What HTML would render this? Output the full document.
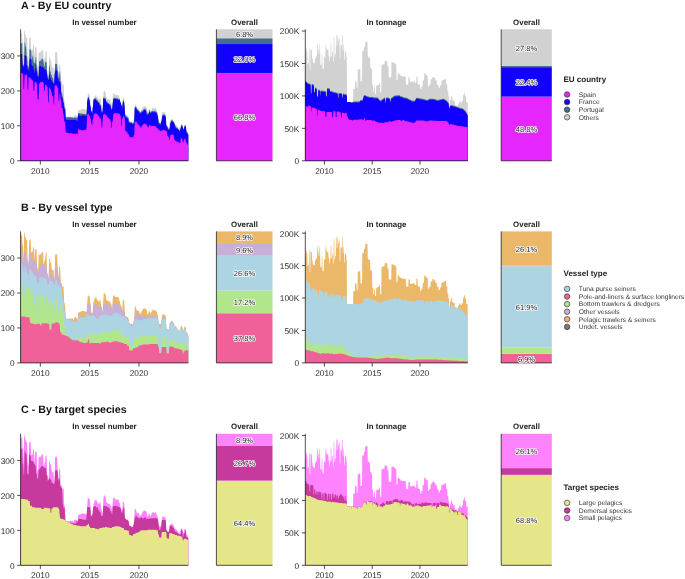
<!DOCTYPE html>
<html><head><meta charset="utf-8"><style>
html,body{margin:0;padding:0;background:#fff;}
body{width:685px;height:579px;overflow:hidden;}
svg{display:block;will-change:transform;text-rendering:geometricPrecision;font-family:"Liberation Sans", sans-serif;}
</style></head><body>
<svg width="685" height="579" viewBox="0 0 685 579">
<rect width="685" height="579" fill="#fff"/>
<path d="M20.60,160.80L20.60,33.12L21.10,33.12L21.60,33.12L22.10,33.64L22.60,43.48L23.10,43.48L23.60,60.06L24.10,31.56L24.60,30.01L25.11,34.67L25.61,34.67L26.11,37.78L26.61,37.26L27.11,38.30L27.61,56.95L28.11,60.06L28.61,62.13L29.11,38.82L29.61,37.78L30.11,37.26L30.61,37.26L31.11,49.70L31.61,50.73L32.11,50.22L32.61,49.70L33.11,45.03L33.62,44.52L34.12,47.63L34.62,59.02L35.12,47.63L35.62,47.11L36.12,46.59L36.62,47.63L37.12,66.28L37.62,65.24L38.12,70.42L38.62,52.81L39.12,52.29L39.62,52.29L40.12,52.81L40.62,51.77L41.12,52.29L41.63,50.22L42.13,49.70L42.63,49.70L43.13,50.73L43.63,62.13L44.13,61.10L44.63,57.99L45.13,57.99L45.63,51.25L46.13,50.73L46.63,51.77L47.13,70.42L47.63,71.46L48.13,75.60L48.63,75.60L49.13,56.95L49.63,56.43L50.14,59.54L50.64,60.06L51.14,61.10L51.64,66.28L52.14,68.35L52.64,67.83L53.14,67.31L53.64,68.35L54.14,79.75L54.64,74.57L55.14,52.81L55.64,52.29L56.14,51.77L56.64,52.29L57.14,52.81L57.64,63.17L58.14,71.46L58.65,76.64L59.15,63.17L59.65,65.24L60.15,65.24L60.65,80.27L61.15,81.82L61.65,80.27L62.15,84.12L62.65,85.15L63.15,83.60L63.65,84.64L64.15,100.70L64.65,100.70L65.15,104.84L65.65,116.24L66.15,116.76L66.65,116.76L67.16,116.76L67.66,116.76L68.16,116.76L68.66,116.76L69.16,116.76L69.66,116.76L70.16,116.24L70.66,116.24L71.16,116.76L71.66,116.76L72.16,116.24L72.66,116.24L73.16,117.80L73.66,117.80L74.16,115.72L74.66,115.72L75.17,114.69L75.67,114.69L76.17,115.72L76.67,115.72L77.17,117.28L77.67,117.28L78.17,110.54L78.67,110.54L79.17,110.02L79.67,110.02L80.17,110.02L80.67,109.51L81.17,109.51L81.67,108.99L82.17,108.99L82.67,108.99L83.17,108.99L83.68,108.99L84.18,108.99L84.68,109.51L85.18,109.51L85.68,109.51L86.18,110.02L86.68,110.02L87.18,101.73L87.68,94.48L88.18,93.44L88.68,93.44L89.18,94.48L89.68,94.48L90.18,100.70L90.68,102.77L91.18,111.06L91.68,111.06L92.19,111.06L92.69,108.99L93.19,102.77L93.69,98.63L94.19,98.63L94.69,96.03L95.19,96.03L95.69,95.00L96.19,95.00L96.69,97.07L97.19,97.07L97.69,98.63L98.19,98.63L98.69,99.66L99.19,99.66L99.69,97.59L100.19,97.59L100.70,99.66L101.20,104.84L101.70,104.84L102.20,107.95L102.70,111.06L103.20,98.63L103.70,91.37L104.20,90.85L104.70,90.85L105.20,92.41L105.70,92.41L106.20,97.59L106.70,97.59L107.20,98.63L107.70,98.63L108.20,99.14L108.71,99.14L109.21,99.14L109.71,99.66L110.21,99.66L110.71,101.73L111.21,101.73L111.71,104.84L112.21,108.99L112.71,97.59L113.21,93.44L113.71,93.44L114.21,93.44L114.71,93.44L115.21,95.00L115.71,95.00L116.21,95.00L116.71,95.00L117.22,95.00L117.72,95.26L118.22,95.26L118.72,95.26L119.22,98.41L119.72,98.41L120.22,101.56L120.72,102.62L121.22,104.72L121.72,104.72L122.22,108.92L122.72,98.41L123.22,96.83L123.72,97.89L124.22,99.46L124.72,108.92L125.22,114.18L125.73,114.18L126.23,114.70L126.73,114.70L127.23,115.23L127.73,115.23L128.23,116.28L128.73,116.28L129.23,120.48L129.73,121.01L130.23,121.53L130.73,121.53L131.23,121.53L131.73,121.53L132.23,122.59L132.73,122.59L133.23,121.01L133.73,118.38L134.24,116.28L134.74,104.72L135.24,104.72L135.74,104.19L136.24,106.29L136.74,108.40L137.24,108.40L137.74,108.92L138.24,108.40L138.74,108.40L139.24,109.45L139.74,111.55L140.24,112.60L140.74,110.50L141.24,110.50L141.74,108.92L142.25,108.92L142.75,106.82L143.25,106.82L143.75,106.82L144.25,106.29L144.75,106.29L145.25,106.29L145.75,106.29L146.25,107.35L146.75,107.35L147.25,112.07L147.75,112.07L148.25,111.55L148.75,108.92L149.25,108.92L149.75,109.45L150.25,112.60L150.76,110.50L151.26,110.50L151.76,108.40L152.26,108.40L152.76,107.35L153.26,107.35L153.76,108.40L154.26,108.40L154.76,108.40L155.26,107.87L155.76,107.87L156.26,109.45L156.76,109.45L157.26,112.07L157.76,112.60L158.26,116.28L158.76,121.53L159.27,121.53L159.77,122.06L160.27,122.06L160.77,121.53L161.27,121.53L161.77,116.28L162.27,112.07L162.77,112.07L163.27,112.07L163.77,112.60L164.27,112.60L164.77,112.60L165.27,113.13L165.77,114.18L166.27,125.74L166.77,125.74L167.27,126.79L167.78,126.79L168.28,127.32L168.78,127.32L169.28,125.74L169.78,121.01L170.28,121.01L170.78,119.43L171.28,118.91L171.78,118.91L172.28,119.43L172.78,119.43L173.28,121.01L173.78,121.01L174.28,122.59L174.78,124.16L175.28,124.16L175.79,124.16L176.29,125.21L176.79,125.21L177.29,126.79L177.79,126.79L178.29,127.84L178.79,129.42L179.29,129.94L179.79,126.79L180.29,126.79L180.79,124.16L181.29,124.16L181.79,123.64L182.29,124.69L182.79,127.84L183.29,128.89L183.79,127.32L184.30,125.21L184.80,124.16L185.30,124.16L185.80,125.74L186.30,129.94L186.80,130.99L187.30,130.99L187.80,132.05L188.30,134.15L188.30,160.80Z" fill="#D1D1D1"/>
<path d="M20.60,160.80L20.60,43.10L21.10,43.10L21.60,43.62L22.10,43.62L22.60,64.34L23.10,64.34L23.60,65.38L24.10,65.38L24.60,42.58L25.11,42.58L25.61,46.73L26.11,46.73L26.61,56.05L27.11,56.05L27.61,65.38L28.11,65.38L28.61,67.45L29.11,67.45L29.61,49.32L30.11,49.32L30.61,49.83L31.11,49.83L31.61,59.16L32.11,59.16L32.61,55.53L33.11,55.53L33.62,62.27L34.12,62.27L34.62,63.31L35.12,63.31L35.62,57.09L36.12,57.09L36.62,68.49L37.12,68.49L37.62,75.74L38.12,75.74L38.62,75.74L39.12,61.23L39.62,61.23L40.12,60.72L40.62,60.72L41.12,60.72L41.63,58.64L42.13,58.64L42.63,58.64L43.13,59.16L43.63,62.13L44.13,66.41L44.63,66.41L45.13,61.75L45.63,61.75L46.13,62.27L46.63,62.27L47.13,74.70L47.63,74.70L48.13,78.85L48.63,78.85L49.13,65.38L49.63,65.38L50.14,71.60L50.64,71.60L51.14,74.70L51.64,74.70L52.14,77.81L52.64,77.81L53.14,77.81L53.64,82.99L54.14,82.99L54.64,74.57L55.14,64.34L55.64,63.82L56.14,63.82L56.64,64.34L57.14,64.34L57.64,71.60L58.14,71.60L58.65,77.81L59.15,77.81L59.65,71.60L60.15,71.60L60.65,80.27L61.15,91.62L61.65,92.62L62.15,93.87L62.65,96.40L63.15,99.08L63.65,101.58L64.15,104.28L64.65,106.89L65.15,107.79L65.65,116.37L66.15,117.22L66.65,117.29L67.16,117.30L67.66,117.30L68.16,117.31L68.66,117.32L69.16,117.33L69.66,117.34L70.16,117.35L70.66,117.36L71.16,117.37L71.66,117.38L72.16,117.39L72.66,117.40L73.16,117.80L73.66,117.80L74.16,117.42L74.66,117.43L75.17,117.44L75.67,117.45L76.17,117.46L76.67,117.47L77.17,117.48L77.67,117.28L78.17,112.97L78.67,112.97L79.17,112.97L79.67,113.31L80.17,113.38L80.67,113.45L81.17,113.52L81.67,113.59L82.17,113.66L82.67,113.73L83.17,113.80L83.68,113.86L84.18,113.93L84.68,114.00L85.18,114.07L85.68,114.14L86.18,113.81L86.68,113.18L87.18,101.73L87.68,98.18L88.18,96.69L88.68,96.69L89.18,99.27L89.68,99.27L90.18,105.49L90.68,105.49L91.18,111.06L91.68,111.06L92.19,113.77L92.69,108.99L93.19,102.77L93.69,98.63L94.19,98.63L94.69,98.24L95.19,98.24L95.69,98.24L96.19,98.24L96.69,100.31L97.19,100.31L97.69,100.31L98.19,101.86L98.69,101.86L99.19,101.86L99.69,104.45L100.19,104.45L100.70,104.45L101.20,108.59L101.70,111.70L102.20,111.70L102.70,111.06L103.20,98.63L103.70,97.20L104.20,97.20L104.70,98.24L105.20,98.24L105.70,98.24L106.20,101.35L106.70,101.35L107.20,101.35L107.70,102.90L108.20,102.90L108.71,102.90L109.21,103.93L109.71,103.93L110.21,103.93L110.71,105.49L111.21,108.59L111.71,108.59L112.21,108.99L112.71,103.42L113.21,98.24L113.71,98.24L114.21,97.72L114.71,97.72L115.21,97.72L115.71,97.72L116.21,98.24L116.71,98.24L117.22,98.24L117.72,98.24L118.22,98.76L118.72,98.76L119.22,98.76L119.72,98.76L120.22,101.56L120.72,102.62L121.22,104.72L121.72,104.72L122.22,108.92L122.72,101.86L123.22,100.31L123.72,100.31L124.22,102.38L124.72,108.92L125.22,115.84L125.73,115.84L126.23,116.36L126.73,116.36L127.23,117.41L127.73,117.41L128.23,117.41L128.73,121.22L129.23,121.22L129.73,122.17L130.23,122.17L130.73,122.17L131.23,122.17L131.73,122.17L132.23,123.12L132.73,123.12L133.23,123.12L133.73,122.17L134.24,122.17L134.74,106.96L135.24,106.96L135.74,106.48L136.24,106.48L136.74,108.86L137.24,108.86L137.74,109.81L138.24,109.81L138.74,110.76L139.24,110.76L139.74,112.19L140.24,112.60L140.74,112.19L141.24,111.23L141.74,111.23L142.25,111.23L142.75,110.28L143.25,110.28L143.75,108.86L144.25,108.86L144.75,108.86L145.25,108.86L145.75,109.81L146.25,109.81L146.75,113.61L147.25,113.61L147.75,113.61L148.25,113.61L148.75,112.66L149.25,110.28L149.75,110.28L150.25,112.60L150.76,112.19L151.26,111.23L151.76,111.23L152.26,110.76L152.76,110.76L153.26,111.23L153.76,111.23L154.26,110.76L154.76,110.76L155.26,110.76L155.76,111.71L156.26,111.71L156.76,111.71L157.26,114.56L157.76,114.56L158.26,119.31L158.76,123.12L159.27,123.12L159.77,123.12L160.27,123.59L160.77,123.59L161.27,121.53L161.77,119.31L162.27,115.04L162.77,114.56L163.27,114.56L163.77,114.56L164.27,114.56L164.77,114.56L165.27,115.51L165.77,115.51L166.27,125.74L166.77,125.74L167.27,126.79L167.78,127.87L168.28,128.82L168.78,128.82L169.28,128.35L169.78,128.35L170.28,122.17L170.78,122.17L171.28,120.27L171.78,120.27L172.28,120.27L172.78,120.74L173.28,121.01L173.78,122.17L174.28,122.59L174.78,125.02L175.28,125.02L175.79,127.39L176.29,127.39L176.79,127.39L177.29,127.87L177.79,127.87L178.29,128.82L178.79,129.42L179.29,130.25L179.79,130.25L180.29,127.87L180.79,127.87L181.29,125.02L181.79,125.02L182.29,124.69L182.79,127.84L183.29,128.89L183.79,128.82L184.30,125.97L184.80,125.97L185.30,125.02L185.80,125.74L186.30,130.25L186.80,132.15L187.30,132.15L187.80,133.57L188.30,134.15L188.30,160.80Z" fill="#436E92"/>
<path d="M20.60,160.80L20.60,53.98L21.10,53.98L21.60,53.98L22.10,53.98L22.60,65.38L23.10,65.38L23.60,67.45L24.10,67.45L24.60,55.02L25.11,55.02L25.61,56.05L26.11,56.05L26.61,65.38L27.11,65.38L27.61,69.52L28.11,69.52L28.61,70.56L29.11,70.56L29.61,58.64L30.11,58.64L30.61,59.16L31.11,59.16L31.61,65.38L32.11,65.38L32.61,65.90L33.11,65.90L33.62,69.52L34.12,69.52L34.62,72.63L35.12,72.63L35.62,64.34L36.12,64.34L36.62,71.60L37.12,71.60L37.62,76.78L38.12,76.78L38.62,76.78L39.12,66.41L39.62,66.41L40.12,65.90L40.62,65.90L41.12,65.90L41.63,66.93L42.13,66.93L42.63,66.93L43.13,67.45L43.63,67.45L44.13,69.52L44.63,69.52L45.13,69.52L45.63,69.52L46.13,70.56L46.63,70.56L47.13,77.81L47.63,77.81L48.13,79.89L48.63,79.89L49.13,73.67L49.63,73.67L50.14,77.81L50.64,77.81L51.14,79.89L51.64,79.89L52.14,81.96L52.64,81.96L53.14,81.96L53.64,84.03L54.14,84.03L54.64,74.57L55.14,71.60L55.64,70.04L56.14,70.04L56.64,70.56L57.14,70.56L57.64,77.81L58.14,77.81L58.65,80.92L59.15,80.92L59.65,81.96L60.15,81.96L60.65,84.03L61.15,93.46L61.65,97.60L62.15,97.60L62.65,97.60L63.15,102.78L63.65,102.78L64.15,108.99L64.65,108.99L65.15,108.99L65.65,119.35L66.15,119.87L66.65,119.87L67.16,119.87L67.66,119.87L68.16,119.87L68.66,119.87L69.16,119.87L69.66,119.87L70.16,119.87L70.66,119.87L71.16,119.87L71.66,119.87L72.16,119.87L72.66,119.87L73.16,119.87L73.66,119.87L74.16,119.87L74.66,119.87L75.17,119.87L75.67,119.87L76.17,120.39L76.67,120.39L77.17,120.39L77.67,120.39L78.17,114.17L78.67,114.17L79.17,114.17L79.67,115.73L80.17,115.73L80.67,115.73L81.17,115.73L81.67,115.73L82.17,115.73L82.67,115.21L83.17,115.21L83.68,115.21L84.18,115.24L84.68,115.34L85.18,115.96L85.68,116.06L86.18,116.16L86.68,114.71L87.18,101.73L87.68,99.38L88.18,97.89L88.68,97.89L89.18,100.47L89.68,100.47L90.18,106.69L90.68,106.69L91.18,111.87L91.68,111.87L92.19,114.97L92.69,108.99L93.19,103.58L93.69,99.44L94.19,99.44L94.69,99.44L95.19,99.44L95.69,99.44L96.19,99.44L96.69,101.51L97.19,101.51L97.69,101.51L98.19,103.06L98.69,103.06L99.19,103.06L99.69,105.65L100.19,105.65L100.70,105.65L101.20,109.79L101.70,112.90L102.20,112.90L102.70,111.06L103.20,98.63L103.70,98.40L104.20,98.40L104.70,99.44L105.20,99.44L105.70,99.44L106.20,102.55L106.70,102.55L107.20,102.55L107.70,104.10L108.20,104.10L108.71,104.10L109.21,105.13L109.71,105.13L110.21,105.13L110.71,106.69L111.21,109.79L111.71,109.79L112.21,108.99L112.71,104.62L113.21,99.44L113.71,99.44L114.21,98.92L114.71,98.92L115.21,98.92L115.71,98.92L116.21,99.44L116.71,99.44L117.22,99.44L117.72,99.44L118.22,99.96L118.72,99.96L119.22,99.96L119.72,99.96L120.22,102.55L120.72,102.62L121.22,105.65L121.72,105.65L122.22,108.92L122.72,103.06L123.22,101.51L123.72,101.51L124.22,103.58L124.72,108.92L125.22,117.04L125.73,117.04L126.23,117.56L126.73,117.56L127.23,118.61L127.73,118.61L128.23,118.61L128.73,122.42L129.23,122.42L129.73,123.37L130.23,123.37L130.73,123.37L131.23,123.37L131.73,123.37L132.23,124.32L132.73,124.32L133.23,124.32L133.73,123.37L134.24,123.37L134.74,108.16L135.24,108.16L135.74,107.68L136.24,107.68L136.74,110.06L137.24,110.06L137.74,111.01L138.24,111.01L138.74,111.96L139.24,111.96L139.74,113.39L140.24,113.39L140.74,113.39L141.24,112.43L141.74,112.43L142.25,112.43L142.75,111.48L143.25,111.48L143.75,110.06L144.25,110.06L144.75,110.06L145.25,110.06L145.75,111.01L146.25,111.01L146.75,114.81L147.25,114.81L147.75,114.81L148.25,114.81L148.75,113.86L149.25,111.48L149.75,111.48L150.25,113.39L150.76,113.39L151.26,112.43L151.76,112.43L152.26,111.96L152.76,111.96L153.26,112.43L153.76,112.43L154.26,111.96L154.76,111.96L155.26,111.96L155.76,112.91L156.26,112.91L156.76,112.91L157.26,115.76L157.76,115.76L158.26,120.51L158.76,124.32L159.27,124.32L159.77,124.32L160.27,124.79L160.77,124.79L161.27,121.53L161.77,120.51L162.27,116.24L162.77,115.76L163.27,115.76L163.77,115.76L164.27,115.76L164.77,115.76L165.27,116.71L165.77,116.71L166.27,125.74L166.77,125.74L167.27,126.79L167.78,129.07L168.28,130.02L168.78,130.02L169.28,129.55L169.78,129.55L170.28,123.37L170.78,123.37L171.28,121.47L171.78,121.47L172.28,121.47L172.78,121.94L173.28,121.94L173.78,123.37L174.28,123.37L174.78,126.22L175.28,126.22L175.79,128.59L176.29,128.59L176.79,128.59L177.29,129.07L177.79,129.07L178.29,130.02L178.79,130.02L179.29,131.45L179.79,131.45L180.29,129.07L180.79,129.07L181.29,126.22L181.79,126.22L182.29,125.74L182.79,127.84L183.29,130.02L183.79,130.02L184.30,127.17L184.80,127.17L185.30,126.22L185.80,126.22L186.30,131.45L186.80,133.35L187.30,133.35L187.80,134.77L188.30,134.77L188.30,160.80Z" fill="#1200FF"/>
<path d="M20.60,160.80L20.60,72.95L21.10,72.95L21.60,72.95L22.10,73.47L22.60,73.47L23.10,73.47L23.60,89.02L24.10,89.02L24.60,74.51L25.11,74.51L25.61,75.54L26.11,75.54L26.61,74.51L27.11,74.51L27.61,90.05L28.11,90.05L28.61,77.10L29.11,77.10L29.61,77.62L30.11,77.62L30.61,78.65L31.11,78.65L31.61,79.69L32.11,79.69L32.61,80.73L33.11,80.73L33.62,91.09L34.12,91.09L34.62,82.28L35.12,82.28L35.62,81.76L36.12,81.76L36.62,83.83L37.12,83.83L37.62,99.38L38.12,99.38L38.62,99.38L39.12,83.32L39.62,83.32L40.12,82.28L40.62,82.28L41.12,82.28L41.63,81.76L42.13,81.76L42.63,81.76L43.13,82.80L43.63,82.80L44.13,91.09L44.63,91.09L45.13,84.87L45.63,84.87L46.13,85.39L46.63,85.39L47.13,86.94L47.63,86.94L48.13,102.49L48.63,102.49L49.13,87.46L49.63,87.46L50.14,89.02L50.64,89.02L51.14,92.12L51.64,92.12L52.14,96.27L52.64,96.27L53.14,96.27L53.64,104.56L54.14,104.56L54.64,85.91L55.14,85.91L55.64,84.87L56.14,84.87L56.64,85.91L57.14,85.91L57.64,87.98L58.14,87.98L58.65,101.45L59.15,101.45L59.65,93.16L60.15,93.16L60.65,99.38L61.15,99.38L61.65,107.96L62.15,107.96L62.65,107.96L63.15,114.17L63.65,114.17L64.15,121.42L64.65,121.42L65.15,121.42L65.65,131.78L66.15,132.81L66.65,132.81L67.16,132.81L67.66,132.81L68.16,132.81L68.66,133.33L69.16,133.33L69.66,133.33L70.16,133.33L70.66,133.33L71.16,133.33L71.66,133.33L72.16,133.33L72.66,133.85L73.16,133.85L73.66,133.85L74.16,133.85L74.66,133.85L75.17,133.85L75.67,133.85L76.17,133.85L76.67,133.85L77.17,133.85L77.67,133.85L78.17,128.67L78.67,128.67L79.17,129.70L79.67,129.70L80.17,129.70L80.67,129.70L81.17,129.70L81.67,130.22L82.17,130.22L82.67,130.22L83.17,130.22L83.68,130.22L84.18,130.22L84.68,129.70L85.18,129.70L85.68,129.70L86.18,129.70L86.68,126.60L87.18,114.17L87.68,114.17L88.18,113.65L88.68,113.65L89.18,115.73L89.68,115.73L90.18,118.31L90.68,118.31L91.18,123.49L91.68,123.49L92.19,126.60L92.69,119.35L93.19,119.35L93.69,114.17L94.19,114.17L94.69,114.17L95.19,113.14L95.69,113.14L96.19,113.14L96.69,114.17L97.19,114.17L97.69,114.17L98.19,115.73L98.69,115.73L99.19,115.73L99.69,118.31L100.19,118.31L100.70,118.31L101.20,121.42L101.70,127.63L102.20,127.63L102.70,119.35L103.20,114.17L103.70,114.17L104.20,114.17L104.70,114.17L105.20,114.17L105.70,114.17L106.20,115.73L106.70,115.73L107.20,115.73L107.70,117.80L108.20,117.80L108.71,117.80L109.21,119.35L109.71,119.35L110.21,119.35L110.71,120.90L111.21,127.63L111.71,127.63L112.21,121.42L112.71,121.42L113.21,114.17L113.71,114.17L114.21,113.14L114.71,113.14L115.21,113.14L115.71,113.14L116.21,113.14L116.71,113.14L117.22,113.14L117.72,113.14L118.22,113.65L118.72,113.65L119.22,113.65L119.72,113.65L120.22,115.21L120.72,115.21L121.22,125.56L121.72,125.56L122.22,118.31L122.72,118.31L123.22,115.73L123.72,115.73L124.22,117.28L124.72,117.28L125.22,130.74L125.73,130.74L126.23,131.78L126.73,131.78L127.23,131.78L127.73,133.97L128.23,133.97L128.73,133.97L129.23,136.83L129.73,136.83L130.23,136.83L130.73,137.30L131.23,137.30L131.73,137.30L132.23,137.30L132.73,137.30L133.23,137.30L133.73,134.92L134.24,134.92L134.74,122.57L135.24,122.57L135.74,121.14L136.24,121.14L136.74,122.57L137.24,122.57L137.74,124.47L138.24,124.47L138.74,124.47L139.24,125.42L139.74,126.37L140.24,126.37L140.74,127.79L141.24,127.79L141.74,125.42L142.25,125.42L142.75,125.42L143.25,123.99L143.75,123.99L144.25,123.99L144.75,123.52L145.25,123.52L145.75,124.47L146.25,124.47L146.75,124.47L147.25,126.37L147.75,126.37L148.25,127.32L148.75,127.32L149.25,124.47L149.75,125.42L150.25,125.42L150.76,125.42L151.26,125.89L151.76,125.89L152.26,125.89L152.76,125.89L153.26,125.89L153.76,125.89L154.26,125.89L154.76,126.37L155.26,126.37L155.76,126.37L156.26,127.79L156.76,127.79L157.26,127.79L157.76,128.75L158.26,128.75L158.76,130.17L159.27,130.17L159.77,130.17L160.27,131.12L160.77,131.12L161.27,131.12L161.77,130.17L162.27,130.17L162.77,130.17L163.27,129.70L163.77,129.70L164.27,130.17L164.77,130.17L165.27,130.17L165.77,131.12L166.27,131.12L166.77,131.12L167.27,135.87L167.78,135.87L168.28,136.83L168.78,136.83L169.28,139.68L169.78,139.68L170.28,134.92L170.78,134.92L171.28,134.92L171.78,133.97L172.28,133.97L172.78,134.92L173.28,134.92L173.78,134.92L174.28,139.68L174.78,139.68L175.28,140.63L175.79,140.63L176.29,141.58L176.79,141.58L177.29,141.58L177.79,142.05L178.29,142.05L178.79,142.05L179.29,143.00L179.79,143.00L180.29,143.00L180.79,137.78L181.29,137.78L181.79,138.73L182.29,138.73L182.79,142.53L183.29,142.53L183.79,139.68L184.30,139.68L184.80,138.25L185.30,138.25L185.80,141.58L186.30,141.58L186.80,143.48L187.30,144.43L187.80,144.43L188.30,146.33L188.30,160.80Z" fill="#E526FF"/>
<path d="M305.30,160.80L305.30,55.00L305.55,54.97L305.80,54.94L306.05,48.34L306.30,48.30L306.55,48.26L306.80,51.17L307.05,51.13L307.30,51.09L307.55,64.50L307.80,64.49L308.05,64.48L308.30,62.63L308.55,62.61L308.80,62.60L309.05,48.42L309.30,48.38L309.55,48.34L309.80,69.87L310.05,69.87L310.30,69.87L310.55,49.49L310.80,49.45L311.05,49.41L311.30,49.98L311.55,49.94L311.80,49.90L312.05,58.18L312.30,58.16L312.55,58.14L312.80,62.30L313.05,62.29L313.30,62.27L313.54,62.89L313.79,62.88L314.04,62.86L314.29,63.45L314.54,63.44L314.79,63.43L315.04,58.51L315.29,58.49L315.54,58.47L315.79,56.90L316.04,56.88L316.29,56.88L316.54,55.61L316.79,55.61L317.04,55.61L317.29,44.12L317.54,44.12L317.79,44.12L318.04,49.39L318.29,49.39L318.54,49.39L318.79,53.82L319.04,53.82L319.29,53.82L319.54,44.29L319.79,44.29L320.04,44.29L320.29,64.40L320.54,64.40L320.79,64.40L321.04,65.83L321.29,65.83L321.54,65.83L321.79,54.07L322.04,54.07L322.29,54.07L322.54,68.86L322.79,68.86L323.04,68.86L323.29,69.07L323.54,69.07L323.79,69.07L324.04,56.61L324.29,56.61L324.54,56.61L324.79,57.88L325.04,57.84L325.29,57.57L325.54,45.00L325.79,44.33L326.04,43.61L326.29,49.49L326.54,48.42L326.79,48.05L327.04,50.30L327.29,50.00L327.54,49.70L327.79,49.83L328.04,49.56L328.29,49.46L328.54,55.70L328.79,55.65L329.04,55.60L329.29,61.69L329.54,61.69L329.78,61.69L330.03,56.86L330.28,56.82L330.53,56.78L330.78,43.09L331.03,42.95L331.28,42.81L331.53,56.39L331.78,56.35L332.03,56.31L332.28,51.44L332.53,51.37L332.78,51.29L333.03,61.89L333.28,61.89L333.53,61.89L333.78,37.25L334.03,37.09L334.28,37.00L334.53,57.33L334.78,57.32L335.03,57.30L335.28,53.83L335.53,53.80L335.78,53.77L336.03,34.85L336.28,34.75L336.53,34.66L336.78,46.12L337.03,46.06L337.28,46.01L337.53,35.34L337.78,35.25L338.03,35.16L338.28,41.67L338.53,41.60L338.78,41.53L339.03,38.19L339.28,38.12L339.53,38.04L339.78,59.03L340.03,59.03L340.28,59.05L340.53,44.64L340.78,44.75L341.03,44.86L341.28,46.01L341.53,46.12L341.78,46.22L342.03,35.09L342.28,35.26L342.53,35.44L342.78,51.06L343.03,51.13L343.28,51.20L343.53,44.24L343.78,44.36L344.03,44.48L344.28,60.28L344.53,60.29L344.78,60.30L345.03,50.95L345.28,51.03L345.53,51.11L345.78,52.99L346.02,53.05L346.27,53.12L346.52,57.90L346.77,57.93L347.02,101.90L347.27,101.90L347.52,101.90L347.77,101.90L348.02,101.90L348.27,101.90L348.52,101.90L348.77,101.90L349.02,101.90L349.27,101.90L349.52,101.90L349.77,101.90L350.02,102.15L350.27,102.15L350.52,102.15L350.77,102.15L351.02,102.15L351.27,102.15L351.52,102.15L351.77,102.15L352.02,102.15L352.27,102.15L352.52,102.15L352.77,102.15L353.02,102.15L353.27,89.03L353.52,89.03L353.77,89.03L354.02,89.03L354.27,89.03L354.52,89.03L354.77,89.03L355.02,81.44L355.27,81.44L355.52,81.44L355.77,81.44L356.02,81.44L356.27,81.44L356.52,81.44L356.77,88.34L357.02,88.34L357.27,88.34L357.52,88.34L357.77,69.70L358.02,69.70L358.27,69.70L358.52,69.70L358.77,69.70L359.02,69.70L359.27,69.01L359.52,69.01L359.77,69.01L360.02,69.01L360.27,69.01L360.52,81.44L360.77,81.44L361.02,81.44L361.27,81.44L361.52,81.44L361.77,81.44L362.02,81.44L362.26,51.05L362.51,51.05L362.76,51.05L363.01,51.05L363.26,51.05L363.51,51.05L363.76,51.05L364.01,46.91L364.26,46.91L364.51,46.91L364.76,46.91L365.01,46.91L365.26,41.38L365.51,41.38L365.76,41.38L366.01,41.38L366.26,41.38L366.51,41.38L366.76,42.07L367.01,42.07L367.26,42.07L367.51,42.07L367.76,56.57L368.01,56.57L368.26,56.57L368.51,56.57L368.76,57.96L369.01,57.96L369.26,57.96L369.51,57.96L369.76,57.96L370.01,57.96L370.26,67.62L370.51,67.62L370.76,67.62L371.01,67.62L371.26,69.01L371.51,69.01L371.76,69.01L372.01,69.01L372.26,85.58L372.51,85.58L372.76,85.58L373.01,85.58L373.26,92.49L373.51,92.49L373.76,92.49L374.01,86.96L374.26,86.96L374.51,86.96L374.76,86.96L375.01,93.87L375.26,93.87L375.51,93.87L375.76,93.87L376.01,93.87L376.26,85.58L376.51,85.58L376.76,85.58L377.01,85.58L377.26,85.58L377.51,85.58L377.76,84.89L378.01,84.89L378.26,84.89L378.50,84.89L378.75,84.89L379.00,84.89L379.25,82.82L379.50,82.82L379.75,82.82L380.00,82.82L380.25,92.49L380.50,92.49L380.75,92.49L381.00,92.49L381.25,92.49L381.50,64.86L381.75,64.86L382.00,64.86L382.25,64.86L382.50,64.86L382.75,64.86L383.00,64.17L383.25,64.17L383.50,64.17L383.75,64.17L384.00,64.17L384.25,64.17L384.50,64.17L384.75,60.72L385.00,60.72L385.25,60.72L385.50,60.72L385.75,60.72L386.00,60.72L386.25,61.41L386.50,61.41L386.75,61.41L387.00,61.41L387.25,61.41L387.50,66.24L387.75,66.24L388.00,66.24L388.25,66.24L388.50,66.24L388.75,77.29L389.00,77.29L389.25,77.29L389.50,77.29L389.75,77.29L390.00,77.29L390.25,77.29L390.50,77.29L390.75,77.29L391.00,77.29L391.25,77.29L391.50,62.10L391.75,62.10L392.00,62.10L392.25,62.10L392.50,62.10L392.75,62.10L393.00,62.10L393.25,62.79L393.50,62.79L393.75,62.79L394.00,62.79L394.25,62.79L394.50,62.79L394.74,62.79L394.99,64.17L395.24,64.17L395.49,64.17L395.74,64.17L395.99,64.17L396.24,64.17L396.49,80.06L396.74,80.06L396.99,80.06L397.24,80.06L397.49,80.06L397.74,73.15L397.99,73.15L398.24,73.15L398.49,73.15L398.74,73.15L398.99,73.15L399.24,74.53L399.49,74.53L399.74,74.53L399.99,74.53L400.24,74.53L400.49,75.91L400.74,75.91L400.99,75.91L401.24,75.91L401.49,75.91L401.74,75.91L401.99,75.91L402.24,76.60L402.49,76.60L402.74,76.60L402.99,76.60L403.24,76.60L403.49,76.60L403.74,76.60L403.99,76.60L404.24,76.60L404.49,76.60L404.74,76.60L404.99,76.60L405.24,76.60L405.49,76.60L405.74,76.60L405.99,84.20L406.24,84.20L406.49,84.20L406.74,84.20L406.99,84.20L407.24,84.77L407.49,84.77L407.74,84.77L407.99,84.77L408.24,84.77L408.49,77.52L408.74,77.52L408.99,77.52L409.24,77.52L409.49,77.52L409.74,77.52L409.99,81.75L410.24,81.75L410.49,81.75L410.74,81.75L410.98,81.75L411.23,81.75L411.48,81.75L411.73,81.75L411.98,81.75L412.23,81.75L412.48,81.75L412.73,81.75L412.98,81.75L413.23,81.14L413.48,81.14L413.73,81.14L413.98,81.14L414.23,81.14L414.48,81.14L414.73,81.14L414.98,82.96L415.23,82.96L415.48,82.96L415.73,82.96L415.98,82.96L416.23,82.96L416.48,76.31L416.73,76.31L416.98,76.31L417.23,76.31L417.48,76.31L417.73,84.16L417.98,84.16L418.23,84.16L418.48,84.16L418.73,84.16L418.98,84.77L419.23,84.77L419.48,84.77L419.73,84.77L419.98,84.77L420.23,89.00L420.48,89.00L420.73,89.00L420.98,89.00L421.23,89.00L421.48,86.58L421.73,86.58L421.98,86.58L422.23,86.58L422.48,86.58L422.73,80.54L422.98,80.54L423.23,80.54L423.48,80.54L423.73,80.54L423.98,80.54L424.23,73.29L424.48,73.29L424.73,73.29L424.98,73.29L425.23,73.29L425.48,73.29L425.73,75.10L425.98,75.10L426.23,75.10L426.48,75.10L426.73,75.10L426.98,75.71L427.22,75.71L427.47,75.71L427.72,75.71L427.97,86.58L428.22,86.58L428.47,86.58L428.72,86.58L428.97,86.58L429.22,84.77L429.47,84.77L429.72,84.77L429.97,84.77L430.22,84.77L430.47,84.77L430.72,79.33L430.97,79.33L431.22,79.33L431.47,79.33L431.72,79.33L431.97,79.33L432.22,79.33L432.47,76.91L432.72,76.91L432.97,76.91L433.22,76.91L433.47,76.91L433.72,76.91L433.97,78.12L434.22,78.12L434.47,78.12L434.72,78.12L434.97,78.12L435.22,78.12L435.47,80.54L435.72,80.54L435.97,80.54L436.22,80.54L436.47,80.54L436.72,80.54L436.97,84.77L437.22,84.77L437.47,84.77L437.72,84.77L437.97,84.77L438.22,84.77L438.47,84.77L438.72,87.79L438.97,87.79L439.22,87.79L439.47,87.79L439.72,87.79L439.97,87.79L440.22,85.37L440.47,85.37L440.72,85.37L440.97,85.37L441.22,85.37L441.47,80.54L441.72,80.54L441.97,80.54L442.22,80.54L442.47,80.54L442.72,80.54L442.97,79.93L443.22,79.93L443.46,79.93L443.71,79.93L443.96,79.93L444.21,79.93L444.46,79.93L444.71,78.73L444.96,78.73L445.21,78.73L445.46,78.73L445.71,78.73L445.96,78.73L446.21,84.16L446.46,84.16L446.71,84.16L446.96,84.16L447.21,84.16L447.46,91.41L447.71,91.41L447.96,91.41L448.21,91.41L448.46,96.25L448.71,96.25L448.96,96.25L449.21,105.91L449.46,105.91L449.71,105.91L449.96,99.87L450.21,99.87L450.46,99.87L450.71,99.87L450.96,96.25L451.21,96.25L451.46,96.25L451.71,96.25L451.96,96.25L452.21,99.87L452.46,99.87L452.71,99.87L452.96,99.87L453.21,99.87L453.46,101.08L453.71,101.08L453.96,101.08L454.21,101.08L454.46,101.08L454.71,101.08L454.96,105.31L455.21,105.31L455.46,105.31L455.71,105.31L455.96,105.31L456.21,105.31L456.46,105.31L456.71,105.91L456.96,105.91L457.21,105.91L457.46,105.91L457.71,105.91L457.96,105.91L458.21,103.49L458.46,103.49L458.71,103.49L458.96,103.49L459.21,103.49L459.46,101.08L459.70,101.08L459.95,101.08L460.20,101.08L460.45,101.08L460.70,102.89L460.95,102.89L461.20,102.89L461.45,102.89L461.70,102.89L461.95,101.08L462.20,101.08L462.45,101.08L462.70,101.08L462.95,101.08L463.20,95.04L463.45,95.04L463.70,95.04L463.95,95.04L464.20,92.62L464.45,92.62L464.70,92.62L464.95,96.25L465.20,96.25L465.45,96.25L465.70,96.25L465.95,96.25L466.20,101.68L466.45,101.68L466.70,101.68L466.95,101.68L467.20,102.29L467.45,102.29L467.70,102.29L467.70,160.80Z" fill="#D1D1D1"/>
<path d="M305.30,160.80L305.30,80.72L305.55,80.79L305.80,81.04L306.05,81.30L306.30,81.55L306.55,81.80L306.80,82.06L307.05,82.31L307.30,82.57L307.55,82.84L307.80,83.09L308.05,83.28L308.30,83.35L308.55,83.41L308.80,83.47L309.05,83.54L309.30,83.60L309.55,83.66L309.80,83.73L310.05,83.79L310.30,83.85L310.55,83.92L310.80,92.71L311.05,92.76L311.30,92.82L311.55,92.88L311.80,83.89L312.05,83.95L312.30,84.02L312.55,84.08L312.80,84.14L313.05,84.27L313.30,84.46L313.54,84.65L313.79,84.84L314.04,91.58L314.29,91.75L314.54,91.92L314.79,92.10L315.04,87.22L315.29,87.40L315.54,87.59L315.79,87.78L316.04,87.97L316.29,88.15L316.54,88.34L316.79,88.53L317.04,95.69L317.29,95.86L317.54,96.03L317.79,96.20L318.04,96.28L318.29,89.57L318.54,89.60L318.79,89.62L319.04,89.65L319.29,89.67L319.54,89.70L319.79,89.72L320.04,94.95L320.29,94.98L320.54,90.47L320.79,90.49L321.04,90.52L321.29,90.54L321.54,90.57L321.79,90.59L322.04,90.62L322.29,90.64L322.54,90.67L322.79,90.73L323.04,90.77L323.29,90.80L323.54,90.84L323.79,90.88L324.04,90.92L324.29,90.95L324.54,90.99L324.79,91.03L325.04,91.06L325.29,91.10L325.54,91.14L325.79,91.18L326.04,95.84L326.29,95.88L326.54,95.91L326.79,95.95L327.04,88.05L327.29,88.09L327.54,88.13L327.79,88.17L328.04,88.21L328.29,88.25L328.54,88.29L328.79,88.33L329.04,88.36L329.29,88.40L329.54,88.44L329.78,88.48L330.03,90.88L330.28,90.92L330.53,90.95L330.78,90.99L331.03,91.03L331.28,91.07L331.53,91.10L331.78,91.14L332.03,91.18L332.28,91.22L332.53,91.25L332.78,91.74L333.03,91.79L333.28,91.83L333.53,91.88L333.78,91.93L334.03,91.98L334.28,92.03L334.53,92.08L334.78,92.13L335.03,92.18L335.28,92.23L335.53,92.28L335.78,92.33L336.03,92.57L336.28,92.62L336.53,92.67L336.78,92.72L337.03,92.77L337.28,92.82L337.53,92.87L337.78,92.92L338.03,97.17L338.28,97.20L338.53,97.24L338.78,92.85L339.03,92.88L339.28,92.92L339.53,92.96L339.78,93.00L340.03,93.03L340.28,93.07L340.53,93.11L340.78,93.15L341.03,93.18L341.28,93.22L341.53,93.26L341.78,93.30L342.03,93.33L342.28,97.13L342.53,97.16L342.78,97.22L343.03,93.34L343.28,93.46L343.53,93.58L343.78,93.69L344.03,93.81L344.28,93.93L344.53,94.04L344.78,94.16L345.03,94.28L345.28,94.39L345.53,93.83L345.78,93.94L346.02,94.06L346.27,94.18L346.52,94.42L346.77,94.87L347.02,101.90L347.27,101.90L347.52,101.90L347.77,101.90L348.02,101.90L348.27,101.90L348.52,101.90L348.77,101.90L349.02,101.90L349.27,101.90L349.52,101.90L349.77,101.90L350.02,102.15L350.27,102.15L350.52,102.15L350.77,102.15L351.02,102.15L351.27,102.15L351.52,102.15L351.77,102.15L352.02,102.15L352.27,102.15L352.52,102.15L352.77,102.15L353.02,102.15L353.27,101.38L353.52,101.38L353.77,101.38L354.02,101.38L354.27,101.38L354.52,101.38L354.77,101.38L355.02,101.38L355.27,101.46L355.52,101.46L355.77,101.46L356.02,101.46L356.27,101.59L356.52,101.59L356.77,101.59L357.02,101.59L357.27,101.59L357.52,101.59L357.77,101.59L358.02,101.59L358.27,101.59L358.52,101.59L358.77,101.59L359.02,101.34L359.27,101.34L359.52,101.34L359.77,101.34L360.02,101.34L360.27,100.10L360.52,100.10L360.77,100.10L361.02,100.10L361.27,100.10L361.52,100.10L361.77,100.10L362.02,100.10L362.26,100.10L362.51,100.10L362.76,99.17L363.01,98.00L363.26,97.79L363.51,96.63L363.76,95.47L364.01,95.29L364.26,95.32L364.51,95.35L364.76,95.38L365.01,94.89L365.26,94.92L365.51,94.95L365.76,94.98L366.01,96.03L366.26,96.06L366.51,96.09L366.76,96.12L367.01,96.15L367.26,96.18L367.51,96.21L367.76,96.24L368.01,96.27L368.26,96.30L368.51,96.73L368.76,96.76L369.01,96.79L369.26,96.82L369.51,96.85L369.76,96.88L370.01,96.91L370.26,96.96L370.51,97.02L370.76,97.08L371.01,97.14L371.26,96.75L371.51,96.81L371.76,96.87L372.01,96.92L372.26,96.98L372.51,97.04L372.76,97.10L373.01,97.16L373.26,97.22L373.51,97.27L373.76,97.33L374.01,97.39L374.26,98.75L374.51,97.09L374.76,97.15L375.01,97.21L375.26,97.27L375.51,97.33L375.76,97.39L376.01,97.45L376.26,97.51L376.51,97.56L376.76,97.41L377.01,97.47L377.26,97.53L377.51,97.61L377.76,97.78L378.01,97.95L378.26,98.12L378.50,98.28L378.75,99.20L379.00,99.36L379.25,99.53L379.50,99.70L379.75,99.86L380.00,100.03L380.25,100.19L380.50,100.36L380.75,100.53L381.00,100.69L381.25,100.77L381.50,99.78L381.75,99.61L382.00,99.44L382.25,99.28L382.50,99.11L382.75,98.94L383.00,98.77L383.25,98.60L383.50,98.43L383.75,98.22L384.00,98.05L384.25,97.89L384.50,97.72L384.75,97.55L385.00,97.44L385.25,101.93L385.50,101.93L385.75,101.93L386.00,97.49L386.25,97.49L386.50,97.49L386.75,97.49L387.00,97.49L387.25,97.49L387.50,97.49L387.75,97.49L388.00,97.78L388.25,97.78L388.50,97.78L388.75,97.78L389.00,98.24L389.25,98.24L389.50,98.24L389.75,98.24L390.00,98.17L390.25,101.18L390.50,101.06L390.75,100.94L391.00,98.01L391.25,97.88L391.50,97.76L391.75,97.63L392.00,97.51L392.25,97.39L392.50,97.26L392.75,97.14L393.00,96.52L393.25,96.40L393.50,96.27L393.75,96.15L394.00,96.02L394.25,95.66L394.50,95.53L394.74,95.40L394.99,95.38L395.24,95.42L395.49,95.46L395.74,95.50L395.99,95.53L396.24,95.43L396.49,95.47L396.74,95.51L396.99,95.55L397.24,95.58L397.49,95.62L397.74,95.09L397.99,95.13L398.24,95.17L398.49,95.21L398.74,95.24L398.99,95.28L399.24,95.32L399.49,95.36L399.74,95.40L399.99,95.44L400.24,96.15L400.49,96.20L400.74,96.25L400.99,96.30L401.24,96.35L401.49,96.40L401.74,96.45L401.99,96.50L402.24,96.55L402.49,96.60L402.74,96.65L402.99,97.16L403.24,97.21L403.49,97.26L403.74,97.31L403.99,97.36L404.24,97.41L404.49,97.46L404.74,97.51L404.99,97.59L405.24,97.61L405.49,97.63L405.74,97.67L405.99,97.72L406.24,97.62L406.49,97.75L406.74,97.89L406.99,98.05L407.24,98.18L407.49,98.30L407.74,98.43L407.99,98.55L408.24,98.68L408.49,98.80L408.74,98.93L408.99,99.05L409.24,99.18L409.49,99.30L409.74,99.43L409.99,99.55L410.24,99.67L410.49,99.80L410.74,99.92L410.98,100.05L411.23,100.17L411.48,100.30L411.73,100.42L411.98,100.55L412.23,100.67L412.48,100.68L412.73,100.68L412.98,100.68L413.23,100.68L413.48,100.68L413.73,100.68L413.98,100.68L414.23,100.68L414.48,100.68L414.73,100.57L414.98,100.15L415.23,99.74L415.48,99.32L415.73,98.90L415.98,98.49L416.23,98.07L416.48,97.66L416.73,97.71L416.98,97.76L417.23,97.81L417.48,97.86L417.73,97.91L417.98,97.96L418.23,98.01L418.48,98.06L418.73,98.11L418.98,98.16L419.23,98.21L419.48,98.26L419.73,98.30L419.98,98.35L420.23,98.39L420.48,98.43L420.73,98.47L420.98,98.51L421.23,98.55L421.48,98.60L421.73,98.64L421.98,98.68L422.23,98.72L422.48,98.76L422.73,98.80L422.98,98.85L423.23,98.90L423.48,98.97L423.73,99.04L423.98,99.11L424.23,99.19L424.48,99.26L424.73,99.33L424.98,99.40L425.23,99.47L425.48,99.54L425.73,99.61L425.98,99.68L426.23,99.76L426.48,99.83L426.73,99.90L426.98,99.97L427.22,100.04L427.47,100.00L427.72,99.83L427.97,99.66L428.22,99.50L428.47,99.33L428.72,99.16L428.97,99.00L429.22,98.87L429.47,98.87L429.72,98.87L429.97,98.87L430.22,98.87L430.47,98.87L430.72,98.87L430.97,98.87L431.22,98.87L431.47,98.87L431.72,98.87L431.97,98.87L432.22,98.87L432.47,98.87L432.72,98.87L432.97,98.87L433.22,98.87L433.47,98.87L433.72,98.87L433.97,98.87L434.22,98.94L434.47,99.03L434.72,99.11L434.97,99.19L435.22,99.28L435.47,99.36L435.72,99.44L435.97,99.53L436.22,99.61L436.47,99.69L436.72,99.78L436.97,99.86L437.22,99.94L437.47,100.03L437.72,100.05L437.97,99.99L438.22,99.93L438.47,99.87L438.72,99.80L438.97,99.74L439.22,99.68L439.47,99.62L439.72,99.55L439.97,99.49L440.22,99.43L440.47,99.37L440.72,99.31L440.97,99.26L441.22,99.20L441.47,99.14L441.72,99.08L441.97,99.02L442.22,98.97L442.47,98.91L442.72,98.85L442.97,98.79L443.22,98.73L443.46,98.67L443.71,98.66L443.96,98.83L444.21,99.00L444.46,99.17L444.71,99.34L444.96,99.51L445.21,99.68L445.46,99.85L445.71,100.02L445.96,100.19L446.21,100.36L446.46,100.53L446.71,100.71L446.96,100.96L447.21,101.21L447.46,101.46L447.71,101.71L447.96,101.96L448.21,102.21L448.46,102.46L448.71,103.85L448.96,105.42L449.21,106.98L449.46,108.53L449.71,107.46L449.96,106.39L450.21,105.32L450.46,104.94L450.71,104.99L450.96,105.04L451.21,105.09L451.46,105.14L451.71,105.19L451.96,105.24L452.21,105.29L452.46,105.34L452.71,105.39L452.96,105.44L453.21,105.49L453.46,105.56L453.71,105.64L453.96,105.73L454.21,105.81L454.46,105.89L454.71,105.97L454.96,106.06L455.21,106.14L455.46,106.22L455.71,106.31L455.96,106.39L456.21,106.47L456.46,106.56L456.71,106.64L456.96,106.72L457.21,106.81L457.46,106.89L457.71,106.97L457.96,107.06L458.21,107.14L458.46,107.22L458.71,107.31L458.96,107.39L459.21,107.47L459.46,107.56L459.70,107.64L459.95,107.72L460.20,107.81L460.45,107.89L460.70,107.96L460.95,108.03L461.20,108.09L461.45,108.15L461.70,108.21L461.95,108.28L462.20,108.34L462.45,108.40L462.70,108.46L462.95,108.53L463.20,108.75L463.45,109.00L463.70,109.25L463.95,109.50L464.20,109.74L464.45,109.99L464.70,110.24L464.95,110.49L465.20,110.74L465.45,111.02L465.70,111.44L465.95,111.86L466.20,112.27L466.45,112.69L466.70,113.10L466.95,113.52L467.20,113.94L467.45,114.14L467.70,114.31L467.70,160.80Z" fill="#436E92"/>
<path d="M305.30,160.80L305.30,81.72L305.55,81.79L305.80,82.04L306.05,82.30L306.30,82.55L306.55,82.80L306.80,83.06L307.05,83.31L307.30,83.57L307.55,83.84L307.80,84.09L308.05,84.28L308.30,84.35L308.55,84.41L308.80,84.47L309.05,84.54L309.30,84.60L309.55,84.66L309.80,84.73L310.05,84.79L310.30,84.85L310.55,84.92L310.80,93.71L311.05,93.76L311.30,93.82L311.55,93.88L311.80,84.89L312.05,84.95L312.30,85.02L312.55,85.08L312.80,85.14L313.05,85.27L313.30,85.46L313.54,85.65L313.79,85.84L314.04,92.58L314.29,92.75L314.54,92.92L314.79,93.10L315.04,88.22L315.29,88.40L315.54,88.59L315.79,88.78L316.04,88.97L316.29,89.15L316.54,89.34L316.79,89.53L317.04,96.69L317.29,96.86L317.54,97.03L317.79,97.20L318.04,97.28L318.29,90.57L318.54,90.60L318.79,90.62L319.04,90.65L319.29,90.67L319.54,90.70L319.79,90.72L320.04,95.95L320.29,95.98L320.54,91.47L320.79,91.49L321.04,91.52L321.29,91.54L321.54,91.57L321.79,91.59L322.04,91.62L322.29,91.64L322.54,91.67L322.79,91.73L323.04,91.77L323.29,91.80L323.54,91.84L323.79,91.88L324.04,91.92L324.29,91.95L324.54,91.99L324.79,92.03L325.04,92.06L325.29,92.10L325.54,92.14L325.79,92.18L326.04,96.84L326.29,96.88L326.54,96.91L326.79,96.95L327.04,89.05L327.29,89.09L327.54,89.13L327.79,89.17L328.04,89.21L328.29,89.25L328.54,89.29L328.79,89.33L329.04,89.36L329.29,89.40L329.54,89.44L329.78,89.48L330.03,91.88L330.28,91.92L330.53,91.95L330.78,91.99L331.03,92.03L331.28,92.07L331.53,92.10L331.78,92.14L332.03,92.18L332.28,92.22L332.53,92.25L332.78,92.74L333.03,92.79L333.28,92.83L333.53,92.88L333.78,92.93L334.03,92.98L334.28,93.03L334.53,93.08L334.78,93.13L335.03,93.18L335.28,93.23L335.53,93.28L335.78,93.33L336.03,93.57L336.28,93.62L336.53,93.67L336.78,93.72L337.03,93.77L337.28,93.82L337.53,93.87L337.78,93.92L338.03,98.17L338.28,98.20L338.53,98.24L338.78,93.85L339.03,93.88L339.28,93.92L339.53,93.96L339.78,94.00L340.03,94.03L340.28,94.07L340.53,94.11L340.78,94.15L341.03,94.18L341.28,94.22L341.53,94.26L341.78,94.30L342.03,94.33L342.28,98.13L342.53,98.16L342.78,98.22L343.03,94.34L343.28,94.46L343.53,94.58L343.78,94.69L344.03,94.81L344.28,94.93L344.53,95.04L344.78,95.16L345.03,95.28L345.28,95.39L345.53,94.83L345.78,94.94L346.02,95.06L346.27,95.18L346.52,95.42L346.77,95.87L347.02,101.90L347.27,101.90L347.52,101.90L347.77,101.90L348.02,101.90L348.27,101.90L348.52,101.90L348.77,101.90L349.02,101.90L349.27,101.90L349.52,101.90L349.77,101.90L350.02,102.29L350.27,102.70L350.52,102.70L350.77,102.70L351.02,102.70L351.27,102.70L351.52,102.70L351.77,102.70L352.02,102.70L352.27,102.70L352.52,102.70L352.77,102.70L353.02,102.38L353.27,102.38L353.52,102.38L353.77,102.38L354.02,102.38L354.27,102.38L354.52,102.38L354.77,102.38L355.02,102.38L355.27,102.46L355.52,102.46L355.77,102.46L356.02,102.46L356.27,102.59L356.52,102.59L356.77,102.59L357.02,102.59L357.27,102.59L357.52,102.59L357.77,102.59L358.02,102.59L358.27,102.59L358.52,102.59L358.77,102.59L359.02,102.34L359.27,102.34L359.52,102.34L359.77,102.34L360.02,102.34L360.27,101.10L360.52,101.10L360.77,101.10L361.02,101.10L361.27,101.10L361.52,101.10L361.77,101.10L362.02,101.10L362.26,101.10L362.51,101.10L362.76,100.17L363.01,99.00L363.26,98.79L363.51,97.63L363.76,96.47L364.01,96.29L364.26,96.32L364.51,96.35L364.76,96.38L365.01,95.89L365.26,95.92L365.51,95.95L365.76,95.98L366.01,97.03L366.26,97.06L366.51,97.09L366.76,97.12L367.01,97.15L367.26,97.18L367.51,97.21L367.76,97.24L368.01,97.27L368.26,97.30L368.51,97.73L368.76,97.76L369.01,97.79L369.26,97.82L369.51,97.85L369.76,97.88L370.01,97.91L370.26,97.96L370.51,98.02L370.76,98.08L371.01,98.14L371.26,97.75L371.51,97.81L371.76,97.87L372.01,97.92L372.26,97.98L372.51,98.04L372.76,98.10L373.01,98.16L373.26,98.22L373.51,98.27L373.76,98.33L374.01,98.39L374.26,99.75L374.51,98.09L374.76,98.15L375.01,98.21L375.26,98.27L375.51,98.33L375.76,98.39L376.01,98.45L376.26,98.51L376.51,98.56L376.76,98.41L377.01,98.47L377.26,98.53L377.51,98.61L377.76,98.78L378.01,98.95L378.26,99.12L378.50,99.28L378.75,100.20L379.00,100.36L379.25,100.53L379.50,100.70L379.75,100.86L380.00,101.03L380.25,101.19L380.50,101.36L380.75,101.53L381.00,101.69L381.25,101.77L381.50,100.78L381.75,100.61L382.00,100.44L382.25,100.28L382.50,100.11L382.75,99.94L383.00,99.77L383.25,99.60L383.50,99.43L383.75,99.22L384.00,99.05L384.25,98.89L384.50,98.72L384.75,98.55L385.00,98.44L385.25,102.93L385.50,102.93L385.75,102.93L386.00,98.49L386.25,98.49L386.50,98.49L386.75,98.49L387.00,98.49L387.25,98.49L387.50,98.49L387.75,98.49L388.00,98.78L388.25,98.78L388.50,98.78L388.75,98.78L389.00,99.24L389.25,99.24L389.50,99.24L389.75,99.24L390.00,99.17L390.25,102.18L390.50,102.06L390.75,101.94L391.00,99.01L391.25,98.88L391.50,98.76L391.75,98.63L392.00,98.51L392.25,98.39L392.50,98.26L392.75,98.14L393.00,97.52L393.25,97.40L393.50,97.27L393.75,97.15L394.00,97.02L394.25,96.66L394.50,96.53L394.74,96.40L394.99,96.38L395.24,96.42L395.49,96.46L395.74,96.50L395.99,96.53L396.24,96.43L396.49,96.47L396.74,96.51L396.99,96.55L397.24,96.58L397.49,96.62L397.74,96.09L397.99,96.13L398.24,96.17L398.49,96.21L398.74,96.24L398.99,96.28L399.24,96.32L399.49,96.36L399.74,96.40L399.99,96.44L400.24,97.15L400.49,97.20L400.74,97.25L400.99,97.30L401.24,97.35L401.49,97.40L401.74,97.45L401.99,97.50L402.24,97.55L402.49,97.60L402.74,97.65L402.99,98.16L403.24,98.21L403.49,98.26L403.74,98.31L403.99,98.36L404.24,98.41L404.49,98.46L404.74,98.51L404.99,98.59L405.24,98.61L405.49,98.63L405.74,98.67L405.99,98.72L406.24,98.62L406.49,98.75L406.74,98.89L406.99,99.05L407.24,99.18L407.49,99.30L407.74,99.43L407.99,99.55L408.24,99.68L408.49,99.80L408.74,99.93L408.99,100.05L409.24,100.18L409.49,100.30L409.74,100.43L409.99,100.55L410.24,100.67L410.49,100.80L410.74,100.92L410.98,101.05L411.23,101.17L411.48,101.30L411.73,101.42L411.98,101.55L412.23,101.67L412.48,101.68L412.73,101.68L412.98,101.68L413.23,101.68L413.48,101.68L413.73,101.68L413.98,101.68L414.23,101.68L414.48,101.68L414.73,101.57L414.98,101.15L415.23,100.74L415.48,100.32L415.73,99.90L415.98,99.49L416.23,99.07L416.48,98.66L416.73,98.71L416.98,98.76L417.23,98.81L417.48,98.86L417.73,98.91L417.98,98.96L418.23,99.01L418.48,99.06L418.73,99.11L418.98,99.16L419.23,99.21L419.48,99.26L419.73,99.30L419.98,99.35L420.23,99.39L420.48,99.43L420.73,99.47L420.98,99.51L421.23,99.55L421.48,99.60L421.73,99.64L421.98,99.68L422.23,99.72L422.48,99.76L422.73,99.80L422.98,99.85L423.23,99.90L423.48,99.97L423.73,100.04L423.98,100.11L424.23,100.19L424.48,100.26L424.73,100.33L424.98,100.40L425.23,100.47L425.48,100.54L425.73,100.61L425.98,100.68L426.23,100.76L426.48,100.83L426.73,100.90L426.98,100.97L427.22,101.04L427.47,101.00L427.72,100.83L427.97,100.66L428.22,100.50L428.47,100.33L428.72,100.16L428.97,100.00L429.22,99.87L429.47,99.87L429.72,99.87L429.97,99.87L430.22,99.87L430.47,99.87L430.72,99.87L430.97,99.87L431.22,99.87L431.47,99.87L431.72,99.87L431.97,99.87L432.22,99.87L432.47,99.87L432.72,99.87L432.97,99.87L433.22,99.87L433.47,99.87L433.72,99.87L433.97,99.87L434.22,99.94L434.47,100.03L434.72,100.11L434.97,100.19L435.22,100.28L435.47,100.36L435.72,100.44L435.97,100.53L436.22,100.61L436.47,100.69L436.72,100.78L436.97,100.86L437.22,100.94L437.47,101.03L437.72,101.05L437.97,100.99L438.22,100.93L438.47,100.87L438.72,100.80L438.97,100.74L439.22,100.68L439.47,100.62L439.72,100.55L439.97,100.49L440.22,100.43L440.47,100.37L440.72,100.31L440.97,100.26L441.22,100.20L441.47,100.14L441.72,100.08L441.97,100.02L442.22,99.97L442.47,99.91L442.72,99.85L442.97,99.79L443.22,99.73L443.46,99.67L443.71,99.66L443.96,99.83L444.21,100.00L444.46,100.17L444.71,100.34L444.96,100.51L445.21,100.68L445.46,100.85L445.71,101.02L445.96,101.19L446.21,101.36L446.46,101.53L446.71,101.71L446.96,101.96L447.21,102.21L447.46,102.46L447.71,102.71L447.96,102.96L448.21,103.21L448.46,103.46L448.71,104.85L448.96,106.42L449.21,107.98L449.46,109.53L449.71,108.46L449.96,107.39L450.21,106.32L450.46,105.94L450.71,105.99L450.96,106.04L451.21,106.09L451.46,106.14L451.71,106.19L451.96,106.24L452.21,106.29L452.46,106.34L452.71,106.39L452.96,106.44L453.21,106.49L453.46,106.56L453.71,106.64L453.96,106.73L454.21,106.81L454.46,106.89L454.71,106.97L454.96,107.06L455.21,107.14L455.46,107.22L455.71,107.31L455.96,107.39L456.21,107.47L456.46,107.56L456.71,107.64L456.96,107.72L457.21,107.81L457.46,107.89L457.71,107.97L457.96,108.06L458.21,108.14L458.46,108.22L458.71,108.31L458.96,108.39L459.21,108.47L459.46,108.56L459.70,108.64L459.95,108.72L460.20,108.81L460.45,108.89L460.70,108.96L460.95,109.03L461.20,109.09L461.45,109.15L461.70,109.21L461.95,109.28L462.20,109.34L462.45,109.40L462.70,109.46L462.95,109.53L463.20,109.75L463.45,110.00L463.70,110.25L463.95,110.50L464.20,110.74L464.45,110.99L464.70,111.24L464.95,111.49L465.20,111.74L465.45,112.02L465.70,112.44L465.95,112.86L466.20,113.27L466.45,113.69L466.70,114.10L466.95,114.52L467.20,114.94L467.45,115.14L467.70,115.31L467.70,160.80Z" fill="#1200FF"/>
<path d="M305.30,160.80L305.30,105.73L305.55,105.77L305.80,105.89L306.05,106.01L306.30,106.14L306.55,106.26L306.80,106.39L307.05,106.51L307.30,106.64L307.55,106.76L307.80,106.88L308.05,106.99L308.30,105.46L308.55,105.52L308.80,105.58L309.05,105.65L309.30,105.71L309.55,105.78L309.80,105.84L310.05,105.90L310.30,105.97L310.55,106.03L310.80,106.10L311.05,111.52L311.30,111.58L311.55,107.22L311.80,107.28L312.05,107.35L312.30,107.41L312.55,107.47L312.80,107.54L313.05,107.63L313.30,107.75L313.54,107.88L313.79,108.00L314.04,108.13L314.29,107.81L314.54,107.94L314.79,108.06L315.04,108.19L315.29,108.32L315.54,108.44L315.79,108.57L316.04,108.70L316.29,108.82L316.54,108.95L316.79,109.08L317.04,109.20L317.29,115.61L317.54,115.72L317.79,115.84L318.04,109.62L318.29,109.68L318.54,109.74L318.79,109.81L319.04,109.87L319.29,109.93L319.54,110.00L319.79,110.06L320.04,110.65L320.29,110.72L320.54,110.78L320.79,110.84L321.04,110.91L321.29,110.97L321.54,111.03L321.79,111.09L322.04,111.16L322.29,111.06L322.54,111.12L322.79,111.18L323.04,111.20L323.29,111.20L323.54,111.20L323.79,111.20L324.04,111.20L324.29,111.20L324.54,111.20L324.79,111.20L325.04,111.20L325.29,116.81L325.54,116.81L325.79,116.81L326.04,116.81L326.29,116.81L326.54,112.07L326.79,112.07L327.04,112.07L327.29,112.07L327.54,112.07L327.79,112.07L328.04,112.07L328.29,111.88L328.54,111.88L328.79,111.88L329.04,111.88L329.29,111.88L329.54,111.88L329.78,111.88L330.03,112.07L330.28,112.07L330.53,112.07L330.78,112.07L331.03,112.07L331.28,112.07L331.53,112.07L331.78,112.07L332.03,112.07L332.28,117.18L332.53,117.18L332.78,117.18L333.03,117.18L333.28,111.23L333.53,111.23L333.78,111.23L334.03,111.23L334.28,111.23L334.53,111.23L334.78,111.23L335.03,111.23L335.28,111.23L335.53,111.23L335.78,117.28L336.03,117.28L336.28,117.28L336.53,117.28L336.78,111.41L337.03,111.41L337.28,111.41L337.53,111.41L337.78,111.41L338.03,111.48L338.28,111.54L338.53,111.60L338.78,111.67L339.03,111.98L339.28,112.04L339.53,112.10L339.78,112.17L340.03,112.23L340.28,112.29L340.53,112.35L340.78,112.42L341.03,117.40L341.28,117.46L341.53,117.51L341.78,117.57L342.03,112.56L342.28,112.62L342.53,112.68L342.78,112.75L343.03,112.83L343.28,112.92L343.53,113.00L343.78,113.08L344.03,113.17L344.28,113.25L344.53,113.33L344.78,113.42L345.03,113.50L345.28,112.69L345.53,112.77L345.78,112.86L346.02,112.94L346.27,113.03L346.52,113.27L346.77,113.78L347.02,115.88L347.27,116.37L347.52,116.87L347.77,117.36L348.02,117.85L348.27,118.35L348.52,118.84L348.77,119.33L349.02,119.22L349.27,119.37L349.52,119.52L349.77,119.67L350.02,119.82L350.27,119.90L350.52,119.90L350.77,119.90L351.02,119.90L351.27,119.90L351.52,119.90L351.77,119.90L352.02,120.53L352.27,120.53L352.52,120.53L352.77,120.53L353.02,119.66L353.27,119.66L353.52,119.66L353.77,119.66L354.02,119.66L354.27,119.66L354.52,119.66L354.77,119.66L355.02,119.66L355.27,119.66L355.52,119.66L355.77,119.73L356.02,119.73L356.27,119.73L356.52,119.73L356.77,119.73L357.02,119.73L357.27,119.73L357.52,119.73L357.77,119.73L358.02,119.49L358.27,119.49L358.52,119.49L358.77,119.49L359.02,119.49L359.27,119.49L359.52,119.49L359.77,119.49L360.02,119.27L360.27,119.27L360.52,119.27L360.77,119.27L361.02,119.27L361.27,119.27L361.52,119.27L361.77,119.27L362.02,119.27L362.26,119.27L362.51,119.98L362.76,119.92L363.01,119.84L363.26,119.77L363.51,119.69L363.76,119.62L364.01,118.34L364.26,118.26L364.51,118.18L364.76,118.10L365.01,118.03L365.26,121.04L365.51,121.06L365.76,121.09L366.01,119.87L366.26,119.89L366.51,119.92L366.76,119.94L367.01,119.97L367.26,119.99L367.51,120.01L367.76,119.87L368.01,119.89L368.26,119.91L368.51,119.94L368.76,119.96L369.01,119.99L369.26,120.01L369.51,120.04L369.76,120.06L370.01,120.09L370.26,120.03L370.51,120.05L370.76,120.08L371.01,120.10L371.26,120.13L371.51,120.15L371.76,120.17L372.01,120.20L372.26,120.22L372.51,121.40L372.76,121.48L373.01,120.34L373.26,120.42L373.51,120.51L373.76,120.60L374.01,120.68L374.26,120.77L374.51,120.86L374.76,120.94L375.01,121.03L375.26,121.30L375.51,121.39L375.76,121.47L376.01,121.56L376.26,121.65L376.51,121.83L376.76,121.91L377.01,122.00L377.26,122.09L377.51,122.18L377.76,122.29L378.01,122.19L378.26,122.31L378.50,122.42L378.75,122.54L379.00,122.65L379.25,122.77L379.50,122.89L379.75,123.00L380.00,123.12L380.25,123.23L380.50,122.41L380.75,122.53L381.00,122.65L381.25,122.71L381.50,122.65L381.75,122.58L382.00,122.51L382.25,123.10L382.50,123.03L382.75,122.96L383.00,122.90L383.25,122.83L383.50,122.76L383.75,122.70L384.00,122.63L384.25,122.56L384.50,122.50L384.75,122.40L385.00,122.35L385.25,122.31L385.50,122.27L385.75,122.24L386.00,122.20L386.25,122.16L386.50,122.12L386.75,122.45L387.00,122.41L387.25,122.37L387.50,122.34L387.75,122.30L388.00,122.26L388.25,122.22L388.50,121.39L388.75,121.35L389.00,121.31L389.25,121.28L389.50,121.24L389.75,121.20L390.00,121.14L390.25,121.05L390.50,122.02L390.75,121.93L391.00,121.85L391.25,121.76L391.50,121.67L391.75,121.59L392.00,121.50L392.25,121.42L392.50,121.36L392.75,121.28L393.00,121.19L393.25,121.11L393.50,121.02L393.75,120.93L394.00,120.85L394.25,121.13L394.50,121.04L394.74,120.30L394.99,120.28L395.24,120.31L395.49,120.33L395.74,120.36L395.99,120.38L396.24,120.41L396.49,120.43L396.74,120.45L396.99,119.88L397.24,119.91L397.49,119.93L397.74,119.96L397.99,119.98L398.24,120.01L398.49,120.03L398.74,120.06L398.99,120.08L399.24,120.11L399.49,120.05L399.74,120.07L399.99,120.10L400.24,120.12L400.49,120.15L400.74,120.80L400.99,120.83L401.24,120.85L401.49,120.88L401.74,120.90L401.99,120.93L402.24,120.95L402.49,119.84L402.74,119.86L402.99,119.89L403.24,119.91L403.49,119.94L403.74,119.96L403.99,119.99L404.24,120.77L404.49,120.80L404.74,120.82L404.99,120.89L405.24,120.98L405.49,121.06L405.74,121.12L405.99,121.18L406.24,121.24L406.49,121.28L406.74,121.32L406.99,121.34L407.24,121.39L407.49,121.43L407.74,121.47L407.99,121.51L408.24,121.55L408.49,121.59L408.74,121.65L408.99,121.74L409.24,121.82L409.49,121.90L409.74,121.99L409.99,122.07L410.24,122.15L410.49,122.24L410.74,122.32L410.98,122.40L411.23,122.49L411.48,122.57L411.73,122.65L411.98,122.74L412.23,122.82L412.48,122.82L412.73,122.82L412.98,122.82L413.23,122.82L413.48,122.82L413.73,122.82L413.98,122.82L414.23,122.82L414.48,122.82L414.73,122.73L414.98,122.40L415.23,122.07L415.48,121.74L415.73,121.40L415.98,121.07L416.23,120.74L416.48,120.41L416.73,120.41L416.98,120.41L417.23,120.41L417.48,120.41L417.73,120.41L417.98,120.41L418.23,120.41L418.48,120.41L418.73,120.41L418.98,120.41L419.23,120.41L419.48,120.41L419.73,120.41L419.98,120.41L420.23,120.41L420.48,120.41L420.73,120.41L420.98,120.41L421.23,120.41L421.48,120.41L421.73,120.41L421.98,120.41L422.23,120.41L422.48,120.41L422.73,120.41L422.98,120.41L423.23,120.44L423.48,120.51L423.73,120.58L423.98,120.65L424.23,120.72L424.48,120.80L424.73,120.87L424.98,120.94L425.23,121.01L425.48,121.08L425.73,121.15L425.98,121.22L426.23,121.29L426.48,121.37L426.73,121.44L426.98,121.51L427.22,121.58L427.47,121.53L427.72,121.37L427.97,121.20L428.22,121.03L428.47,120.87L428.72,120.70L428.97,120.53L429.22,120.41L429.47,120.43L429.72,120.44L429.97,120.46L430.22,120.47L430.47,120.49L430.72,120.51L430.97,120.52L431.22,120.54L431.47,120.55L431.72,120.57L431.97,120.58L432.22,120.60L432.47,120.62L432.72,120.63L432.97,120.65L433.22,120.66L433.47,120.68L433.72,120.69L433.97,120.71L434.22,120.72L434.47,120.74L434.72,120.76L434.97,120.77L435.22,120.79L435.47,120.80L435.72,120.82L435.97,120.83L436.22,120.85L436.47,120.86L436.72,120.88L436.97,120.90L437.22,120.91L437.47,120.93L437.72,120.94L437.97,120.96L438.22,120.97L438.47,120.99L438.72,121.01L438.97,121.01L439.22,121.01L439.47,121.01L439.72,121.01L439.97,121.01L440.22,121.01L440.47,121.01L440.72,121.01L440.97,121.01L441.22,121.01L441.47,121.01L441.72,121.01L441.97,121.01L442.22,121.01L442.47,121.01L442.72,121.01L442.97,121.01L443.22,121.01L443.46,121.01L443.71,121.01L443.96,121.01L444.21,121.01L444.46,121.01L444.71,121.01L444.96,121.01L445.21,121.01L445.46,121.01L445.71,121.01L445.96,121.01L446.21,121.01L446.46,121.01L446.71,121.04L446.96,121.29L447.21,121.54L447.46,121.79L447.71,122.04L447.96,122.29L448.21,122.54L448.46,122.79L448.71,123.37L448.96,123.99L449.21,124.62L449.46,125.24L449.71,124.88L449.96,124.53L450.21,124.17L450.46,124.06L450.71,124.11L450.96,124.16L451.21,124.21L451.46,124.26L451.71,124.31L451.96,124.36L452.21,124.41L452.46,124.46L452.71,124.51L452.96,124.56L453.21,124.61L453.46,124.67L453.71,124.73L453.96,124.79L454.21,124.86L454.46,124.92L454.71,124.98L454.96,125.04L455.21,125.11L455.46,125.17L455.71,125.23L455.96,125.29L456.21,125.36L456.46,125.42L456.71,125.48L456.96,125.54L457.21,125.61L457.46,125.67L457.71,125.73L457.96,125.79L458.21,125.85L458.46,125.88L458.71,125.91L458.96,125.94L459.21,125.98L459.46,126.01L459.70,126.04L459.95,126.07L460.20,126.10L460.45,126.13L460.70,126.16L460.95,126.19L461.20,126.23L461.45,126.26L461.70,126.29L461.95,126.32L462.20,126.35L462.45,126.38L462.70,126.41L462.95,126.44L463.20,126.48L463.45,126.53L463.70,126.57L463.95,126.61L464.20,126.65L464.45,126.69L464.70,126.73L464.95,126.78L465.20,126.82L465.45,126.86L465.70,126.90L465.95,126.94L466.20,126.98L466.45,127.03L466.70,127.09L466.95,127.19L467.20,127.30L467.45,127.40L467.70,127.50L467.70,160.80Z" fill="#E526FF"/>
<path d="M20.60,362.90L20.60,235.22L21.10,235.22L21.60,235.22L22.10,235.74L22.60,245.58L23.10,245.58L23.60,262.16L24.10,233.66L24.60,232.11L25.11,236.77L25.61,236.77L26.11,239.88L26.61,239.36L27.11,240.40L27.61,259.05L28.11,262.16L28.61,264.23L29.11,240.92L29.61,239.88L30.11,239.36L30.61,239.36L31.11,251.80L31.61,252.83L32.11,252.32L32.61,251.80L33.11,247.13L33.62,246.62L34.12,249.73L34.62,261.12L35.12,249.73L35.62,249.21L36.12,248.69L36.62,249.73L37.12,268.38L37.62,267.34L38.12,272.52L38.62,254.91L39.12,254.39L39.62,254.39L40.12,254.91L40.62,253.87L41.12,254.39L41.63,252.32L42.13,251.80L42.63,251.80L43.13,252.83L43.63,264.23L44.13,263.20L44.63,260.09L45.13,260.09L45.63,253.35L46.13,252.83L46.63,253.87L47.13,272.52L47.63,273.56L48.13,277.70L48.63,277.70L49.13,259.05L49.63,258.53L50.14,261.64L50.64,262.16L51.14,263.20L51.64,268.38L52.14,270.45L52.64,269.93L53.14,269.41L53.64,270.45L54.14,281.85L54.64,276.67L55.14,254.91L55.64,254.39L56.14,253.87L56.64,254.39L57.14,254.91L57.64,265.27L58.14,273.56L58.65,278.74L59.15,265.27L59.65,267.34L60.15,267.34L60.65,282.37L61.15,283.92L61.65,282.37L62.15,286.22L62.65,287.25L63.15,285.70L63.65,286.74L64.15,302.80L64.65,302.80L65.15,306.94L65.65,318.34L66.15,318.86L66.65,318.86L67.16,318.86L67.66,318.86L68.16,318.86L68.66,318.86L69.16,318.86L69.66,318.86L70.16,318.34L70.66,318.34L71.16,318.86L71.66,318.86L72.16,318.34L72.66,318.34L73.16,319.90L73.66,319.90L74.16,317.82L74.66,317.82L75.17,316.79L75.67,316.79L76.17,317.82L76.67,317.82L77.17,319.38L77.67,319.38L78.17,312.64L78.67,312.64L79.17,312.12L79.67,312.12L80.17,312.12L80.67,311.61L81.17,311.61L81.67,311.09L82.17,311.09L82.67,311.09L83.17,311.09L83.68,311.09L84.18,311.09L84.68,311.61L85.18,311.61L85.68,311.61L86.18,312.12L86.68,312.12L87.18,303.83L87.68,296.58L88.18,295.54L88.68,295.54L89.18,296.58L89.68,296.58L90.18,302.80L90.68,304.87L91.18,313.16L91.68,313.16L92.19,313.16L92.69,311.09L93.19,304.87L93.69,300.73L94.19,300.73L94.69,298.13L95.19,298.13L95.69,297.10L96.19,297.10L96.69,299.17L97.19,299.17L97.69,300.73L98.19,300.73L98.69,301.76L99.19,301.76L99.69,299.69L100.19,299.69L100.70,301.76L101.20,306.94L101.70,306.94L102.20,310.05L102.70,313.16L103.20,300.73L103.70,293.47L104.20,292.95L104.70,292.95L105.20,294.51L105.70,294.51L106.20,299.69L106.70,299.69L107.20,300.73L107.70,300.73L108.20,301.24L108.71,301.24L109.21,301.24L109.71,301.76L110.21,301.76L110.71,303.83L111.21,303.83L111.71,306.94L112.21,311.09L112.71,299.69L113.21,295.54L113.71,295.54L114.21,295.54L114.71,295.54L115.21,297.10L115.71,297.10L116.21,297.10L116.71,297.10L117.22,297.10L117.72,297.36L118.22,297.36L118.72,297.36L119.22,300.51L119.72,300.51L120.22,303.66L120.72,304.72L121.22,306.82L121.72,306.82L122.22,311.02L122.72,300.51L123.22,298.93L123.72,299.99L124.22,301.56L124.72,311.02L125.22,316.28L125.73,316.28L126.23,316.80L126.73,316.80L127.23,317.33L127.73,317.33L128.23,318.38L128.73,318.38L129.23,322.58L129.73,323.11L130.23,323.63L130.73,323.63L131.23,323.63L131.73,323.63L132.23,324.69L132.73,324.69L133.23,323.11L133.73,320.48L134.24,318.38L134.74,306.82L135.24,306.82L135.74,306.29L136.24,308.39L136.74,310.50L137.24,310.50L137.74,311.02L138.24,310.50L138.74,310.50L139.24,311.55L139.74,313.65L140.24,314.70L140.74,312.60L141.24,312.60L141.74,311.02L142.25,311.02L142.75,308.92L143.25,308.92L143.75,308.92L144.25,308.39L144.75,308.39L145.25,308.39L145.75,308.39L146.25,309.45L146.75,309.45L147.25,314.17L147.75,314.17L148.25,313.65L148.75,311.02L149.25,311.02L149.75,311.55L150.25,314.70L150.76,312.60L151.26,312.60L151.76,310.50L152.26,310.50L152.76,309.45L153.26,309.45L153.76,310.50L154.26,310.50L154.76,310.50L155.26,309.97L155.76,309.97L156.26,311.55L156.76,311.55L157.26,314.17L157.76,314.70L158.26,318.38L158.76,323.63L159.27,323.63L159.77,324.16L160.27,324.16L160.77,323.63L161.27,323.63L161.77,318.38L162.27,314.17L162.77,314.17L163.27,314.17L163.77,314.70L164.27,314.70L164.77,314.70L165.27,315.23L165.77,316.28L166.27,327.84L166.77,327.84L167.27,328.89L167.78,328.89L168.28,329.42L168.78,329.42L169.28,327.84L169.78,323.11L170.28,323.11L170.78,321.53L171.28,321.01L171.78,321.01L172.28,321.53L172.78,321.53L173.28,323.11L173.78,323.11L174.28,324.69L174.78,326.26L175.28,326.26L175.79,326.26L176.29,327.31L176.79,327.31L177.29,328.89L177.79,328.89L178.29,329.94L178.79,331.52L179.29,332.04L179.79,328.89L180.29,328.89L180.79,326.26L181.29,326.26L181.79,325.74L182.29,326.79L182.79,329.94L183.29,330.99L183.79,329.42L184.30,327.31L184.80,326.26L185.30,326.26L185.80,327.84L186.30,332.04L186.80,333.09L187.30,333.09L187.80,334.15L188.30,336.25L188.30,362.90Z" fill="#EBB86A"/>
<path d="M20.60,362.90L20.60,246.62L21.10,246.62L21.60,246.62L22.10,246.62L22.60,262.16L23.10,262.16L23.60,263.20L24.10,251.80L24.60,251.80L25.11,250.76L25.61,254.91L26.11,254.91L26.61,259.05L27.11,260.09L27.61,260.09L28.11,262.16L28.61,264.23L29.11,252.83L29.61,252.83L30.11,253.35L30.61,253.35L31.11,258.02L31.61,258.02L32.11,259.05L32.61,259.05L33.11,260.09L33.62,260.09L34.12,262.16L34.62,262.16L35.12,261.12L35.62,261.12L36.12,262.16L36.62,262.16L37.12,270.45L37.62,272.52L38.12,272.52L38.62,272.52L39.12,266.82L39.62,266.82L40.12,265.79L40.62,265.79L41.12,265.79L41.63,263.72L42.13,263.72L42.63,263.72L43.13,264.23L43.63,264.23L44.13,266.31L44.63,266.31L45.13,265.79L45.63,265.79L46.13,265.27L46.63,265.27L47.13,274.60L47.63,274.60L48.13,277.70L48.63,277.70L49.13,266.31L49.63,266.31L50.14,273.56L50.64,273.56L51.14,275.63L51.64,275.63L52.14,275.63L52.64,275.63L53.14,275.63L53.64,278.74L54.14,281.85L54.64,276.67L55.14,268.38L55.64,268.38L56.14,267.86L56.64,267.86L57.14,267.86L57.64,272.52L58.14,273.56L58.65,281.85L59.15,281.85L59.65,274.60L60.15,274.60L60.65,283.92L61.15,283.92L61.65,283.92L62.15,296.93L62.65,296.93L63.15,296.93L63.65,296.93L64.15,310.83L64.65,310.83L65.15,310.83L65.65,318.45L66.15,318.86L66.65,318.94L67.16,318.94L67.66,318.94L68.16,318.94L68.66,319.66L69.16,319.66L69.66,319.66L70.16,319.66L70.66,319.66L71.16,320.63L71.66,320.63L72.16,320.63L72.66,320.63L73.16,320.63L73.66,321.11L74.16,321.11L74.66,321.11L75.17,321.11L75.67,321.11L76.17,321.11L76.67,321.11L77.17,321.11L77.67,319.38L78.17,316.28L78.67,316.28L79.17,316.28L79.67,316.28L80.17,316.28L80.67,316.28L81.17,316.28L81.67,316.28L82.17,316.28L82.67,316.28L83.17,316.28L83.68,316.28L84.18,316.28L84.68,316.28L85.18,316.28L85.68,316.28L86.18,316.28L86.68,312.12L87.18,304.18L87.68,303.58L88.18,303.58L88.68,303.58L89.18,304.18L89.68,304.18L90.18,304.18L90.68,305.39L91.18,313.86L91.68,313.86L92.19,313.86L92.69,313.86L93.19,313.86L93.69,304.18L94.19,304.18L94.69,303.58L95.19,303.58L95.69,304.79L96.19,304.79L96.69,304.79L97.19,306.60L97.69,306.60L98.19,306.60L98.69,306.60L99.19,312.65L99.69,312.65L100.19,306.00L100.70,306.00L101.20,306.94L101.70,306.94L102.20,310.05L102.70,313.16L103.20,304.18L103.70,303.58L104.20,303.58L104.70,303.58L105.20,303.58L105.70,303.58L106.20,303.58L106.70,303.58L107.20,304.18L107.70,304.18L108.20,304.18L108.71,305.39L109.21,305.39L109.71,305.39L110.21,306.60L110.71,306.60L111.21,306.60L111.71,309.02L112.21,311.09L112.71,303.58L113.21,303.58L113.71,303.58L114.21,303.58L114.71,303.58L115.21,303.58L115.71,303.58L116.21,303.58L116.71,303.58L117.22,304.18L117.72,304.18L118.22,304.18L118.72,304.18L119.22,305.39L119.72,305.39L120.22,305.39L120.72,307.21L121.22,307.21L121.72,311.44L122.22,311.44L122.72,311.44L123.22,307.81L123.72,307.81L124.22,312.65L124.72,312.65L125.22,316.28L125.73,316.28L126.23,316.80L126.73,316.80L127.23,317.33L127.73,320.39L128.23,320.39L128.73,320.39L129.23,324.02L129.73,324.02L130.23,324.02L130.73,324.02L131.23,325.83L131.73,325.83L132.23,325.83L132.73,325.83L133.23,324.02L133.73,324.02L134.24,318.38L134.74,316.16L135.24,316.16L135.74,311.93L136.24,311.93L136.74,313.14L137.24,313.14L137.74,313.14L138.24,314.35L138.74,314.35L139.24,314.35L139.74,314.35L140.24,315.56L140.74,315.56L141.24,315.56L141.74,315.56L142.25,316.77L142.75,316.77L143.25,316.77L143.75,316.77L144.25,315.56L144.75,315.56L145.25,315.56L145.75,315.56L146.25,316.77L146.75,316.77L147.25,316.77L147.75,316.77L148.25,316.16L148.75,316.16L149.25,316.16L149.75,316.16L150.25,316.16L150.76,316.16L151.26,316.16L151.76,316.16L152.26,316.16L152.76,316.16L153.26,315.56L153.76,315.56L154.26,315.56L154.76,315.56L155.26,316.16L155.76,316.16L156.26,316.16L156.76,316.16L157.26,316.77L157.76,316.77L158.26,320.39L158.76,323.63L159.27,328.25L159.77,328.25L160.27,328.25L160.77,325.23L161.27,325.23L161.77,318.38L162.27,317.97L162.77,317.97L163.27,317.97L163.77,317.97L164.27,317.97L164.77,317.97L165.27,317.97L165.77,317.97L166.27,327.84L166.77,328.25L167.27,328.89L167.78,330.07L168.28,330.07L168.78,330.07L169.28,327.84L169.78,323.11L170.28,323.11L170.78,322.21L171.28,321.60L171.78,321.60L172.28,321.60L172.78,323.42L173.28,323.42L173.78,323.42L174.28,326.20L174.78,326.26L175.28,327.41L175.79,327.41L176.29,327.41L176.79,328.62L177.29,328.89L177.79,329.82L178.29,329.94L178.79,331.52L179.29,332.04L179.79,331.03L180.29,328.89L180.79,328.62L181.29,327.41L181.79,327.41L182.29,327.41L182.79,332.24L183.29,332.24L183.79,329.82L184.30,329.82L184.80,329.82L185.30,328.01L185.80,328.01L186.30,333.45L186.80,333.45L187.30,334.66L187.80,334.66L188.30,336.25L188.30,362.90Z" fill="#C7AFD8"/>
<path d="M20.60,362.90L20.60,262.16L21.10,262.16L21.60,262.68L22.10,262.68L22.60,266.31L23.10,266.31L23.60,272.52L24.10,272.52L24.60,266.31L25.11,266.31L25.61,267.34L26.11,267.34L26.61,272.52L27.11,272.52L27.61,274.60L28.11,274.60L28.61,275.63L29.11,275.63L29.61,268.38L30.11,268.38L30.61,269.41L31.11,269.41L31.61,271.49L32.11,271.49L32.61,273.56L33.11,273.56L33.62,274.60L34.12,274.60L34.62,276.67L35.12,276.67L35.62,275.63L36.12,275.63L36.62,280.81L37.12,280.81L37.62,282.89L38.12,282.89L38.62,282.89L39.12,277.70L39.62,277.70L40.12,277.70L40.62,277.70L41.12,277.70L41.63,276.67L42.13,276.67L42.63,276.67L43.13,277.70L43.63,277.70L44.13,277.70L44.63,278.74L45.13,278.74L45.63,278.74L46.13,278.74L46.63,278.74L47.13,283.92L47.63,283.92L48.13,283.92L48.63,283.92L49.13,283.92L49.63,277.70L50.14,277.70L50.64,280.81L51.14,280.81L51.64,280.81L52.14,281.85L52.64,281.85L53.14,281.85L53.64,284.96L54.14,284.96L54.64,284.96L55.14,280.81L55.64,280.81L56.14,280.81L56.64,280.81L57.14,280.81L57.64,284.96L58.14,284.96L58.65,284.96L59.15,285.99L59.65,285.99L60.15,285.99L60.65,285.99L61.15,288.07L61.65,288.07L62.15,296.93L62.65,298.14L63.15,298.14L63.65,302.97L64.15,310.83L64.65,310.83L65.15,311.44L65.65,318.69L66.15,318.86L66.65,319.30L67.16,319.30L67.66,319.30L68.16,319.30L68.66,319.90L69.16,319.90L69.66,319.90L70.16,319.90L70.66,319.90L71.16,321.11L71.66,321.11L72.16,321.11L72.66,321.11L73.16,321.11L73.66,321.72L74.16,321.72L74.66,321.72L75.17,321.72L75.67,321.72L76.17,321.72L76.67,321.72L77.17,321.72L77.67,319.38L78.17,317.48L78.67,317.48L79.17,317.48L79.67,317.48L80.17,317.48L80.67,317.48L81.17,317.48L81.67,317.48L82.17,317.48L82.67,316.88L83.17,316.88L83.68,316.88L84.18,316.88L84.68,316.88L85.18,316.88L85.68,316.88L86.18,316.88L86.68,313.86L87.18,313.86L87.68,315.07L88.18,315.07L88.68,315.07L89.18,316.28L89.68,316.28L90.18,316.28L90.68,316.28L91.18,316.28L91.68,316.28L92.19,315.07L92.69,315.07L93.19,315.07L93.69,316.28L94.19,316.28L94.69,316.28L95.19,316.28L95.69,317.48L96.19,317.48L96.69,317.48L97.19,318.69L97.69,318.69L98.19,318.69L98.69,318.69L99.19,316.28L99.69,316.28L100.19,316.28L100.70,316.28L101.20,315.07L101.70,315.07L102.20,315.07L102.70,314.46L103.20,314.46L103.70,314.46L104.20,314.46L104.70,314.46L105.20,314.46L105.70,314.46L106.20,314.46L106.70,315.07L107.20,315.07L107.70,315.07L108.20,315.67L108.71,315.67L109.21,315.67L109.71,315.67L110.21,316.28L110.71,316.28L111.21,316.28L111.71,314.46L112.21,314.46L112.71,314.46L113.21,314.46L113.71,312.65L114.21,312.65L114.71,312.65L115.21,312.65L115.71,312.65L116.21,312.65L116.71,312.65L117.22,313.25L117.72,313.25L118.22,313.25L118.72,313.25L119.22,314.46L119.72,314.46L120.22,314.46L120.72,314.46L121.22,315.67L121.72,315.67L122.22,315.67L122.72,316.28L123.22,316.28L123.72,316.28L124.22,316.28L124.72,318.09L125.22,318.09L125.73,318.09L126.23,318.09L126.73,319.18L127.23,319.18L127.73,320.39L128.23,321.00L128.73,321.00L129.23,324.63L129.73,324.63L130.23,324.63L130.73,324.63L131.23,326.44L131.73,326.44L132.23,326.44L132.73,326.44L133.23,324.63L133.73,324.63L134.24,320.39L134.74,320.39L135.24,320.39L135.74,319.18L136.24,319.18L136.74,319.18L137.24,319.79L137.74,319.79L138.24,319.79L138.74,319.79L139.24,319.79L139.74,319.79L140.24,319.79L140.74,320.39L141.24,320.39L141.74,320.39L142.25,320.39L142.75,320.39L143.25,318.58L143.75,318.58L144.25,318.58L144.75,318.58L145.25,318.58L145.75,318.58L146.25,318.58L146.75,318.58L147.25,317.97L147.75,317.97L148.25,317.97L148.75,317.97L149.25,317.97L149.75,317.97L150.25,317.97L150.76,317.97L151.26,317.97L151.76,317.97L152.26,317.97L152.76,317.97L153.26,317.97L153.76,317.97L154.26,317.97L154.76,317.97L155.26,317.97L155.76,317.97L156.26,318.58L156.76,318.58L157.26,318.58L157.76,318.58L158.26,321.60L158.76,323.63L159.27,328.86L159.77,328.86L160.27,328.86L160.77,325.83L161.27,325.83L161.77,319.18L162.27,319.18L162.77,319.18L163.27,319.18L163.77,319.18L164.27,319.18L164.77,319.18L165.27,319.18L165.77,319.18L166.27,327.84L166.77,328.86L167.27,328.89L167.78,330.67L168.28,330.67L168.78,330.67L169.28,327.84L169.78,324.02L170.28,324.02L170.78,324.02L171.28,322.81L171.78,322.81L172.28,322.81L172.78,324.02L173.28,324.02L173.78,324.02L174.28,326.44L174.78,326.44L175.28,327.65L175.79,327.65L176.29,327.65L176.79,328.86L177.29,328.89L177.79,330.07L178.29,330.07L178.79,331.52L179.29,332.04L179.79,331.28L180.29,328.89L180.79,328.86L181.29,327.65L181.79,327.65L182.29,327.65L182.79,332.48L183.29,332.48L183.79,330.07L184.30,330.07L184.80,330.07L185.30,328.25L185.80,328.25L186.30,333.69L186.80,333.69L187.30,334.90L187.80,334.90L188.30,336.25L188.30,362.90Z" fill="#ADD4E3"/>
<path d="M20.60,362.90L20.60,283.29L21.10,283.29L21.60,283.81L22.10,283.81L22.60,293.65L23.10,293.65L23.60,293.65L24.10,297.80L24.60,297.80L25.11,286.40L25.61,286.40L26.11,287.44L26.61,287.44L27.11,307.12L27.61,307.12L28.11,288.47L28.61,288.47L29.11,287.95L29.61,287.95L30.11,290.54L30.61,290.54L31.11,291.06L31.61,291.06L32.11,292.10L32.61,292.10L33.11,293.13L33.62,293.13L34.12,306.09L34.62,306.09L35.12,296.76L35.62,296.76L36.12,295.73L36.62,295.73L37.12,314.38L37.62,314.38L38.12,314.38L38.62,295.73L39.12,295.73L39.62,294.69L40.12,294.69L40.62,294.17L41.12,294.17L41.63,295.21L42.13,295.21L42.63,295.73L43.13,295.73L43.63,296.76L44.13,296.76L44.63,306.09L45.13,306.09L45.63,297.28L46.13,297.28L46.63,297.80L47.13,297.80L47.63,315.41L48.13,315.41L48.63,299.87L49.13,299.87L49.63,300.91L50.14,300.91L50.64,301.94L51.14,301.94L51.64,304.02L52.14,304.02L52.64,304.02L53.14,306.09L53.64,306.09L54.14,313.34L54.64,313.34L55.14,298.83L55.64,298.83L56.14,298.32L56.64,298.32L57.14,299.87L57.64,299.87L58.14,314.38L58.65,314.38L59.15,302.98L59.65,302.98L60.15,304.02L60.65,304.02L61.15,310.23L61.65,310.23L62.15,311.27L62.65,311.27L63.15,312.31L63.65,312.31L64.15,324.74L64.65,324.74L65.15,330.79L65.65,333.81L66.15,333.81L66.65,335.86L67.16,335.86L67.66,335.86L68.16,335.86L68.66,335.86L69.16,335.86L69.66,335.86L70.16,335.86L70.66,335.86L71.16,335.86L71.66,335.86L72.16,340.22L72.66,340.22L73.16,340.22L73.66,340.22L74.16,340.22L74.66,340.22L75.17,340.22L75.67,340.22L76.17,340.22L76.67,340.22L77.17,340.22L77.67,340.22L78.17,334.41L78.67,334.41L79.17,336.83L79.67,336.83L80.17,336.83L80.67,336.83L81.17,338.04L81.67,338.04L82.17,338.04L82.67,338.04L83.17,338.04L83.68,338.04L84.18,338.04L84.68,337.44L85.18,337.44L85.68,337.44L86.18,337.44L86.68,334.41L87.18,334.41L87.68,334.41L88.18,333.81L88.68,333.81L89.18,340.46L89.68,335.02L90.18,335.02L90.68,335.02L91.18,333.81L91.68,333.81L92.19,333.81L92.69,333.81L93.19,333.81L93.69,333.20L94.19,333.20L94.69,333.20L95.19,333.20L95.69,334.41L96.19,334.41L96.69,334.41L97.19,334.41L97.69,335.62L98.19,335.62L98.69,335.62L99.19,335.62L99.69,333.20L100.19,333.20L100.70,333.20L101.20,333.20L101.70,332.00L102.20,332.00L102.70,332.00L103.20,332.00L103.70,331.39L104.20,331.39L104.70,331.39L105.20,331.39L105.70,331.39L106.20,331.39L106.70,331.39L107.20,331.39L107.70,331.39L108.20,333.20L108.71,333.20L109.21,333.20L109.71,333.20L110.21,332.00L110.71,332.00L111.21,332.00L111.71,332.00L112.21,330.18L112.71,330.18L113.21,330.18L113.71,330.18L114.21,330.18L114.71,329.58L115.21,329.58L115.71,329.58L116.21,329.58L116.71,329.58L117.22,330.18L117.72,330.18L118.22,330.18L118.72,330.18L119.22,331.39L119.72,331.39L120.22,331.39L120.72,331.39L121.22,333.20L121.72,333.20L122.22,333.20L122.72,335.62L123.22,335.62L123.72,335.62L124.22,335.62L124.72,336.83L125.22,336.83L125.73,336.83L126.23,336.83L126.73,336.83L127.23,337.32L127.73,337.32L128.23,337.32L128.73,337.32L129.23,345.79L129.73,345.79L130.23,345.79L130.73,345.79L131.23,345.79L131.73,345.79L132.23,345.79L132.73,345.79L133.23,345.79L133.73,338.53L134.24,338.53L134.74,338.53L135.24,338.53L135.74,337.93L136.24,337.93L136.74,337.93L137.24,337.93L137.74,337.93L138.24,337.93L138.74,336.72L139.24,336.72L139.74,336.72L140.24,336.72L140.74,335.51L141.24,335.51L141.74,335.51L142.25,335.51L142.75,335.51L143.25,336.11L143.75,336.11L144.25,336.11L144.75,336.11L145.25,336.11L145.75,336.11L146.25,336.11L146.75,336.11L147.25,336.11L147.75,336.11L148.25,336.11L148.75,336.11L149.25,336.11L149.75,336.11L150.25,336.11L150.76,336.11L151.26,336.11L151.76,335.51L152.26,335.51L152.76,335.51L153.26,335.51L153.76,335.51L154.26,335.51L154.76,335.51L155.26,335.51L155.76,335.51L156.26,336.11L156.76,336.11L157.26,336.11L157.76,336.11L158.26,343.37L158.76,343.37L159.27,351.83L159.77,351.83L160.27,351.83L160.77,352.44L161.27,352.44L161.77,337.93L162.27,337.93L162.77,337.93L163.27,336.72L163.77,336.72L164.27,336.72L164.77,336.72L165.27,337.32L165.77,337.32L166.27,337.32L166.77,350.62L167.27,350.62L167.78,350.62L168.28,350.62L168.78,350.62L169.28,339.74L169.78,339.74L170.28,339.74L170.78,339.74L171.28,340.34L171.78,340.34L172.28,340.34L172.78,340.34L173.28,340.34L173.78,342.16L174.28,342.16L174.78,342.16L175.28,342.16L175.79,342.16L176.29,342.76L176.79,342.76L177.29,342.76L177.79,342.76L178.29,343.37L178.79,343.37L179.29,343.37L179.79,343.37L180.29,343.37L180.79,342.16L181.29,342.16L181.79,342.16L182.29,342.16L182.79,347.00L183.29,347.00L183.79,343.37L184.30,343.37L184.80,343.37L185.30,342.16L185.80,342.16L186.30,345.79L186.80,345.79L187.30,348.20L187.80,348.20L188.30,348.20L188.30,362.90Z" fill="#B2E68C"/>
<path d="M20.60,362.90L20.60,316.45L21.10,316.45L21.60,316.45L22.10,316.45L22.60,316.45L23.10,316.45L23.60,316.45L24.10,316.45L24.60,316.45L25.11,316.97L25.61,316.97L26.11,316.97L26.61,316.97L27.11,316.97L27.61,316.97L28.11,317.49L28.61,317.49L29.11,317.49L29.61,317.49L30.11,322.67L30.61,322.67L31.11,322.67L31.61,323.70L32.11,323.70L32.61,323.70L33.11,323.70L33.62,323.70L34.12,324.22L34.62,324.22L35.12,324.22L35.62,324.22L36.12,324.22L36.62,324.22L37.12,323.70L37.62,323.70L38.12,323.70L38.62,323.70L39.12,323.70L39.62,323.70L40.12,325.26L40.62,325.26L41.12,325.26L41.63,323.19L42.13,323.19L42.63,323.19L43.13,323.19L43.63,323.19L44.13,323.19L44.63,323.19L45.13,323.19L45.63,323.19L46.13,323.19L46.63,323.19L47.13,323.19L47.63,323.70L48.13,323.70L48.63,323.70L49.13,323.70L49.63,329.40L50.14,329.40L50.64,329.92L51.14,329.92L51.64,323.70L52.14,323.70L52.64,323.70L53.14,323.70L53.64,323.19L54.14,323.19L54.64,323.19L55.14,323.19L55.64,322.15L56.14,322.15L56.64,322.15L57.14,322.15L57.64,322.67L58.14,322.67L58.65,322.67L59.15,323.70L59.65,323.70L60.15,331.99L60.65,331.99L61.15,331.99L61.65,334.41L62.15,334.41L62.65,334.41L63.15,334.41L63.65,335.02L64.15,335.02L64.65,335.02L65.15,335.62L65.65,335.62L66.15,335.62L66.65,336.23L67.16,336.23L67.66,336.23L68.16,336.23L68.66,337.44L69.16,337.44L69.66,337.44L70.16,337.44L70.66,339.25L71.16,339.25L71.66,339.25L72.16,340.22L72.66,340.22L73.16,340.22L73.66,340.22L74.16,340.22L74.66,340.22L75.17,340.22L75.67,340.22L76.17,340.22L76.67,340.46L77.17,340.46L77.67,340.46L78.17,340.46L78.67,340.46L79.17,341.67L79.67,341.67L80.17,341.67L80.67,342.27L81.17,342.27L81.67,342.27L82.17,342.27L82.67,342.27L83.17,342.27L83.68,342.88L84.18,342.88L84.68,342.88L85.18,342.88L85.68,342.88L86.18,342.88L86.68,342.27L87.18,342.27L87.68,342.27L88.18,339.25L88.68,339.25L89.18,340.46L89.68,344.69L90.18,342.88L90.68,342.88L91.18,342.88L91.68,342.88L92.19,342.88L92.69,342.88L93.19,342.88L93.69,342.88L94.19,343.12L94.69,343.12L95.19,343.12L95.69,343.12L96.19,343.12L96.69,342.88L97.19,342.88L97.69,342.88L98.19,342.88L98.69,342.88L99.19,343.48L99.69,343.48L100.19,343.48L100.70,343.48L101.20,342.27L101.70,342.27L102.20,342.27L102.70,342.27L103.20,342.27L103.70,342.27L104.20,342.27L104.70,342.27L105.20,342.27L105.70,341.67L106.20,341.67L106.70,341.67L107.20,341.67L107.70,341.67L108.20,341.67L108.71,341.67L109.21,342.88L109.71,342.88L110.21,342.27L110.71,342.27L111.21,342.27L111.71,342.27L112.21,341.67L112.71,341.67L113.21,341.67L113.71,341.67L114.21,341.67L114.71,341.06L115.21,341.06L115.71,341.06L116.21,341.06L116.71,341.06L117.22,341.67L117.72,341.67L118.22,341.67L118.72,341.67L119.22,341.67L119.72,342.27L120.22,342.27L120.72,342.27L121.22,342.27L121.72,342.88L122.22,342.88L122.72,342.88L123.22,342.88L123.72,342.88L124.22,344.09L124.72,344.09L125.22,344.09L125.73,344.09L126.23,344.09L126.73,344.09L127.23,345.79L127.73,345.79L128.23,345.79L128.73,345.79L129.23,350.62L129.73,350.62L130.23,350.62L130.73,350.62L131.23,350.62L131.73,350.62L132.23,350.62L132.73,350.62L133.23,348.20L133.73,348.20L134.24,348.20L134.74,348.20L135.24,348.20L135.74,347.60L136.24,347.60L136.74,347.60L137.24,347.60L137.74,347.60L138.24,345.79L138.74,345.79L139.24,345.79L139.74,345.79L140.24,345.18L140.74,345.18L141.24,345.18L141.74,345.18L142.25,345.18L142.75,344.58L143.25,344.58L143.75,344.58L144.25,344.58L144.75,344.58L145.25,344.58L145.75,344.58L146.25,344.58L146.75,344.58L147.25,344.58L147.75,344.58L148.25,344.58L148.75,344.58L149.25,343.97L149.75,343.97L150.25,343.97L150.76,343.97L151.26,343.97L151.76,343.97L152.26,343.97L152.76,343.97L153.26,343.97L153.76,343.97L154.26,343.97L154.76,343.97L155.26,343.97L155.76,343.97L156.26,343.97L156.76,343.97L157.26,343.97L157.76,343.97L158.26,347.00L158.76,347.00L159.27,353.04L159.77,353.04L160.27,353.04L160.77,353.04L161.27,353.04L161.77,347.00L162.27,347.00L162.77,347.00L163.27,347.00L163.77,347.00L164.27,347.00L164.77,347.00L165.27,347.00L165.77,347.00L166.27,347.00L166.77,353.04L167.27,353.04L167.78,353.65L168.28,353.65L168.78,353.65L169.28,346.39L169.78,346.39L170.28,346.39L170.78,346.39L171.28,346.39L171.78,346.39L172.28,347.00L172.78,347.00L173.28,347.00L173.78,347.00L174.28,348.20L174.78,348.20L175.28,348.20L175.79,348.20L176.29,348.20L176.79,348.81L177.29,348.81L177.79,348.81L178.29,348.81L178.79,348.81L179.29,348.81L179.79,349.41L180.29,349.41L180.79,349.41L181.29,349.41L181.79,350.02L182.29,350.02L182.79,353.65L183.29,353.65L183.79,351.23L184.30,351.23L184.80,351.23L185.30,350.62L185.80,350.62L186.30,350.02L186.80,350.02L187.30,350.62L187.80,350.62L188.30,350.62L188.30,362.90Z" fill="#F0619A"/>
<path d="M305.30,362.90L305.30,257.10L305.55,257.07L305.80,257.04L306.05,250.44L306.30,250.40L306.55,250.36L306.80,253.27L307.05,253.23L307.30,253.19L307.55,266.60L307.80,266.59L308.05,266.58L308.30,264.73L308.55,264.71L308.80,264.70L309.05,250.52L309.30,250.48L309.55,250.44L309.80,271.97L310.05,271.97L310.30,271.97L310.55,251.59L310.80,251.55L311.05,251.51L311.30,252.08L311.55,252.04L311.80,252.00L312.05,260.28L312.30,260.26L312.55,260.24L312.80,264.40L313.05,264.39L313.30,264.37L313.54,264.99L313.79,264.98L314.04,264.96L314.29,265.55L314.54,265.54L314.79,265.53L315.04,260.61L315.29,260.59L315.54,260.57L315.79,259.00L316.04,258.98L316.29,258.98L316.54,257.71L316.79,257.71L317.04,257.71L317.29,246.22L317.54,246.22L317.79,246.22L318.04,251.49L318.29,251.49L318.54,251.49L318.79,255.92L319.04,255.92L319.29,255.92L319.54,246.39L319.79,246.39L320.04,246.39L320.29,266.50L320.54,266.50L320.79,266.50L321.04,267.93L321.29,267.93L321.54,267.93L321.79,256.17L322.04,256.17L322.29,256.17L322.54,270.96L322.79,270.96L323.04,270.96L323.29,271.17L323.54,271.17L323.79,271.17L324.04,258.71L324.29,258.71L324.54,258.71L324.79,259.98L325.04,259.94L325.29,259.67L325.54,247.10L325.79,246.43L326.04,245.71L326.29,251.59L326.54,250.52L326.79,250.15L327.04,252.40L327.29,252.10L327.54,251.80L327.79,251.93L328.04,251.66L328.29,251.56L328.54,257.80L328.79,257.75L329.04,257.70L329.29,263.79L329.54,263.79L329.78,263.79L330.03,258.96L330.28,258.92L330.53,258.88L330.78,245.19L331.03,245.05L331.28,244.91L331.53,258.49L331.78,258.45L332.03,258.41L332.28,253.54L332.53,253.47L332.78,253.39L333.03,263.99L333.28,263.99L333.53,263.99L333.78,239.35L334.03,239.19L334.28,239.10L334.53,259.43L334.78,259.42L335.03,259.40L335.28,255.93L335.53,255.90L335.78,255.87L336.03,236.95L336.28,236.85L336.53,236.76L336.78,248.22L337.03,248.16L337.28,248.11L337.53,237.44L337.78,237.35L338.03,237.26L338.28,243.77L338.53,243.70L338.78,243.63L339.03,240.29L339.28,240.22L339.53,240.14L339.78,261.13L340.03,261.13L340.28,261.15L340.53,246.74L340.78,246.85L341.03,246.96L341.28,248.11L341.53,248.22L341.78,248.32L342.03,237.19L342.28,237.36L342.53,237.54L342.78,253.16L343.03,253.23L343.28,253.30L343.53,246.34L343.78,246.46L344.03,246.58L344.28,262.38L344.53,262.39L344.78,262.40L345.03,253.05L345.28,253.13L345.53,253.21L345.78,255.09L346.02,255.15L346.27,255.22L346.52,260.00L346.77,260.03L347.02,304.00L347.27,304.00L347.52,304.00L347.77,304.00L348.02,304.00L348.27,304.00L348.52,304.00L348.77,304.00L349.02,304.00L349.27,304.00L349.52,304.00L349.77,304.00L350.02,304.25L350.27,304.25L350.52,304.25L350.77,304.25L351.02,304.25L351.27,304.25L351.52,304.25L351.77,304.25L352.02,304.25L352.27,304.25L352.52,304.25L352.77,304.25L353.02,304.25L353.27,291.13L353.52,291.13L353.77,291.13L354.02,291.13L354.27,291.13L354.52,291.13L354.77,291.13L355.02,283.54L355.27,283.54L355.52,283.54L355.77,283.54L356.02,283.54L356.27,283.54L356.52,283.54L356.77,290.44L357.02,290.44L357.27,290.44L357.52,290.44L357.77,271.80L358.02,271.80L358.27,271.80L358.52,271.80L358.77,271.80L359.02,271.80L359.27,271.11L359.52,271.11L359.77,271.11L360.02,271.11L360.27,271.11L360.52,283.54L360.77,283.54L361.02,283.54L361.27,283.54L361.52,283.54L361.77,283.54L362.02,283.54L362.26,253.15L362.51,253.15L362.76,253.15L363.01,253.15L363.26,253.15L363.51,253.15L363.76,253.15L364.01,249.01L364.26,249.01L364.51,249.01L364.76,249.01L365.01,249.01L365.26,243.48L365.51,243.48L365.76,243.48L366.01,243.48L366.26,243.48L366.51,243.48L366.76,244.17L367.01,244.17L367.26,244.17L367.51,244.17L367.76,258.67L368.01,258.67L368.26,258.67L368.51,258.67L368.76,260.06L369.01,260.06L369.26,260.06L369.51,260.06L369.76,260.06L370.01,260.06L370.26,269.72L370.51,269.72L370.76,269.72L371.01,269.72L371.26,271.11L371.51,271.11L371.76,271.11L372.01,271.11L372.26,287.68L372.51,287.68L372.76,287.68L373.01,287.68L373.26,294.59L373.51,294.59L373.76,294.59L374.01,289.06L374.26,289.06L374.51,289.06L374.76,289.06L375.01,295.97L375.26,295.97L375.51,295.97L375.76,295.97L376.01,295.97L376.26,287.68L376.51,287.68L376.76,287.68L377.01,287.68L377.26,287.68L377.51,287.68L377.76,286.99L378.01,286.99L378.26,286.99L378.50,286.99L378.75,286.99L379.00,286.99L379.25,284.92L379.50,284.92L379.75,284.92L380.00,284.92L380.25,294.59L380.50,294.59L380.75,294.59L381.00,294.59L381.25,294.59L381.50,266.96L381.75,266.96L382.00,266.96L382.25,266.96L382.50,266.96L382.75,266.96L383.00,266.27L383.25,266.27L383.50,266.27L383.75,266.27L384.00,266.27L384.25,266.27L384.50,266.27L384.75,262.82L385.00,262.82L385.25,262.82L385.50,262.82L385.75,262.82L386.00,262.82L386.25,263.51L386.50,263.51L386.75,263.51L387.00,263.51L387.25,263.51L387.50,268.34L387.75,268.34L388.00,268.34L388.25,268.34L388.50,268.34L388.75,279.39L389.00,279.39L389.25,279.39L389.50,279.39L389.75,279.39L390.00,279.39L390.25,279.39L390.50,279.39L390.75,279.39L391.00,279.39L391.25,279.39L391.50,264.20L391.75,264.20L392.00,264.20L392.25,264.20L392.50,264.20L392.75,264.20L393.00,264.20L393.25,264.89L393.50,264.89L393.75,264.89L394.00,264.89L394.25,264.89L394.50,264.89L394.74,264.89L394.99,266.27L395.24,266.27L395.49,266.27L395.74,266.27L395.99,266.27L396.24,266.27L396.49,282.16L396.74,282.16L396.99,282.16L397.24,282.16L397.49,282.16L397.74,275.25L397.99,275.25L398.24,275.25L398.49,275.25L398.74,275.25L398.99,275.25L399.24,276.63L399.49,276.63L399.74,276.63L399.99,276.63L400.24,276.63L400.49,278.01L400.74,278.01L400.99,278.01L401.24,278.01L401.49,278.01L401.74,278.01L401.99,278.01L402.24,278.70L402.49,278.70L402.74,278.70L402.99,278.70L403.24,278.70L403.49,278.70L403.74,278.70L403.99,278.70L404.24,278.70L404.49,278.70L404.74,278.70L404.99,278.70L405.24,278.70L405.49,278.70L405.74,278.70L405.99,286.30L406.24,286.30L406.49,286.30L406.74,286.30L406.99,286.30L407.24,286.87L407.49,286.87L407.74,286.87L407.99,286.87L408.24,286.87L408.49,279.62L408.74,279.62L408.99,279.62L409.24,279.62L409.49,279.62L409.74,279.62L409.99,283.85L410.24,283.85L410.49,283.85L410.74,283.85L410.98,283.85L411.23,283.85L411.48,283.85L411.73,283.85L411.98,283.85L412.23,283.85L412.48,283.85L412.73,283.85L412.98,283.85L413.23,283.24L413.48,283.24L413.73,283.24L413.98,283.24L414.23,283.24L414.48,283.24L414.73,283.24L414.98,285.06L415.23,285.06L415.48,285.06L415.73,285.06L415.98,285.06L416.23,285.06L416.48,278.41L416.73,278.41L416.98,278.41L417.23,278.41L417.48,278.41L417.73,286.26L417.98,286.26L418.23,286.26L418.48,286.26L418.73,286.26L418.98,286.87L419.23,286.87L419.48,286.87L419.73,286.87L419.98,286.87L420.23,291.10L420.48,291.10L420.73,291.10L420.98,291.10L421.23,291.10L421.48,288.68L421.73,288.68L421.98,288.68L422.23,288.68L422.48,288.68L422.73,282.64L422.98,282.64L423.23,282.64L423.48,282.64L423.73,282.64L423.98,282.64L424.23,275.39L424.48,275.39L424.73,275.39L424.98,275.39L425.23,275.39L425.48,275.39L425.73,277.20L425.98,277.20L426.23,277.20L426.48,277.20L426.73,277.20L426.98,277.81L427.22,277.81L427.47,277.81L427.72,277.81L427.97,288.68L428.22,288.68L428.47,288.68L428.72,288.68L428.97,288.68L429.22,286.87L429.47,286.87L429.72,286.87L429.97,286.87L430.22,286.87L430.47,286.87L430.72,281.43L430.97,281.43L431.22,281.43L431.47,281.43L431.72,281.43L431.97,281.43L432.22,281.43L432.47,279.01L432.72,279.01L432.97,279.01L433.22,279.01L433.47,279.01L433.72,279.01L433.97,280.22L434.22,280.22L434.47,280.22L434.72,280.22L434.97,280.22L435.22,280.22L435.47,282.64L435.72,282.64L435.97,282.64L436.22,282.64L436.47,282.64L436.72,282.64L436.97,286.87L437.22,286.87L437.47,286.87L437.72,286.87L437.97,286.87L438.22,286.87L438.47,286.87L438.72,289.89L438.97,289.89L439.22,289.89L439.47,289.89L439.72,289.89L439.97,289.89L440.22,287.47L440.47,287.47L440.72,287.47L440.97,287.47L441.22,287.47L441.47,282.64L441.72,282.64L441.97,282.64L442.22,282.64L442.47,282.64L442.72,282.64L442.97,282.03L443.22,282.03L443.46,282.03L443.71,282.03L443.96,282.03L444.21,282.03L444.46,282.03L444.71,280.83L444.96,280.83L445.21,280.83L445.46,280.83L445.71,280.83L445.96,280.83L446.21,286.26L446.46,286.26L446.71,286.26L446.96,286.26L447.21,286.26L447.46,293.51L447.71,293.51L447.96,293.51L448.21,293.51L448.46,298.35L448.71,298.35L448.96,298.35L449.21,308.01L449.46,308.01L449.71,308.01L449.96,301.97L450.21,301.97L450.46,301.97L450.71,301.97L450.96,298.35L451.21,298.35L451.46,298.35L451.71,298.35L451.96,298.35L452.21,301.97L452.46,301.97L452.71,301.97L452.96,301.97L453.21,301.97L453.46,303.18L453.71,303.18L453.96,303.18L454.21,303.18L454.46,303.18L454.71,303.18L454.96,307.41L455.21,307.41L455.46,307.41L455.71,307.41L455.96,307.41L456.21,307.41L456.46,307.41L456.71,308.01L456.96,308.01L457.21,308.01L457.46,308.01L457.71,308.01L457.96,308.01L458.21,305.59L458.46,305.59L458.71,305.59L458.96,305.59L459.21,305.59L459.46,303.18L459.70,303.18L459.95,303.18L460.20,303.18L460.45,303.18L460.70,304.99L460.95,304.99L461.20,304.99L461.45,304.99L461.70,304.99L461.95,303.18L462.20,303.18L462.45,303.18L462.70,303.18L462.95,303.18L463.20,297.14L463.45,297.14L463.70,297.14L463.95,297.14L464.20,294.72L464.45,294.72L464.70,294.72L464.95,298.35L465.20,298.35L465.45,298.35L465.70,298.35L465.95,298.35L466.20,303.78L466.45,303.78L466.70,303.78L466.95,303.78L467.20,304.39L467.45,304.39L467.70,304.39L467.70,362.90Z" fill="#EBB86A"/>
<path d="M305.30,362.90L305.30,279.93L305.55,280.00L305.80,280.25L306.05,280.50L306.30,280.75L306.55,281.00L306.80,281.25L307.05,281.50L307.30,281.75L307.55,282.00L307.80,282.25L308.05,287.37L308.30,287.60L308.55,282.74L308.80,282.99L309.05,283.24L309.30,283.49L309.55,283.74L309.80,283.99L310.05,284.25L310.30,284.50L310.55,290.63L310.80,290.75L311.05,290.87L311.30,290.98L311.55,288.04L311.80,288.16L312.05,288.28L312.30,288.40L312.55,288.53L312.80,288.65L313.05,288.78L313.30,288.94L313.54,289.10L313.79,289.26L314.04,289.41L314.29,289.57L314.54,289.73L314.79,288.86L315.04,289.02L315.29,289.18L315.54,289.34L315.79,289.50L316.04,289.66L316.29,289.82L316.54,289.98L316.79,290.14L317.04,290.30L317.29,290.46L317.54,290.62L317.79,290.78L318.04,296.10L318.29,296.18L318.54,296.26L318.79,296.34L319.04,289.79L319.29,289.88L319.54,289.97L319.79,290.06L320.04,290.14L320.29,290.23L320.54,290.32L320.79,290.41L321.04,290.50L321.29,290.58L321.54,290.67L321.79,291.35L322.04,291.44L322.29,291.52L322.54,291.61L322.79,291.70L323.04,291.75L323.29,291.78L323.54,291.82L323.79,296.36L324.04,296.40L324.29,296.43L324.54,296.47L324.79,291.95L325.04,291.99L325.29,292.03L325.54,292.07L325.79,292.10L326.04,292.14L326.29,292.18L326.54,292.21L326.79,292.25L327.04,292.29L327.29,292.33L327.54,296.37L327.79,296.41L328.04,296.45L328.29,296.50L328.54,296.55L328.79,294.25L329.04,294.30L329.29,294.35L329.54,294.40L329.78,294.45L330.03,294.50L330.28,294.54L330.53,294.59L330.78,294.64L331.03,294.69L331.28,294.74L331.53,294.79L331.78,297.70L332.03,297.75L332.28,293.13L332.53,293.18L332.78,293.23L333.03,293.30L333.28,293.37L333.53,293.45L333.78,293.52L334.03,293.60L334.28,297.22L334.53,297.29L334.78,297.36L335.03,297.43L335.28,294.31L335.53,294.38L335.78,294.46L336.03,294.53L336.28,294.60L336.53,294.68L336.78,294.75L337.03,294.83L337.28,294.90L337.53,294.98L337.78,295.05L338.03,295.10L338.28,295.15L338.53,295.03L338.78,295.08L339.03,295.13L339.28,295.18L339.53,295.23L339.78,295.28L340.03,295.33L340.28,295.38L340.53,295.43L340.78,295.48L341.03,295.53L341.28,295.58L341.53,300.37L341.78,300.42L342.03,300.47L342.28,300.51L342.53,300.56L342.78,296.05L343.03,296.18L343.28,296.31L343.53,296.45L343.78,296.58L344.03,296.71L344.28,296.84L344.53,295.36L344.78,295.49L345.03,295.63L345.28,295.77L345.53,295.90L345.78,296.04L346.02,296.17L346.27,296.31L346.52,296.56L346.77,304.28L347.02,304.00L347.27,304.00L347.52,304.00L347.77,304.00L348.02,304.00L348.27,304.00L348.52,304.00L348.77,304.00L349.02,304.00L349.27,304.00L349.52,304.00L349.77,304.00L350.02,304.25L350.27,304.25L350.52,304.25L350.77,304.25L351.02,304.25L351.27,304.25L351.52,304.25L351.77,304.25L352.02,304.25L352.27,304.25L352.52,304.25L352.77,304.25L353.02,304.25L353.27,303.56L353.52,303.56L353.77,303.56L354.02,303.56L354.27,303.56L354.52,303.56L354.77,303.56L355.02,303.93L355.27,303.93L355.52,303.93L355.77,303.93L356.02,303.93L356.27,303.93L356.52,303.93L356.77,303.93L357.02,303.93L357.27,303.93L357.52,304.94L357.77,304.94L358.02,304.94L358.27,304.25L358.52,304.25L358.77,304.25L359.02,304.25L359.27,304.25L359.52,304.25L359.77,304.25L360.02,304.25L360.27,304.25L360.52,304.25L360.77,303.14L361.02,303.14L361.27,303.14L361.52,303.14L361.77,303.14L362.02,303.14L362.26,303.14L362.51,303.80L362.76,303.02L363.01,302.02L363.26,301.02L363.51,300.02L363.76,298.76L364.01,298.61L364.26,298.64L364.51,298.67L364.76,298.70L365.01,298.73L365.26,298.76L365.51,298.79L365.76,298.82L366.01,298.85L366.26,298.88L366.51,298.00L366.76,298.03L367.01,298.06L367.26,298.09L367.51,298.12L367.76,298.15L368.01,298.19L368.26,298.22L368.51,298.25L368.76,298.28L369.01,298.43L369.26,298.46L369.51,298.49L369.76,298.52L370.01,298.55L370.26,298.61L370.51,298.67L370.76,298.73L371.01,298.79L371.26,298.85L371.51,298.91L371.76,300.14L372.01,300.20L372.26,300.26L372.51,300.31L372.76,300.37L373.01,300.43L373.26,300.49L373.51,300.55L373.76,300.61L374.01,300.66L374.26,300.13L374.51,300.19L374.76,300.25L375.01,300.31L375.26,300.36L375.51,300.42L375.76,300.48L376.01,301.71L376.26,301.77L376.51,301.82L376.76,301.88L377.01,301.94L377.26,302.00L377.51,302.06L377.76,301.50L378.01,301.62L378.26,301.74L378.50,301.85L378.75,301.97L379.00,302.14L379.25,302.26L379.50,302.37L379.75,302.49L380.00,302.60L380.25,302.72L380.50,302.84L380.75,302.95L381.00,303.07L381.25,303.11L381.50,302.05L381.75,301.88L382.00,301.71L382.25,301.54L382.50,301.38L382.75,301.21L383.00,301.04L383.25,300.87L383.50,300.70L383.75,301.61L384.00,301.44L384.25,301.28L384.50,301.11L384.75,300.95L385.00,300.84L385.25,300.68L385.50,300.65L385.75,300.63L386.00,300.60L386.25,300.58L386.50,300.55L386.75,300.53L387.00,300.51L387.25,300.48L387.50,300.46L387.75,300.43L388.00,299.56L388.25,299.53L388.50,299.51L388.75,299.48L389.00,299.46L389.25,299.43L389.50,299.88L389.75,299.86L390.00,299.79L390.25,299.69L390.50,299.59L390.75,299.49L391.00,299.39L391.25,299.29L391.50,299.19L391.75,299.09L392.00,298.99L392.25,299.71L392.50,299.61L392.75,299.51L393.00,299.41L393.25,299.31L393.50,297.49L393.75,297.38L394.00,297.28L394.25,297.18L394.50,297.08L394.74,296.98L394.99,296.97L395.24,298.83L395.49,298.87L395.74,298.91L395.99,298.94L396.24,298.98L396.49,299.02L396.74,299.05L396.99,299.09L397.24,299.13L397.49,298.34L397.74,298.38L397.99,298.41L398.24,298.45L398.49,298.49L398.74,298.53L398.99,298.87L399.24,298.91L399.49,298.94L399.74,298.98L399.99,299.04L400.24,299.04L400.49,299.10L400.74,299.16L400.99,299.22L401.24,299.28L401.49,299.35L401.74,299.41L401.99,301.95L402.24,302.01L402.49,302.07L402.74,299.29L402.99,299.35L403.24,299.41L403.49,299.47L403.74,299.54L403.99,299.60L404.24,299.66L404.49,299.72L404.74,299.40L404.99,299.47L405.24,299.53L405.49,299.59L405.74,299.65L405.99,300.02L406.24,300.08L406.49,300.15L406.74,300.21L406.99,300.27L407.24,300.34L407.49,300.40L407.74,300.46L407.99,300.52L408.24,300.59L408.49,301.23L408.74,301.29L408.99,301.35L409.24,301.41L409.49,301.48L409.74,301.54L409.99,301.57L410.24,301.61L410.49,301.65L410.74,300.92L410.98,300.95L411.23,300.99L411.48,301.03L411.73,301.07L411.98,301.10L412.23,301.86L412.48,301.90L412.73,301.93L412.98,301.97L413.23,302.01L413.48,302.05L413.73,302.08L413.98,302.12L414.23,302.16L414.48,301.95L414.73,301.95L414.98,301.75L415.23,301.55L415.48,301.35L415.73,301.15L415.98,300.95L416.23,300.75L416.48,300.55L416.73,300.35L416.98,300.15L417.23,300.00L417.48,300.30L417.73,300.32L417.98,300.35L418.23,300.37L418.48,300.40L418.73,300.42L418.98,300.45L419.23,299.97L419.48,299.99L419.73,300.02L419.98,300.04L420.23,300.07L420.48,300.09L420.73,300.12L420.98,300.14L421.23,300.17L421.48,300.19L421.73,300.07L421.98,300.09L422.23,300.12L422.48,300.16L422.73,300.20L422.98,300.24L423.23,300.27L423.48,300.31L423.73,300.35L423.98,300.39L424.23,303.65L424.48,303.68L424.73,303.72L424.98,300.69L425.23,300.73L425.48,300.77L425.73,300.80L425.98,300.84L426.23,300.88L426.48,301.05L426.73,301.09L426.98,301.12L427.22,301.14L427.47,301.14L427.72,301.14L427.97,301.14L428.22,301.38L428.47,301.38L428.72,301.38L428.97,301.38L429.22,301.38L429.47,301.38L429.72,301.38L429.97,301.38L430.22,301.38L430.47,301.12L430.72,301.12L430.97,301.12L431.22,301.12L431.47,301.12L431.72,301.12L431.97,301.12L432.22,301.12L432.47,301.12L432.72,302.65L432.97,302.65L433.22,302.65L433.47,302.65L433.72,300.74L433.97,300.74L434.22,300.74L434.47,300.74L434.72,300.74L434.97,300.74L435.22,300.74L435.47,300.74L435.72,300.74L435.97,301.05L436.22,301.05L436.47,301.05L436.72,301.05L436.97,301.05L437.22,301.05L437.47,301.05L437.72,301.05L437.97,301.05L438.22,300.19L438.47,300.19L438.72,300.19L438.97,300.19L439.22,300.19L439.47,300.19L439.72,300.19L439.97,300.19L440.22,301.06L440.47,301.06L440.72,301.06L440.97,301.06L441.22,301.06L441.47,301.06L441.72,301.06L441.97,301.06L442.22,301.10L442.47,301.10L442.72,301.10L442.97,301.10L443.22,301.10L443.46,301.10L443.71,301.63L443.96,301.63L444.21,301.63L444.46,301.63L444.71,301.71L444.96,301.80L445.21,301.88L445.46,301.96L445.71,302.04L445.96,301.71L446.21,301.80L446.46,301.88L446.71,301.96L446.96,302.05L447.21,302.13L447.46,301.69L447.71,301.77L447.96,301.86L448.21,302.00L448.46,303.00L448.71,304.01L448.96,305.02L449.21,308.01L449.46,308.01L449.71,308.01L449.96,306.68L450.21,308.55L450.46,308.43L450.71,308.30L450.96,308.18L451.21,305.95L451.46,305.83L451.71,305.70L451.96,305.61L452.21,305.67L452.46,305.73L452.71,305.79L452.96,305.86L453.21,305.92L453.46,306.04L453.71,306.10L453.96,306.17L454.21,306.23L454.46,306.29L454.71,306.36L454.96,307.41L455.21,307.41L455.46,307.41L455.71,307.41L455.96,307.41L456.21,307.71L456.46,307.78L456.71,308.01L456.96,308.01L457.21,308.01L457.46,308.11L457.71,308.21L457.96,308.31L458.21,308.41L458.46,308.85L458.71,308.95L458.96,309.05L459.21,309.14L459.46,309.24L459.70,309.34L459.95,309.44L460.20,308.79L460.45,308.89L460.70,308.99L460.95,309.09L461.20,309.19L461.45,309.29L461.70,309.39L461.95,311.39L462.20,311.71L462.45,310.21L462.70,310.55L462.95,310.88L463.20,311.22L463.45,311.56L463.70,311.90L463.95,312.23L464.20,312.57L464.45,312.91L464.70,313.25L464.95,313.58L465.20,313.97L465.45,314.30L465.70,314.64L465.95,314.98L466.20,315.31L466.45,315.29L466.70,315.63L466.95,315.78L467.20,315.78L467.45,315.78L467.70,315.78L467.70,362.90Z" fill="#ADD4E3"/>
<path d="M305.30,362.90L305.30,337.97L305.55,338.04L305.80,338.30L306.05,338.55L306.30,338.80L306.55,339.06L306.80,339.31L307.05,339.57L307.30,339.78L307.55,340.03L307.80,340.29L308.05,340.54L308.30,340.80L308.55,341.05L308.80,344.82L309.05,345.03L309.30,341.58L309.55,341.84L309.80,342.10L310.05,342.36L310.30,342.62L310.55,342.80L310.80,342.86L311.05,342.92L311.30,342.99L311.55,343.05L311.80,343.12L312.05,343.18L312.30,346.41L312.55,346.46L312.80,346.52L313.05,346.57L313.30,343.16L313.54,343.23L313.79,343.29L314.04,343.36L314.29,343.42L314.54,343.49L314.79,343.55L315.04,343.62L315.29,343.69L315.54,343.72L315.79,347.13L316.04,347.13L316.29,344.65L316.54,344.65L316.79,344.65L317.04,344.65L317.29,344.65L317.54,344.65L317.79,344.65L318.04,344.65L318.29,344.65L318.54,344.65L318.79,344.65L319.04,344.65L319.29,346.51L319.54,346.51L319.79,346.51L320.04,346.51L320.29,345.28L320.54,345.24L320.79,345.18L321.04,345.12L321.29,345.06L321.54,345.00L321.79,344.94L322.04,344.88L322.29,346.31L322.54,346.26L322.79,346.20L323.04,343.53L323.29,343.47L323.54,343.40L323.79,343.34L324.04,343.27L324.29,343.21L324.54,345.93L324.79,345.88L325.04,345.82L325.29,345.77L325.54,345.80L325.79,343.96L326.04,344.02L326.29,344.09L326.54,344.15L326.79,344.21L327.04,344.27L327.29,344.33L327.54,344.39L327.79,344.45L328.04,345.50L328.29,345.56L328.54,345.62L328.79,344.58L329.04,344.65L329.29,344.71L329.54,344.77L329.78,344.83L330.03,344.89L330.28,344.95L330.53,344.24L330.78,344.31L331.03,344.37L331.28,344.44L331.53,344.50L331.78,344.56L332.03,344.63L332.28,344.69L332.53,344.96L332.78,345.02L333.03,345.08L333.28,345.15L333.53,345.21L333.78,345.27L334.03,345.34L334.28,345.40L334.53,345.46L334.78,345.53L335.03,345.59L335.28,345.64L335.53,348.24L335.78,348.19L336.03,348.14L336.28,348.08L336.53,345.71L336.78,345.65L337.03,345.59L337.28,345.53L337.53,345.46L337.78,345.40L338.03,345.34L338.28,345.28L338.53,345.22L338.78,345.15L339.03,344.68L339.28,344.61L339.53,344.55L339.78,344.49L340.03,344.42L340.28,344.40L340.53,344.57L340.78,344.74L341.03,344.91L341.28,345.08L341.53,345.25L341.78,345.42L342.03,345.85L342.28,346.02L342.53,346.18L342.78,346.35L343.03,346.52L343.28,346.68L343.53,346.85L343.78,347.02L344.03,347.21L344.28,347.46L344.53,347.71L344.78,347.96L345.03,350.02L345.28,350.24L345.53,350.46L345.78,350.68L346.02,349.92L346.27,350.16L346.52,350.44L346.77,350.79L347.02,349.95L347.27,350.34L347.52,350.73L347.77,351.12L348.02,351.51L348.27,351.90L348.52,352.30L348.77,352.98L349.02,353.27L349.27,353.44L349.52,353.61L349.77,353.78L350.02,353.95L350.27,354.12L350.52,354.29L350.77,354.76L351.02,354.92L351.27,355.08L351.52,355.25L351.77,355.34L352.02,355.50L352.27,355.67L352.52,355.83L352.77,355.97L353.02,356.00L353.27,356.02L353.52,356.05L353.77,356.07L354.02,356.02L354.27,356.05L354.52,356.07L354.77,356.10L355.02,356.12L355.27,356.15L355.52,356.17L355.77,356.19L356.02,356.22L356.27,356.24L356.52,356.17L356.77,356.20L357.02,356.22L357.27,356.25L357.52,356.33L357.77,356.36L358.02,356.38L358.27,356.41L358.52,356.43L358.77,356.46L359.02,356.48L359.27,356.51L359.52,356.53L359.77,356.56L360.02,356.58L360.27,356.59L360.52,356.72L360.77,356.72L361.02,356.72L361.27,356.72L361.52,356.72L361.77,356.72L362.02,356.72L362.26,356.72L362.51,356.72L362.76,356.72L363.01,356.72L363.26,356.56L363.51,356.56L363.76,356.56L364.01,356.56L364.26,356.56L364.51,356.56L364.76,356.37L365.01,356.37L365.26,356.37L365.51,356.37L365.76,356.37L366.01,356.37L366.26,356.37L366.51,356.44L366.76,356.44L367.01,356.44L367.26,356.44L367.51,356.44L367.76,356.40L368.01,356.37L368.26,356.46L368.51,356.42L368.76,356.38L369.01,356.34L369.26,356.31L369.51,356.27L369.76,356.23L370.01,356.10L370.26,356.06L370.51,356.02L370.76,355.99L371.01,355.95L371.26,355.91L371.51,355.87L371.76,355.83L372.01,355.80L372.26,355.83L372.51,355.79L372.76,355.79L373.01,355.79L373.26,355.79L373.51,355.79L373.76,355.79L374.01,355.79L374.26,355.79L374.51,355.79L374.76,355.79L375.01,355.90L375.26,355.90L375.51,355.90L375.76,355.90L376.01,355.90L376.26,355.90L376.51,355.90L376.76,355.90L377.01,355.90L377.26,355.90L377.51,356.03L377.76,355.97L378.01,355.91L378.26,355.85L378.50,355.79L378.75,355.73L379.00,355.67L379.25,355.61L379.50,355.33L379.75,355.26L380.00,355.20L380.25,355.14L380.50,355.08L380.75,355.01L381.00,354.95L381.25,354.89L381.50,354.83L381.75,354.76L382.00,354.74L382.25,354.68L382.50,354.63L382.75,354.63L383.00,354.63L383.25,354.64L383.50,354.64L383.75,354.64L384.00,354.64L384.25,354.64L384.50,354.64L384.75,354.64L385.00,354.64L385.25,354.64L385.50,354.64L385.75,354.64L386.00,354.43L386.25,354.43L386.50,354.43L386.75,354.43L387.00,354.43L387.25,354.43L387.50,354.44L387.75,354.51L388.00,354.53L388.25,354.56L388.50,354.58L388.75,354.61L389.00,354.63L389.25,354.66L389.50,354.68L389.75,354.71L390.00,354.74L390.25,354.76L390.50,354.79L390.75,354.82L391.00,354.85L391.25,354.87L391.50,354.90L391.75,354.92L392.00,354.95L392.25,354.97L392.50,354.96L392.75,354.90L393.00,354.85L393.25,354.80L393.50,354.85L393.75,354.80L394.00,354.75L394.25,354.70L394.50,354.65L394.74,354.60L394.99,354.55L395.24,354.50L395.49,354.35L395.74,354.30L395.99,354.25L396.24,354.20L396.49,354.15L396.74,354.10L396.99,354.05L397.24,354.00L397.49,354.52L397.74,354.57L397.99,354.18L398.24,354.23L398.49,354.28L398.74,354.33L398.99,354.38L399.24,354.43L399.49,354.48L399.74,354.53L399.99,354.58L400.24,354.63L400.49,354.68L400.74,354.86L400.99,354.91L401.24,354.95L401.49,355.00L401.74,355.05L401.99,355.10L402.24,355.08L402.49,355.15L402.74,355.23L402.99,355.30L403.24,355.38L403.49,355.45L403.74,355.53L403.99,355.60L404.24,355.68L404.49,355.58L404.74,355.66L404.99,355.74L405.24,355.81L405.49,355.89L405.74,355.96L405.99,356.23L406.24,356.30L406.49,356.38L406.74,356.45L406.99,356.53L407.24,356.60L407.49,356.65L407.74,356.73L407.99,356.78L408.24,356.83L408.49,356.88L408.74,356.93L408.99,356.98L409.24,357.03L409.49,357.08L409.74,357.25L409.99,357.30L410.24,356.94L410.49,356.99L410.74,357.04L410.98,357.09L411.23,357.14L411.48,357.20L411.73,357.47L411.98,357.52L412.23,357.56L412.48,357.51L412.73,357.46L412.98,357.42L413.23,357.37L413.48,357.32L413.73,357.27L413.98,357.22L414.23,356.99L414.48,356.94L414.73,356.89L414.98,356.84L415.23,356.79L415.48,356.74L415.73,356.69L415.98,356.63L416.23,356.58L416.48,356.53L416.73,356.48L416.98,356.43L417.23,356.68L417.48,356.68L417.73,356.68L417.98,356.68L418.23,356.68L418.48,356.68L418.73,356.68L418.98,356.34L419.23,356.34L419.48,356.34L419.73,356.34L419.98,356.34L420.23,356.34L420.48,356.34L420.73,356.34L420.98,356.45L421.23,356.45L421.48,356.45L421.73,356.45L421.98,356.45L422.23,356.45L422.48,356.45L422.73,356.61L422.98,356.61L423.23,356.61L423.48,356.61L423.73,356.61L423.98,356.61L424.23,356.61L424.48,356.61L424.73,356.61L424.98,356.58L425.23,356.58L425.48,356.58L425.73,356.58L425.98,356.58L426.23,356.58L426.48,356.58L426.73,356.58L426.98,356.58L427.22,356.58L427.47,356.58L427.72,356.62L427.97,356.62L428.22,356.62L428.47,356.62L428.72,356.62L428.97,356.62L429.22,356.62L429.47,356.62L429.72,356.38L429.97,356.38L430.22,356.38L430.47,356.38L430.72,356.38L430.97,356.38L431.22,356.38L431.47,356.38L431.72,356.62L431.97,356.62L432.22,356.62L432.47,356.62L432.72,356.62L432.97,356.62L433.22,356.62L433.47,356.62L433.72,356.59L433.97,356.59L434.22,356.59L434.47,356.59L434.72,356.59L434.97,356.59L435.22,356.59L435.47,356.59L435.72,356.59L435.97,356.59L436.22,356.59L436.47,356.56L436.72,356.56L436.97,356.56L437.22,356.59L437.47,356.64L437.72,356.74L437.97,356.79L438.22,356.84L438.47,356.89L438.72,356.87L438.97,356.92L439.22,356.97L439.47,357.02L439.72,357.07L439.97,357.12L440.22,357.17L440.47,357.22L440.72,357.27L440.97,357.32L441.22,357.27L441.47,357.32L441.72,357.37L441.97,357.43L442.22,357.41L442.47,357.38L442.72,357.80L442.97,357.78L443.22,357.52L443.46,357.49L443.71,357.47L443.96,357.45L444.21,357.42L444.46,357.40L444.71,357.37L444.96,357.35L445.21,357.29L445.46,357.27L445.71,357.25L445.96,357.22L446.21,357.20L446.46,357.17L446.71,357.15L446.96,357.12L447.21,357.23L447.46,357.24L447.71,357.25L447.96,357.26L448.21,357.27L448.46,357.29L448.71,357.30L448.96,357.31L449.21,357.32L449.46,357.37L449.71,357.38L449.96,357.14L450.21,357.16L450.46,357.17L450.71,357.18L450.96,357.19L451.21,357.21L451.46,357.22L451.71,357.23L451.96,357.24L452.21,357.61L452.46,357.62L452.71,357.63L452.96,357.65L453.21,357.18L453.46,357.20L453.71,357.21L453.96,357.22L454.21,357.24L454.46,357.25L454.71,357.26L454.96,357.27L455.21,357.29L455.46,357.30L455.71,357.31L455.96,357.51L456.21,357.53L456.46,357.54L456.71,357.55L456.96,357.57L457.21,357.61L457.46,357.65L457.71,357.68L457.96,357.72L458.21,357.76L458.46,357.80L458.71,357.65L458.96,357.69L459.21,357.73L459.46,357.77L459.70,357.80L459.95,358.03L460.20,358.07L460.45,358.10L460.70,358.14L460.95,358.16L461.20,358.19L461.45,358.23L461.70,358.27L461.95,358.31L462.20,358.34L462.45,358.38L462.70,358.52L462.95,358.46L463.20,358.50L463.45,358.54L463.70,358.57L463.95,358.61L464.20,358.65L464.45,358.69L464.70,358.76L464.95,358.80L465.20,358.84L465.45,358.88L465.70,358.91L465.95,358.99L466.20,359.03L466.45,359.07L466.70,359.10L466.95,359.12L467.20,359.09L467.45,359.09L467.70,359.09L467.70,362.90Z" fill="#B2E68C"/>
<path d="M305.30,362.90L305.30,349.63L305.55,349.65L305.80,349.71L306.05,349.78L306.30,349.84L306.55,349.90L306.80,349.96L307.05,350.02L307.30,350.09L307.55,350.15L307.80,350.18L308.05,350.24L308.30,350.30L308.55,350.36L308.80,350.43L309.05,350.49L309.30,350.55L309.55,350.61L309.80,350.68L310.05,350.81L310.30,350.87L310.55,350.94L310.80,351.00L311.05,351.06L311.30,351.12L311.55,351.18L311.80,351.01L312.05,351.07L312.30,351.14L312.55,351.20L312.80,351.26L313.05,351.33L313.30,351.39L313.54,351.45L313.79,351.52L314.04,351.58L314.29,351.96L314.54,352.03L314.79,352.09L315.04,352.15L315.29,352.21L315.54,352.27L315.79,352.33L316.04,352.40L316.29,352.46L316.54,352.52L316.79,352.58L317.04,352.64L317.29,352.70L317.54,352.91L317.79,352.97L318.04,353.03L318.29,353.09L318.54,353.15L318.79,353.21L319.04,353.27L319.29,353.33L319.54,353.39L319.79,354.03L320.04,354.09L320.29,354.15L320.54,354.17L320.79,353.45L321.04,353.45L321.29,353.45L321.54,353.45L321.79,353.45L322.04,353.45L322.29,353.45L322.54,353.33L322.79,353.33L323.04,353.33L323.29,353.33L323.54,353.33L323.79,353.33L324.04,353.33L324.29,353.33L324.54,353.33L324.79,353.33L325.04,353.33L325.29,353.89L325.54,353.89L325.79,353.89L326.04,353.89L326.29,353.89L326.54,353.22L326.79,353.22L327.04,353.22L327.29,353.22L327.54,353.22L327.79,353.22L328.04,353.22L328.29,353.22L328.54,353.22L328.79,353.22L329.04,353.22L329.29,353.93L329.54,353.93L329.78,353.93L330.03,353.93L330.28,353.40L330.53,353.43L330.78,353.47L331.03,353.51L331.28,353.54L331.53,353.58L331.78,353.62L332.03,353.66L332.28,353.69L332.53,353.73L332.78,353.77L333.03,354.51L333.28,354.55L333.53,354.58L333.78,353.91L334.03,353.94L334.28,353.98L334.53,354.02L334.78,354.06L335.03,354.09L335.28,354.10L335.53,354.06L335.78,354.02L336.03,353.98L336.28,353.95L336.53,353.91L336.78,353.87L337.03,353.83L337.28,353.94L337.53,353.90L337.78,353.87L338.03,353.83L338.28,353.79L338.53,353.76L338.78,353.72L339.03,353.68L339.28,353.65L339.53,353.49L339.78,353.46L340.03,353.42L340.28,353.40L340.53,353.46L340.78,353.52L341.03,353.59L341.28,353.65L341.53,353.60L341.78,353.67L342.03,353.73L342.28,353.79L342.53,353.86L342.78,353.92L343.03,353.98L343.28,354.04L343.53,354.11L343.78,354.17L344.03,354.23L344.28,354.29L344.53,354.36L344.78,354.42L345.03,354.48L345.28,354.55L345.53,354.64L345.78,354.72L346.02,354.80L346.27,354.89L346.52,354.97L346.77,355.06L347.02,355.23L347.27,355.31L347.52,355.40L347.77,355.56L348.02,355.65L348.27,355.73L348.52,355.81L348.77,355.89L349.02,355.97L349.27,356.06L349.52,356.14L349.77,356.22L350.02,356.30L350.27,356.38L350.52,356.47L350.77,356.31L351.02,356.40L351.27,356.48L351.52,356.57L351.77,356.65L352.02,356.74L352.27,356.89L352.52,356.97L352.77,357.02L353.02,357.04L353.27,357.05L353.52,357.07L353.77,357.09L354.02,357.10L354.27,357.12L354.52,357.14L354.77,357.15L355.02,357.13L355.27,357.14L355.52,357.16L355.77,357.18L356.02,357.36L356.27,357.38L356.52,357.40L356.77,357.41L357.02,357.43L357.27,357.45L357.52,357.46L357.77,357.48L358.02,357.49L358.27,357.51L358.52,357.53L358.77,357.55L359.02,357.56L359.27,357.58L359.52,357.60L359.77,357.61L360.02,357.63L360.27,357.63L360.52,357.63L360.77,357.63L361.02,357.53L361.27,357.53L361.52,357.53L361.77,357.53L362.02,357.53L362.26,357.53L362.51,357.53L362.76,357.53L363.01,357.53L363.26,357.53L363.51,357.53L363.76,357.53L364.01,357.54L364.26,357.54L364.51,357.54L364.76,357.54L365.01,357.54L365.26,357.54L365.51,357.54L365.76,357.54L366.01,357.54L366.26,357.54L366.51,357.58L366.76,357.58L367.01,357.58L367.26,357.58L367.51,357.58L367.76,357.61L368.01,357.65L368.26,357.68L368.51,357.72L368.76,357.76L369.01,357.80L369.26,357.93L369.51,357.97L369.76,358.00L370.01,358.04L370.26,358.08L370.51,358.11L370.76,358.15L371.01,358.19L371.26,358.22L371.51,358.26L371.76,358.30L372.01,358.19L372.26,358.23L372.51,358.26L372.76,358.30L373.01,358.34L373.26,358.38L373.51,358.41L373.76,358.45L374.01,358.49L374.26,358.56L374.51,358.60L374.76,358.64L375.01,358.68L375.26,358.71L375.51,358.75L375.76,358.79L376.01,358.83L376.26,358.86L376.51,358.90L376.76,358.97L377.01,359.01L377.26,359.05L377.51,359.07L377.76,359.03L378.01,359.00L378.26,358.90L378.50,358.86L378.75,358.83L379.00,358.79L379.25,358.75L379.50,358.71L379.75,358.68L380.00,358.61L380.25,358.57L380.50,358.53L380.75,358.49L381.00,358.45L381.25,358.42L381.50,358.38L381.75,358.34L382.00,358.30L382.25,358.26L382.50,358.29L382.75,358.26L383.00,358.22L383.25,358.18L383.50,358.14L383.75,358.21L384.00,358.18L384.25,358.14L384.50,357.99L384.75,357.95L385.00,357.91L385.25,357.88L385.50,357.84L385.75,357.81L386.00,357.77L386.25,357.74L386.50,357.70L386.75,357.66L387.00,357.62L387.25,357.59L387.50,357.58L387.75,357.62L388.00,357.65L388.25,357.69L388.50,357.73L388.75,357.77L389.00,357.80L389.25,357.86L389.50,357.89L389.75,357.93L390.00,357.97L390.25,358.01L390.50,358.04L390.75,358.08L391.00,358.12L391.25,358.15L391.50,358.19L391.75,358.23L392.00,358.26L392.25,358.30L392.50,358.32L392.75,358.23L393.00,358.23L393.25,358.23L393.50,358.23L393.75,358.23L394.00,358.35L394.25,358.35L394.50,358.35L394.74,358.35L394.99,358.35L395.24,358.35L395.49,358.35L395.74,358.35L395.99,358.35L396.24,358.24L396.49,358.24L396.74,358.24L396.99,358.24L397.24,358.24L397.49,358.36L397.74,358.40L397.99,358.44L398.24,358.48L398.49,358.51L398.74,358.55L398.99,358.59L399.24,358.56L399.49,358.60L399.74,358.64L399.99,358.68L400.24,358.71L400.49,358.75L400.74,358.79L400.99,358.83L401.24,358.87L401.49,358.90L401.74,358.94L401.99,358.98L402.24,359.28L402.49,359.31L402.74,359.33L402.99,359.10L403.24,359.12L403.49,359.15L403.74,359.17L403.99,359.28L404.24,359.31L404.49,359.33L404.74,359.36L404.99,359.38L405.24,359.41L405.49,359.38L405.74,359.40L405.99,359.43L406.24,359.45L406.49,359.48L406.74,359.50L406.99,359.53L407.24,359.53L407.49,359.56L407.74,359.58L407.99,359.61L408.24,359.63L408.49,359.66L408.74,359.73L408.99,359.75L409.24,359.78L409.49,359.80L409.74,359.82L409.99,359.85L410.24,359.87L410.49,359.90L410.74,359.92L410.98,359.89L411.23,359.92L411.48,359.95L411.73,359.97L411.98,360.00L412.23,360.02L412.48,359.99L412.73,359.97L412.98,359.94L413.23,359.91L413.48,359.89L413.73,360.07L413.98,360.04L414.23,360.02L414.48,359.84L414.73,359.81L414.98,359.79L415.23,359.76L415.48,359.74L415.73,359.64L415.98,359.61L416.23,359.59L416.48,359.56L416.73,359.54L416.98,359.51L417.23,359.49L417.48,359.49L417.73,359.49L417.98,359.49L418.23,359.49L418.48,359.49L418.73,359.55L418.98,359.55L419.23,359.55L419.48,359.55L419.73,359.55L419.98,359.55L420.23,359.55L420.48,359.55L420.73,359.55L420.98,359.57L421.23,359.57L421.48,359.57L421.73,359.57L421.98,359.57L422.23,359.57L422.48,359.57L422.73,359.57L422.98,359.51L423.23,359.51L423.48,359.51L423.73,359.51L423.98,359.51L424.23,359.51L424.48,359.51L424.73,359.51L424.98,359.51L425.23,359.51L425.48,359.57L425.73,359.57L425.98,359.57L426.23,359.57L426.48,359.57L426.73,359.57L426.98,359.57L427.22,359.57L427.47,359.59L427.72,359.59L427.97,359.59L428.22,359.59L428.47,359.59L428.72,359.59L428.97,359.59L429.22,359.59L429.47,359.59L429.72,359.59L429.97,359.53L430.22,359.53L430.47,359.53L430.72,359.53L430.97,359.53L431.22,359.53L431.47,359.56L431.72,359.56L431.97,359.56L432.22,359.56L432.47,359.56L432.72,359.56L432.97,359.56L433.22,359.56L433.47,359.56L433.72,359.56L433.97,359.56L434.22,359.56L434.47,359.65L434.72,359.65L434.97,359.57L435.22,359.57L435.47,359.57L435.72,359.57L435.97,359.57L436.22,359.57L436.47,359.57L436.72,359.57L436.97,359.57L437.22,359.58L437.47,359.60L437.72,359.62L437.97,359.62L438.22,359.64L438.47,359.66L438.72,359.68L438.97,359.69L439.22,359.71L439.47,359.70L439.72,359.72L439.97,359.74L440.22,359.76L440.47,359.78L440.72,359.80L440.97,359.82L441.22,359.94L441.47,359.96L441.72,359.85L441.97,359.87L442.22,359.89L442.47,359.91L442.72,359.93L442.97,359.95L443.22,359.97L443.46,359.99L443.71,360.00L443.96,360.15L444.21,360.17L444.46,360.08L444.71,360.10L444.96,360.12L445.21,360.14L445.46,360.16L445.71,360.18L445.96,360.20L446.21,360.22L446.46,360.23L446.71,360.25L446.96,360.32L447.21,360.34L447.46,360.35L447.71,360.36L447.96,360.37L448.21,360.38L448.46,360.40L448.71,360.41L448.96,360.42L449.21,360.36L449.46,360.37L449.71,360.38L449.96,360.40L450.21,360.41L450.46,360.47L450.71,360.48L450.96,360.50L451.21,360.51L451.46,360.52L451.71,360.53L451.96,360.55L452.21,360.56L452.46,360.57L452.71,360.58L452.96,360.75L453.21,360.76L453.46,360.58L453.71,360.59L453.96,360.60L454.21,360.62L454.46,360.63L454.71,360.64L454.96,360.66L455.21,360.68L455.46,360.69L455.71,360.70L455.96,360.71L456.21,360.73L456.46,360.78L456.71,360.80L456.96,360.81L457.21,360.82L457.46,360.82L457.71,360.83L457.96,360.84L458.21,360.86L458.46,360.87L458.71,360.88L458.96,360.89L459.21,360.91L459.46,360.92L459.70,360.96L459.95,360.97L460.20,360.98L460.45,360.99L460.70,361.01L460.95,361.02L461.20,361.03L461.45,361.04L461.70,361.01L461.95,361.03L462.20,361.04L462.45,361.05L462.70,361.06L462.95,361.08L463.20,361.09L463.45,361.10L463.70,361.12L463.95,361.13L464.20,361.14L464.45,361.26L464.70,361.27L464.95,361.28L465.20,361.23L465.45,361.24L465.70,361.26L465.95,361.27L466.20,361.28L466.45,361.29L466.70,361.31L466.95,361.31L467.20,361.31L467.45,361.31L467.70,361.31L467.70,362.90Z" fill="#F0619A"/>
<path d="M20.60,565.30L20.60,437.62L21.10,437.62L21.60,437.62L22.10,438.14L22.60,447.98L23.10,447.98L23.60,464.56L24.10,436.06L24.60,434.51L25.11,439.17L25.61,439.17L26.11,442.28L26.61,441.76L27.11,442.80L27.61,461.45L28.11,464.56L28.61,466.63L29.11,443.32L29.61,442.28L30.11,441.76L30.61,441.76L31.11,454.20L31.61,455.23L32.11,454.72L32.61,454.20L33.11,449.53L33.62,449.02L34.12,452.13L34.62,463.52L35.12,452.13L35.62,451.61L36.12,451.09L36.62,452.13L37.12,470.78L37.62,469.74L38.12,474.92L38.62,457.31L39.12,456.79L39.62,456.79L40.12,457.31L40.62,456.27L41.12,456.79L41.63,454.72L42.13,454.20L42.63,454.20L43.13,455.23L43.63,466.63L44.13,465.60L44.63,462.49L45.13,462.49L45.63,455.75L46.13,455.23L46.63,456.27L47.13,474.92L47.63,475.96L48.13,480.10L48.63,480.10L49.13,461.45L49.63,460.93L50.14,464.04L50.64,464.56L51.14,465.60L51.64,470.78L52.14,472.85L52.64,472.33L53.14,471.81L53.64,472.85L54.14,484.25L54.64,479.07L55.14,457.31L55.64,456.79L56.14,456.27L56.64,456.79L57.14,457.31L57.64,467.67L58.14,475.96L58.65,481.14L59.15,467.67L59.65,469.74L60.15,469.74L60.65,484.77L61.15,486.32L61.65,484.77L62.15,488.62L62.65,489.65L63.15,488.10L63.65,489.14L64.15,505.20L64.65,505.20L65.15,509.34L65.65,520.74L66.15,521.26L66.65,521.26L67.16,521.26L67.66,521.26L68.16,521.26L68.66,521.26L69.16,521.26L69.66,521.26L70.16,520.74L70.66,520.74L71.16,521.26L71.66,521.26L72.16,520.74L72.66,520.74L73.16,522.30L73.66,522.30L74.16,520.22L74.66,520.22L75.17,519.19L75.67,519.19L76.17,520.22L76.67,520.22L77.17,521.78L77.67,521.78L78.17,515.04L78.67,515.04L79.17,514.52L79.67,514.52L80.17,514.52L80.67,514.01L81.17,514.01L81.67,513.49L82.17,513.49L82.67,513.49L83.17,513.49L83.68,513.49L84.18,513.49L84.68,514.01L85.18,514.01L85.68,514.01L86.18,514.52L86.68,514.52L87.18,506.23L87.68,498.98L88.18,497.94L88.68,497.94L89.18,498.98L89.68,498.98L90.18,505.20L90.68,507.27L91.18,515.56L91.68,515.56L92.19,515.56L92.69,513.49L93.19,507.27L93.69,503.13L94.19,503.13L94.69,500.53L95.19,500.53L95.69,499.50L96.19,499.50L96.69,501.57L97.19,501.57L97.69,503.13L98.19,503.13L98.69,504.16L99.19,504.16L99.69,502.09L100.19,502.09L100.70,504.16L101.20,509.34L101.70,509.34L102.20,512.45L102.70,515.56L103.20,503.13L103.70,495.87L104.20,495.35L104.70,495.35L105.20,496.91L105.70,496.91L106.20,502.09L106.70,502.09L107.20,503.13L107.70,503.13L108.20,503.64L108.71,503.64L109.21,503.64L109.71,504.16L110.21,504.16L110.71,506.23L111.21,506.23L111.71,509.34L112.21,513.49L112.71,502.09L113.21,497.94L113.71,497.94L114.21,497.94L114.71,497.94L115.21,499.50L115.71,499.50L116.21,499.50L116.71,499.50L117.22,499.50L117.72,499.76L118.22,499.76L118.72,499.76L119.22,502.91L119.72,502.91L120.22,506.06L120.72,507.12L121.22,509.22L121.72,509.22L122.22,513.42L122.72,502.91L123.22,501.33L123.72,502.39L124.22,503.96L124.72,513.42L125.22,518.68L125.73,518.68L126.23,519.20L126.73,519.20L127.23,519.73L127.73,519.73L128.23,520.78L128.73,520.78L129.23,524.98L129.73,525.51L130.23,526.03L130.73,526.03L131.23,526.03L131.73,526.03L132.23,527.09L132.73,527.09L133.23,525.51L133.73,522.88L134.24,520.78L134.74,509.22L135.24,509.22L135.74,508.69L136.24,510.79L136.74,512.90L137.24,512.90L137.74,513.42L138.24,512.90L138.74,512.90L139.24,513.95L139.74,516.05L140.24,517.10L140.74,515.00L141.24,515.00L141.74,513.42L142.25,513.42L142.75,511.32L143.25,511.32L143.75,511.32L144.25,510.79L144.75,510.79L145.25,510.79L145.75,510.79L146.25,511.85L146.75,511.85L147.25,516.57L147.75,516.57L148.25,516.05L148.75,513.42L149.25,513.42L149.75,513.95L150.25,517.10L150.76,515.00L151.26,515.00L151.76,512.90L152.26,512.90L152.76,511.85L153.26,511.85L153.76,512.90L154.26,512.90L154.76,512.90L155.26,512.37L155.76,512.37L156.26,513.95L156.76,513.95L157.26,516.57L157.76,517.10L158.26,520.78L158.76,526.03L159.27,526.03L159.77,526.56L160.27,526.56L160.77,526.03L161.27,526.03L161.77,520.78L162.27,516.57L162.77,516.57L163.27,516.57L163.77,517.10L164.27,517.10L164.77,517.10L165.27,517.63L165.77,518.68L166.27,530.24L166.77,530.24L167.27,531.29L167.78,531.29L168.28,531.82L168.78,531.82L169.28,530.24L169.78,525.51L170.28,525.51L170.78,523.93L171.28,523.41L171.78,523.41L172.28,523.93L172.78,523.93L173.28,525.51L173.78,525.51L174.28,527.09L174.78,528.66L175.28,528.66L175.79,528.66L176.29,529.71L176.79,529.71L177.29,531.29L177.79,531.29L178.29,532.34L178.79,533.92L179.29,534.44L179.79,531.29L180.29,531.29L180.79,528.66L181.29,528.66L181.79,528.14L182.29,529.19L182.79,532.34L183.29,533.39L183.79,531.82L184.30,529.71L184.80,528.66L185.30,528.66L185.80,530.24L186.30,534.44L186.80,535.49L187.30,535.49L187.80,536.55L188.30,538.65L188.30,565.30Z" fill="#FF82FF"/>
<path d="M20.60,565.30L20.60,448.65L21.10,448.65L21.60,449.17L22.10,449.17L22.60,464.20L23.10,464.20L23.60,474.56L24.10,474.56L24.60,450.73L25.11,450.73L25.61,453.83L26.11,453.83L26.61,454.87L27.11,473.52L27.61,473.52L28.11,474.56L28.61,474.56L29.11,454.87L29.61,454.87L30.11,455.39L30.61,455.39L31.11,461.09L31.61,461.09L32.11,461.09L32.61,461.09L33.11,462.12L33.62,462.12L34.12,464.20L34.62,464.20L35.12,465.23L35.62,465.23L36.12,473.52L36.62,473.52L37.12,478.70L37.62,478.70L38.12,478.70L38.62,469.38L39.12,469.38L39.62,468.86L40.12,468.86L40.62,467.31L41.12,467.31L41.63,465.75L42.13,465.75L42.63,466.27L43.13,466.27L43.63,467.31L44.13,467.31L44.63,468.34L45.13,468.34L45.63,467.82L46.13,467.82L46.63,474.56L47.13,474.92L47.63,480.78L48.13,480.78L48.63,480.10L49.13,476.63L49.63,478.70L50.14,478.70L50.64,479.74L51.14,479.74L51.64,482.85L52.14,482.85L52.64,482.85L53.14,483.89L53.64,483.89L54.14,484.25L54.64,480.78L55.14,470.41L55.64,470.41L56.14,469.90L56.64,469.90L57.14,470.41L57.64,470.41L58.14,477.67L58.65,481.14L59.15,478.70L59.65,478.70L60.15,485.96L60.65,485.96L61.15,488.03L61.65,488.03L62.15,488.62L62.65,504.51L63.15,504.51L63.65,508.14L64.15,508.14L64.65,508.14L65.15,519.02L65.65,520.74L66.15,521.26L66.65,521.26L67.16,521.26L67.66,521.26L68.16,522.41L68.66,522.41L69.16,522.41L69.66,522.41L70.16,522.41L70.66,523.01L71.16,523.01L71.66,523.01L72.16,523.01L72.66,523.01L73.16,523.62L73.66,523.62L74.16,523.62L74.66,523.62L75.17,523.62L75.67,523.62L76.17,523.62L76.67,520.22L77.17,521.78L77.67,521.78L78.17,519.02L78.67,519.02L79.17,519.02L79.67,519.02L80.17,519.02L80.67,519.02L81.17,519.02L81.67,519.02L82.17,519.02L82.67,519.63L83.17,519.63L83.68,519.63L84.18,519.63L84.68,519.63L85.18,519.63L85.68,519.63L86.18,519.63L86.68,514.52L87.18,506.93L87.68,506.93L88.18,506.93L88.68,506.93L89.18,507.53L89.68,507.53L90.18,507.53L90.68,516.60L91.18,516.60L91.68,515.56L92.19,515.56L92.69,513.49L93.19,507.27L93.69,506.93L94.19,506.32L94.69,506.32L95.19,506.32L95.69,506.32L96.19,507.53L96.69,507.53L97.19,507.53L97.69,507.53L98.19,509.95L98.69,509.95L99.19,509.95L99.69,512.37L100.19,512.37L100.70,512.37L101.20,516.00L101.70,516.00L102.20,516.00L102.70,515.56L103.20,506.93L103.70,505.72L104.20,505.72L104.70,505.72L105.20,506.32L105.70,506.32L106.20,506.32L106.70,506.32L107.20,506.93L107.70,506.93L108.20,506.93L108.71,508.14L109.21,508.14L109.71,508.14L110.21,511.16L110.71,511.16L111.21,511.16L111.71,514.18L112.21,514.18L112.71,506.32L113.21,506.32L113.71,506.32L114.21,505.72L114.71,505.72L115.21,505.72L115.71,505.72L116.21,506.32L116.71,506.32L117.22,506.32L117.72,506.32L118.22,506.93L118.72,506.93L119.22,506.93L119.72,506.93L120.22,508.14L120.72,508.14L121.22,512.37L121.72,512.37L122.22,513.42L122.72,509.35L123.22,509.35L123.72,506.93L124.22,506.93L124.72,517.81L125.22,518.68L125.73,518.68L126.23,520.23L126.73,520.23L127.23,519.73L127.73,519.73L128.23,521.18L128.73,521.18L129.23,526.02L129.73,526.02L130.23,526.03L130.73,526.03L131.23,527.23L131.73,527.23L132.23,527.23L132.73,527.23L133.23,525.51L133.73,524.81L134.24,520.78L134.74,517.56L135.24,517.56L135.74,515.14L136.24,515.14L136.74,516.95L137.24,516.95L137.74,516.95L138.24,518.16L138.74,518.16L139.24,518.16L139.74,518.16L140.24,517.56L140.74,517.56L141.24,517.56L141.74,517.56L142.25,518.16L142.75,518.16L143.25,518.16L143.75,518.16L144.25,517.56L144.75,517.56L145.25,517.56L145.75,517.56L146.25,518.77L146.75,518.77L147.25,518.77L147.75,518.77L148.25,518.77L148.75,518.77L149.25,518.77L149.75,518.77L150.25,518.77L150.76,518.16L151.26,518.16L151.76,518.16L152.26,518.16L152.76,518.16L153.26,518.16L153.76,518.16L154.26,518.16L154.76,518.16L155.26,518.16L155.76,518.16L156.26,518.16L156.76,518.16L157.26,518.77L157.76,518.77L158.26,522.39L158.76,526.03L159.27,529.65L159.77,529.65L160.27,529.65L160.77,527.23L161.27,527.23L161.77,520.78L162.27,519.97L162.77,519.97L163.27,519.97L163.77,519.97L164.27,519.97L164.77,519.97L165.27,519.97L165.77,519.97L166.27,530.24L166.77,530.86L167.27,531.29L167.78,532.07L168.28,532.07L168.78,532.07L169.28,530.24L169.78,525.51L170.28,525.51L170.78,525.42L171.28,526.02L171.78,526.02L172.28,526.02L172.78,527.83L173.28,527.83L173.78,527.83L174.28,530.25L174.78,530.25L175.28,532.07L175.79,532.07L176.29,532.07L176.79,532.07L177.29,533.28L177.79,533.28L178.29,533.28L178.79,533.92L179.29,534.44L179.79,534.48L180.29,534.48L180.79,534.48L181.29,529.65L181.79,529.65L182.29,529.65L182.79,536.90L183.29,536.90L183.79,533.28L184.30,533.28L184.80,533.28L185.30,529.65L185.80,530.24L186.30,536.90L186.80,536.90L187.30,537.51L187.80,537.51L188.30,538.65L188.30,565.30Z" fill="#C53A9C"/>
<path d="M20.60,565.30L20.60,499.04L21.10,499.04L21.60,499.04L22.10,499.04L22.60,499.04L23.10,499.04L23.60,499.04L24.10,499.04L24.60,499.04L25.11,499.56L25.61,499.56L26.11,499.56L26.61,499.56L27.11,499.56L27.61,499.56L28.11,501.11L28.61,501.11L29.11,501.11L29.61,501.11L30.11,505.78L30.61,505.78L31.11,505.78L31.61,505.78L32.11,507.33L32.61,507.33L33.11,507.33L33.62,507.33L34.12,507.33L34.62,507.33L35.12,507.85L35.62,507.85L36.12,507.85L36.62,507.85L37.12,507.85L37.62,507.85L38.12,507.85L38.62,507.85L39.12,507.85L39.62,507.85L40.12,507.85L40.62,507.85L41.12,507.85L41.63,508.89L42.13,508.89L42.63,508.89L43.13,508.89L43.63,508.89L44.13,507.85L44.63,507.85L45.13,507.85L45.63,507.85L46.13,507.85L46.63,507.85L47.13,507.85L47.63,508.37L48.13,508.37L48.63,508.37L49.13,508.37L49.63,508.37L50.14,508.37L50.64,513.03L51.14,513.03L51.64,508.37L52.14,508.37L52.64,508.37L53.14,507.33L53.64,507.33L54.14,507.33L54.64,507.33L55.14,507.33L55.64,507.33L56.14,507.33L56.64,507.33L57.14,507.33L57.64,507.33L58.14,507.33L58.65,508.89L59.15,508.89L59.65,515.00L60.15,518.42L60.65,518.42L61.15,518.42L61.65,519.02L62.15,519.02L62.65,519.02L63.15,519.02L63.65,519.63L64.15,519.63L64.65,519.63L65.15,519.63L65.65,520.74L66.15,521.26L66.65,521.26L67.16,521.26L67.66,521.26L68.16,522.41L68.66,522.41L69.16,522.41L69.66,522.41L70.16,522.41L70.66,523.86L71.16,523.86L71.66,523.86L72.16,523.86L72.66,523.86L73.16,525.07L73.66,525.07L74.16,525.07L74.66,525.07L75.17,525.07L75.67,525.07L76.17,525.07L76.67,525.67L77.17,525.67L77.67,525.67L78.17,525.67L78.67,525.67L79.17,525.67L79.67,525.67L80.17,526.28L80.67,526.28L81.17,526.28L81.67,526.28L82.17,526.28L82.67,526.28L83.17,526.28L83.68,526.28L84.18,526.28L84.68,526.28L85.18,526.28L85.68,526.28L86.18,526.28L86.68,525.07L87.18,525.07L87.68,525.07L88.18,523.86L88.68,523.86L89.18,526.28L89.68,526.28L90.18,528.09L90.68,528.09L91.18,528.09L91.68,528.09L92.19,528.09L92.69,528.09L93.19,528.09L93.69,528.09L94.19,528.09L94.69,528.09L95.19,528.69L95.69,528.69L96.19,528.69L96.69,528.69L97.19,528.69L97.69,529.30L98.19,529.30L98.69,529.30L99.19,529.30L99.69,528.09L100.19,528.09L100.70,528.09L101.20,528.09L101.70,528.09L102.20,527.48L102.70,527.48L103.20,527.48L103.70,527.48L104.20,527.48L104.70,527.48L105.20,526.88L105.70,526.88L106.20,526.88L106.70,526.88L107.20,527.48L107.70,527.48L108.20,527.48L108.71,527.48L109.21,527.48L109.71,528.09L110.21,528.09L110.71,528.09L111.21,528.09L111.71,528.09L112.21,526.88L112.71,526.88L113.21,526.88L113.71,526.88L114.21,526.88L114.71,526.28L115.21,526.28L115.71,526.28L116.21,526.28L116.71,526.28L117.22,526.28L117.72,526.28L118.22,526.28L118.72,526.28L119.22,526.28L119.72,526.88L120.22,526.88L120.72,526.88L121.22,526.88L121.72,528.09L122.22,528.09L122.72,528.09L123.22,528.09L123.72,528.09L124.22,529.90L124.72,529.90L125.22,529.90L125.73,529.90L126.23,529.90L126.73,529.90L127.23,530.86L127.73,530.86L128.23,530.86L128.73,530.86L129.23,535.09L129.73,535.09L130.23,535.09L130.73,535.09L131.23,535.69L131.73,535.69L132.23,535.69L132.73,535.69L133.23,533.88L133.73,533.88L134.24,533.88L134.74,533.88L135.24,533.88L135.74,532.67L136.24,532.67L136.74,532.67L137.24,532.67L137.74,532.67L138.24,532.67L138.74,531.46L139.24,531.46L139.74,531.46L140.24,531.46L140.74,530.25L141.24,530.25L141.74,530.25L142.25,530.25L142.75,530.25L143.25,530.25L143.75,530.25L144.25,530.25L144.75,530.25L145.25,530.25L145.75,530.25L146.25,530.25L146.75,530.25L147.25,530.25L147.75,529.65L148.25,529.65L148.75,529.65L149.25,529.65L149.75,529.65L150.25,529.65L150.76,529.65L151.26,529.65L151.76,529.65L152.26,529.65L152.76,529.65L153.26,529.65L153.76,529.65L154.26,529.65L154.76,529.65L155.26,529.65L155.76,529.65L156.26,530.25L156.76,530.25L157.26,530.25L157.76,530.25L158.26,534.48L158.76,534.48L159.27,537.51L159.77,537.51L160.27,537.51L160.77,537.51L161.27,537.51L161.77,532.07L162.27,532.07L162.77,532.07L163.27,532.07L163.77,532.07L164.27,532.07L164.77,532.07L165.27,532.07L165.77,532.07L166.27,532.07L166.77,538.11L167.27,538.11L167.78,538.72L168.28,538.72L168.78,538.72L169.28,533.28L169.78,533.28L170.28,533.28L170.78,533.28L171.28,533.28L171.78,533.28L172.28,533.88L172.78,533.88L173.28,533.88L173.78,533.88L174.28,533.88L174.78,535.09L175.28,535.09L175.79,535.09L176.29,535.09L176.79,535.09L177.29,535.69L177.79,535.69L178.29,535.69L178.79,535.69L179.29,535.69L179.79,536.30L180.29,536.30L180.79,536.30L181.29,536.30L181.79,536.90L182.29,536.90L182.79,540.53L183.29,540.53L183.79,538.72L184.30,538.72L184.80,538.72L185.30,538.72L185.80,538.72L186.30,539.32L186.80,539.32L187.30,539.32L187.80,539.93L188.30,539.93L188.30,565.30Z" fill="#E4E689"/>
<path d="M305.30,565.30L305.30,459.50L305.55,459.47L305.80,459.44L306.05,452.84L306.30,452.80L306.55,452.76L306.80,455.67L307.05,455.63L307.30,455.59L307.55,469.00L307.80,468.99L308.05,468.98L308.30,467.13L308.55,467.11L308.80,467.10L309.05,452.92L309.30,452.88L309.55,452.84L309.80,474.37L310.05,474.37L310.30,474.37L310.55,453.99L310.80,453.95L311.05,453.91L311.30,454.48L311.55,454.44L311.80,454.40L312.05,462.68L312.30,462.66L312.55,462.64L312.80,466.80L313.05,466.79L313.30,466.77L313.54,467.39L313.79,467.38L314.04,467.36L314.29,467.95L314.54,467.94L314.79,467.93L315.04,463.01L315.29,462.99L315.54,462.97L315.79,461.40L316.04,461.38L316.29,461.38L316.54,460.11L316.79,460.11L317.04,460.11L317.29,448.62L317.54,448.62L317.79,448.62L318.04,453.89L318.29,453.89L318.54,453.89L318.79,458.32L319.04,458.32L319.29,458.32L319.54,448.79L319.79,448.79L320.04,448.79L320.29,468.90L320.54,468.90L320.79,468.90L321.04,470.33L321.29,470.33L321.54,470.33L321.79,458.57L322.04,458.57L322.29,458.57L322.54,473.36L322.79,473.36L323.04,473.36L323.29,473.57L323.54,473.57L323.79,473.57L324.04,461.11L324.29,461.11L324.54,461.11L324.79,462.38L325.04,462.34L325.29,462.07L325.54,449.50L325.79,448.83L326.04,448.11L326.29,453.99L326.54,452.92L326.79,452.55L327.04,454.80L327.29,454.50L327.54,454.20L327.79,454.33L328.04,454.06L328.29,453.96L328.54,460.20L328.79,460.15L329.04,460.10L329.29,466.19L329.54,466.19L329.78,466.19L330.03,461.36L330.28,461.32L330.53,461.28L330.78,447.59L331.03,447.45L331.28,447.31L331.53,460.89L331.78,460.85L332.03,460.81L332.28,455.94L332.53,455.87L332.78,455.79L333.03,466.39L333.28,466.39L333.53,466.39L333.78,441.75L334.03,441.59L334.28,441.50L334.53,461.83L334.78,461.82L335.03,461.80L335.28,458.33L335.53,458.30L335.78,458.27L336.03,439.35L336.28,439.25L336.53,439.16L336.78,450.62L337.03,450.56L337.28,450.51L337.53,439.84L337.78,439.75L338.03,439.66L338.28,446.17L338.53,446.10L338.78,446.03L339.03,442.69L339.28,442.62L339.53,442.54L339.78,463.53L340.03,463.53L340.28,463.55L340.53,449.14L340.78,449.25L341.03,449.36L341.28,450.51L341.53,450.62L341.78,450.72L342.03,439.59L342.28,439.76L342.53,439.94L342.78,455.56L343.03,455.63L343.28,455.70L343.53,448.74L343.78,448.86L344.03,448.98L344.28,464.78L344.53,464.79L344.78,464.80L345.03,455.45L345.28,455.53L345.53,455.61L345.78,457.49L346.02,457.55L346.27,457.62L346.52,462.40L346.77,462.43L347.02,506.40L347.27,506.40L347.52,506.40L347.77,506.40L348.02,506.40L348.27,506.40L348.52,506.40L348.77,506.40L349.02,506.40L349.27,506.40L349.52,506.40L349.77,506.40L350.02,506.65L350.27,506.65L350.52,506.65L350.77,506.65L351.02,506.65L351.27,506.65L351.52,506.65L351.77,506.65L352.02,506.65L352.27,506.65L352.52,506.65L352.77,506.65L353.02,506.65L353.27,493.53L353.52,493.53L353.77,493.53L354.02,493.53L354.27,493.53L354.52,493.53L354.77,493.53L355.02,485.94L355.27,485.94L355.52,485.94L355.77,485.94L356.02,485.94L356.27,485.94L356.52,485.94L356.77,492.84L357.02,492.84L357.27,492.84L357.52,492.84L357.77,474.20L358.02,474.20L358.27,474.20L358.52,474.20L358.77,474.20L359.02,474.20L359.27,473.51L359.52,473.51L359.77,473.51L360.02,473.51L360.27,473.51L360.52,485.94L360.77,485.94L361.02,485.94L361.27,485.94L361.52,485.94L361.77,485.94L362.02,485.94L362.26,455.55L362.51,455.55L362.76,455.55L363.01,455.55L363.26,455.55L363.51,455.55L363.76,455.55L364.01,451.41L364.26,451.41L364.51,451.41L364.76,451.41L365.01,451.41L365.26,445.88L365.51,445.88L365.76,445.88L366.01,445.88L366.26,445.88L366.51,445.88L366.76,446.57L367.01,446.57L367.26,446.57L367.51,446.57L367.76,461.07L368.01,461.07L368.26,461.07L368.51,461.07L368.76,462.46L369.01,462.46L369.26,462.46L369.51,462.46L369.76,462.46L370.01,462.46L370.26,472.12L370.51,472.12L370.76,472.12L371.01,472.12L371.26,473.51L371.51,473.51L371.76,473.51L372.01,473.51L372.26,490.08L372.51,490.08L372.76,490.08L373.01,490.08L373.26,496.99L373.51,496.99L373.76,496.99L374.01,491.46L374.26,491.46L374.51,491.46L374.76,491.46L375.01,498.37L375.26,498.37L375.51,498.37L375.76,498.37L376.01,498.37L376.26,490.08L376.51,490.08L376.76,490.08L377.01,490.08L377.26,490.08L377.51,490.08L377.76,489.39L378.01,489.39L378.26,489.39L378.50,489.39L378.75,489.39L379.00,489.39L379.25,487.32L379.50,487.32L379.75,487.32L380.00,487.32L380.25,496.99L380.50,496.99L380.75,496.99L381.00,496.99L381.25,496.99L381.50,469.36L381.75,469.36L382.00,469.36L382.25,469.36L382.50,469.36L382.75,469.36L383.00,468.67L383.25,468.67L383.50,468.67L383.75,468.67L384.00,468.67L384.25,468.67L384.50,468.67L384.75,465.22L385.00,465.22L385.25,465.22L385.50,465.22L385.75,465.22L386.00,465.22L386.25,465.91L386.50,465.91L386.75,465.91L387.00,465.91L387.25,465.91L387.50,470.74L387.75,470.74L388.00,470.74L388.25,470.74L388.50,470.74L388.75,481.79L389.00,481.79L389.25,481.79L389.50,481.79L389.75,481.79L390.00,481.79L390.25,481.79L390.50,481.79L390.75,481.79L391.00,481.79L391.25,481.79L391.50,466.60L391.75,466.60L392.00,466.60L392.25,466.60L392.50,466.60L392.75,466.60L393.00,466.60L393.25,467.29L393.50,467.29L393.75,467.29L394.00,467.29L394.25,467.29L394.50,467.29L394.74,467.29L394.99,468.67L395.24,468.67L395.49,468.67L395.74,468.67L395.99,468.67L396.24,468.67L396.49,484.56L396.74,484.56L396.99,484.56L397.24,484.56L397.49,484.56L397.74,477.65L397.99,477.65L398.24,477.65L398.49,477.65L398.74,477.65L398.99,477.65L399.24,479.03L399.49,479.03L399.74,479.03L399.99,479.03L400.24,479.03L400.49,480.41L400.74,480.41L400.99,480.41L401.24,480.41L401.49,480.41L401.74,480.41L401.99,480.41L402.24,481.10L402.49,481.10L402.74,481.10L402.99,481.10L403.24,481.10L403.49,481.10L403.74,481.10L403.99,481.10L404.24,481.10L404.49,481.10L404.74,481.10L404.99,481.10L405.24,481.10L405.49,481.10L405.74,481.10L405.99,488.70L406.24,488.70L406.49,488.70L406.74,488.70L406.99,488.70L407.24,489.27L407.49,489.27L407.74,489.27L407.99,489.27L408.24,489.27L408.49,482.02L408.74,482.02L408.99,482.02L409.24,482.02L409.49,482.02L409.74,482.02L409.99,486.25L410.24,486.25L410.49,486.25L410.74,486.25L410.98,486.25L411.23,486.25L411.48,486.25L411.73,486.25L411.98,486.25L412.23,486.25L412.48,486.25L412.73,486.25L412.98,486.25L413.23,485.64L413.48,485.64L413.73,485.64L413.98,485.64L414.23,485.64L414.48,485.64L414.73,485.64L414.98,487.46L415.23,487.46L415.48,487.46L415.73,487.46L415.98,487.46L416.23,487.46L416.48,480.81L416.73,480.81L416.98,480.81L417.23,480.81L417.48,480.81L417.73,488.66L417.98,488.66L418.23,488.66L418.48,488.66L418.73,488.66L418.98,489.27L419.23,489.27L419.48,489.27L419.73,489.27L419.98,489.27L420.23,493.50L420.48,493.50L420.73,493.50L420.98,493.50L421.23,493.50L421.48,491.08L421.73,491.08L421.98,491.08L422.23,491.08L422.48,491.08L422.73,485.04L422.98,485.04L423.23,485.04L423.48,485.04L423.73,485.04L423.98,485.04L424.23,477.79L424.48,477.79L424.73,477.79L424.98,477.79L425.23,477.79L425.48,477.79L425.73,479.60L425.98,479.60L426.23,479.60L426.48,479.60L426.73,479.60L426.98,480.21L427.22,480.21L427.47,480.21L427.72,480.21L427.97,491.08L428.22,491.08L428.47,491.08L428.72,491.08L428.97,491.08L429.22,489.27L429.47,489.27L429.72,489.27L429.97,489.27L430.22,489.27L430.47,489.27L430.72,483.83L430.97,483.83L431.22,483.83L431.47,483.83L431.72,483.83L431.97,483.83L432.22,483.83L432.47,481.41L432.72,481.41L432.97,481.41L433.22,481.41L433.47,481.41L433.72,481.41L433.97,482.62L434.22,482.62L434.47,482.62L434.72,482.62L434.97,482.62L435.22,482.62L435.47,485.04L435.72,485.04L435.97,485.04L436.22,485.04L436.47,485.04L436.72,485.04L436.97,489.27L437.22,489.27L437.47,489.27L437.72,489.27L437.97,489.27L438.22,489.27L438.47,489.27L438.72,492.29L438.97,492.29L439.22,492.29L439.47,492.29L439.72,492.29L439.97,492.29L440.22,489.87L440.47,489.87L440.72,489.87L440.97,489.87L441.22,489.87L441.47,485.04L441.72,485.04L441.97,485.04L442.22,485.04L442.47,485.04L442.72,485.04L442.97,484.43L443.22,484.43L443.46,484.43L443.71,484.43L443.96,484.43L444.21,484.43L444.46,484.43L444.71,483.23L444.96,483.23L445.21,483.23L445.46,483.23L445.71,483.23L445.96,483.23L446.21,488.66L446.46,488.66L446.71,488.66L446.96,488.66L447.21,488.66L447.46,495.91L447.71,495.91L447.96,495.91L448.21,495.91L448.46,500.75L448.71,500.75L448.96,500.75L449.21,510.41L449.46,510.41L449.71,510.41L449.96,504.37L450.21,504.37L450.46,504.37L450.71,504.37L450.96,500.75L451.21,500.75L451.46,500.75L451.71,500.75L451.96,500.75L452.21,504.37L452.46,504.37L452.71,504.37L452.96,504.37L453.21,504.37L453.46,505.58L453.71,505.58L453.96,505.58L454.21,505.58L454.46,505.58L454.71,505.58L454.96,509.81L455.21,509.81L455.46,509.81L455.71,509.81L455.96,509.81L456.21,509.81L456.46,509.81L456.71,510.41L456.96,510.41L457.21,510.41L457.46,510.41L457.71,510.41L457.96,510.41L458.21,507.99L458.46,507.99L458.71,507.99L458.96,507.99L459.21,507.99L459.46,505.58L459.70,505.58L459.95,505.58L460.20,505.58L460.45,505.58L460.70,507.39L460.95,507.39L461.20,507.39L461.45,507.39L461.70,507.39L461.95,505.58L462.20,505.58L462.45,505.58L462.70,505.58L462.95,505.58L463.20,499.54L463.45,499.54L463.70,499.54L463.95,499.54L464.20,497.12L464.45,497.12L464.70,497.12L464.95,500.75L465.20,500.75L465.45,500.75L465.70,500.75L465.95,500.75L466.20,506.18L466.45,506.18L466.70,506.18L466.95,506.18L467.20,506.79L467.45,506.79L467.70,506.79L467.70,565.30Z" fill="#FF82FF"/>
<path d="M305.30,565.30L305.30,480.93L305.55,480.97L305.80,481.12L306.05,481.27L306.30,481.43L306.55,481.58L306.80,483.27L307.05,483.42L307.30,483.57L307.55,483.72L307.80,483.87L308.05,484.02L308.30,484.13L308.55,484.24L308.80,484.87L309.05,484.98L309.30,485.08L309.55,491.50L309.80,491.60L310.05,491.70L310.30,484.79L310.55,484.90L310.80,485.01L311.05,485.12L311.30,485.23L311.55,484.66L311.80,484.77L312.05,484.88L312.30,484.99L312.55,485.10L312.80,485.21L313.05,485.44L313.30,485.67L313.54,494.30L313.79,494.51L314.04,494.72L314.29,488.76L314.54,488.99L314.79,489.21L315.04,489.44L315.29,489.66L315.54,493.91L315.79,494.12L316.04,494.32L316.29,494.46L316.54,490.96L316.79,491.11L317.04,491.25L317.29,491.40L317.54,491.55L317.79,494.98L318.04,495.12L318.29,491.39L318.54,491.54L318.79,491.69L319.04,491.84L319.29,491.99L319.54,492.14L319.79,491.78L320.04,491.93L320.29,492.08L320.54,492.23L320.79,492.38L321.04,492.53L321.29,492.68L321.54,498.89L321.79,498.91L322.04,498.93L322.29,493.35L322.54,493.37L322.79,493.39L323.04,493.41L323.29,493.44L323.54,493.46L323.79,499.89L324.04,499.91L324.29,499.93L324.54,492.61L324.79,492.63L325.04,492.65L325.29,492.68L325.54,492.70L325.79,492.72L326.04,493.89L326.29,493.91L326.54,493.93L326.79,493.96L327.04,493.98L327.29,500.18L327.54,500.20L327.79,500.22L328.04,493.72L328.29,493.74L328.54,493.77L328.79,493.79L329.04,493.81L329.29,493.84L329.54,499.41L329.78,499.43L330.03,493.90L330.28,493.92L330.53,493.95L330.78,493.97L331.03,499.64L331.28,499.67L331.53,499.69L331.78,499.71L332.03,493.59L332.28,493.62L332.53,493.65L332.78,493.67L333.03,493.70L333.28,493.72L333.53,497.70L333.78,497.72L334.03,497.75L334.28,497.77L334.53,494.34L334.78,494.37L335.03,494.39L335.28,494.42L335.53,494.44L335.78,494.47L336.03,498.66L336.28,498.68L336.53,495.48L336.78,495.51L337.03,495.53L337.28,495.56L337.53,495.58L337.78,495.61L338.03,495.63L338.28,499.29L338.53,499.32L338.78,499.34L339.03,495.48L339.28,495.57L339.53,495.66L339.78,495.75L340.03,495.84L340.28,494.04L340.53,494.14L340.78,494.23L341.03,494.33L341.28,494.42L341.53,494.51L341.78,494.61L342.03,494.70L342.28,496.17L342.53,496.26L342.78,496.35L343.03,496.44L343.28,496.54L343.53,496.63L343.78,496.72L344.03,500.52L344.28,500.61L344.53,500.69L344.78,495.82L345.03,495.91L345.28,496.01L345.53,496.10L345.78,501.53L346.02,501.70L346.27,502.61L346.52,499.62L346.77,500.59L347.02,506.40L347.27,506.40L347.52,506.40L347.77,506.40L348.02,506.40L348.27,506.40L348.52,506.40L348.77,506.40L349.02,506.40L349.27,506.40L349.52,506.40L349.77,506.40L350.02,506.65L350.27,506.65L350.52,506.65L350.77,506.65L351.02,506.65L351.27,506.65L351.52,506.65L351.77,506.65L352.02,506.65L352.27,506.65L352.52,506.65L352.77,506.65L353.02,506.65L353.27,506.16L353.52,506.16L353.77,506.16L354.02,506.16L354.27,506.16L354.52,506.16L354.77,506.16L355.02,506.16L355.27,506.16L355.52,508.27L355.77,508.27L356.02,507.38L356.27,507.38L356.52,507.38L356.77,507.38L357.02,507.38L357.27,507.38L357.52,507.38L357.77,509.39L358.02,509.39L358.27,505.93L358.52,505.93L358.77,505.93L359.02,505.93L359.27,506.91L359.52,506.91L359.77,506.91L360.02,506.91L360.27,506.91L360.52,506.91L360.77,506.91L361.02,506.91L361.27,506.91L361.52,506.91L361.77,506.91L362.02,506.83L362.26,506.83L362.51,506.83L362.76,505.93L363.01,504.79L363.26,503.65L363.51,502.51L363.76,501.37L364.01,501.17L364.26,501.18L364.51,501.19L364.76,503.32L365.01,503.33L365.26,502.47L365.51,502.48L365.76,502.49L366.01,502.50L366.26,502.51L366.51,500.93L366.76,500.94L367.01,500.95L367.26,500.96L367.51,500.97L367.76,500.98L368.01,500.99L368.26,501.00L368.51,501.38L368.76,501.39L369.01,501.40L369.26,501.41L369.51,501.42L369.76,501.43L370.01,501.44L370.26,501.48L370.51,501.53L370.76,501.16L371.01,501.21L371.26,501.26L371.51,501.31L371.76,501.36L372.01,501.41L372.26,501.46L372.51,505.33L372.76,505.38L373.01,502.22L373.26,502.27L373.51,502.32L373.76,502.37L374.01,502.42L374.26,502.47L374.51,502.52L374.76,502.57L375.01,502.62L375.26,502.75L375.51,504.46L375.76,504.58L376.01,504.70L376.26,502.06L376.51,502.19L376.76,502.32L377.01,502.44L377.26,502.57L377.51,502.69L377.76,504.20L378.01,504.32L378.26,504.44L378.50,504.57L378.75,504.69L379.00,504.81L379.25,504.94L379.50,505.06L379.75,505.18L380.00,505.25L380.25,504.47L380.50,504.37L380.75,504.27L381.00,504.17L381.25,504.07L381.50,503.97L381.75,503.87L382.00,503.77L382.25,502.88L382.50,502.78L382.75,502.68L383.00,502.58L383.25,502.48L383.50,502.38L383.75,502.28L384.00,502.17L384.25,503.99L384.50,503.90L384.75,503.80L385.00,503.72L385.25,503.67L385.50,503.62L385.75,503.57L386.00,501.37L386.25,501.32L386.50,501.27L386.75,501.22L387.00,501.17L387.25,501.12L387.50,501.07L387.75,501.02L388.00,502.11L388.25,502.06L388.50,502.02L388.75,501.97L389.00,501.04L389.25,500.99L389.50,500.93L389.75,500.88L390.00,500.81L390.25,500.71L390.50,500.61L390.75,500.51L391.00,501.24L391.25,501.14L391.50,501.04L391.75,500.94L392.00,500.84L392.25,503.64L392.50,503.55L392.75,500.16L393.00,500.06L393.25,499.96L393.50,499.86L393.75,499.76L394.00,499.66L394.25,499.56L394.50,499.46L394.74,499.36L394.99,499.35L395.24,498.88L395.49,498.92L395.74,498.96L395.99,499.00L396.24,499.04L396.49,499.07L396.74,499.11L396.99,499.15L397.24,499.19L397.49,499.23L397.74,499.26L397.99,499.30L398.24,500.71L398.49,500.74L398.74,500.78L398.99,500.82L399.24,500.85L399.49,500.89L399.74,500.93L399.99,500.98L400.24,501.05L400.49,501.11L400.74,499.69L400.99,499.75L401.24,499.81L401.49,499.88L401.74,499.94L401.99,500.00L402.24,500.06L402.49,500.13L402.74,500.19L402.99,501.57L403.24,501.63L403.49,501.70L403.74,501.76L403.99,501.82L404.24,501.18L404.49,501.24L404.74,501.31L404.99,501.33L405.24,501.36L405.49,501.38L405.74,501.41L405.99,501.43L406.24,501.46L406.49,501.48L406.74,501.51L406.99,501.48L407.24,501.50L407.49,501.53L407.74,501.55L407.99,501.58L408.24,501.60L408.49,501.63L408.74,501.65L408.99,501.68L409.24,501.70L409.49,501.50L409.74,501.54L409.99,501.79L410.24,502.04L410.49,502.29L410.74,502.54L410.98,502.79L411.23,503.05L411.48,503.30L411.73,504.05L411.98,504.29L412.23,504.51L412.48,504.38L412.73,504.26L412.98,504.13L413.23,504.01L413.48,503.88L413.73,503.76L413.98,503.63L414.23,503.51L414.48,506.74L414.73,506.62L414.98,506.50L415.23,503.41L415.48,503.29L415.73,503.16L415.98,503.04L416.23,502.91L416.48,502.79L416.73,502.67L416.98,504.36L417.23,504.28L417.48,504.34L417.73,503.83L417.98,503.89L418.23,503.95L418.48,504.01L418.73,504.07L418.98,503.47L419.23,503.53L419.48,503.59L419.73,503.65L419.98,503.71L420.23,503.77L420.48,503.84L420.73,503.90L420.98,503.96L421.23,504.02L421.48,502.16L421.73,502.22L421.98,502.29L422.23,502.33L422.48,502.33L422.73,503.36L422.98,503.36L423.23,503.36L423.48,503.36L423.73,503.36L423.98,502.72L424.23,502.72L424.48,502.72L424.73,502.72L424.98,502.72L425.23,502.60L425.48,502.60L425.73,502.60L425.98,502.60L426.23,502.60L426.48,502.60L426.73,502.60L426.98,502.60L427.22,502.60L427.47,502.60L427.72,503.12L427.97,503.12L428.22,503.12L428.47,503.12L428.72,503.12L428.97,503.12L429.22,503.12L429.47,503.12L429.72,503.12L429.97,503.12L430.22,503.12L430.47,503.01L430.72,503.01L430.97,503.01L431.22,503.01L431.47,503.01L431.72,506.99L431.97,506.99L432.22,506.97L432.47,506.94L432.72,503.07L432.97,503.04L433.22,503.00L433.47,502.96L433.72,502.92L433.97,502.89L434.22,502.85L434.47,502.81L434.72,502.77L434.97,503.22L435.22,503.19L435.47,503.15L435.72,503.11L435.97,503.07L436.22,503.04L436.47,505.93L436.72,505.89L436.97,502.80L437.22,502.81L437.47,502.84L437.72,502.86L437.97,502.89L438.22,502.91L438.47,502.94L438.72,502.96L438.97,502.98L439.22,504.81L439.47,504.83L439.72,501.94L439.97,501.96L440.22,501.99L440.47,502.01L440.72,502.04L440.97,502.06L441.22,502.09L441.47,502.11L441.72,502.14L441.97,502.16L442.22,502.75L442.47,502.78L442.72,502.80L442.97,502.83L443.22,502.51L443.46,502.53L443.71,502.56L443.96,502.58L444.21,502.61L444.46,502.63L444.71,502.71L444.96,502.80L445.21,502.62L445.46,502.70L445.71,502.79L445.96,502.87L446.21,502.96L446.46,503.04L446.71,503.13L446.96,503.21L447.21,503.30L447.46,503.38L447.71,503.57L447.96,503.66L448.21,503.78L448.46,504.54L448.71,505.30L448.96,506.06L449.21,510.41L449.46,510.41L449.71,510.41L449.96,507.64L450.21,507.70L450.46,507.76L450.71,508.76L450.96,508.83L451.21,508.89L451.46,508.95L451.71,509.01L451.96,509.07L452.21,509.14L452.46,509.62L452.71,509.68L452.96,509.74L453.21,509.81L453.46,509.87L453.71,509.93L453.96,509.99L454.21,510.05L454.46,510.12L454.71,512.78L454.96,512.87L455.21,509.81L455.46,509.84L455.71,509.94L455.96,510.04L456.21,510.14L456.46,510.24L456.71,510.41L456.96,511.26L457.21,511.35L457.46,511.45L457.71,511.55L457.96,511.65L458.21,511.75L458.46,511.85L458.71,511.94L458.96,512.04L459.21,512.14L459.46,511.46L459.70,511.59L459.95,511.71L460.20,511.84L460.45,511.96L460.70,512.09L460.95,514.79L461.20,514.90L461.45,515.02L461.70,515.14L461.95,512.80L462.20,512.93L462.45,513.05L462.70,513.18L462.95,513.30L463.20,513.43L463.45,513.55L463.70,514.25L463.95,514.37L464.20,514.50L464.45,514.73L464.70,515.07L464.95,515.42L465.20,515.76L465.45,514.98L465.70,515.34L465.95,515.69L466.20,516.04L466.45,516.40L466.70,516.75L466.95,516.91L467.20,517.93L467.45,517.93L467.70,517.93L467.70,565.30Z" fill="#C53A9C"/>
<path d="M305.30,565.30L305.30,494.84L305.55,494.86L305.80,494.94L306.05,495.01L306.30,495.09L306.55,495.16L306.80,495.24L307.05,495.31L307.30,495.93L307.55,496.01L307.80,496.08L308.05,496.16L308.30,496.25L308.55,496.33L308.80,495.63L309.05,495.72L309.30,495.81L309.55,495.89L309.80,495.98L310.05,496.07L310.30,496.16L310.55,496.25L310.80,496.33L311.05,496.42L311.30,496.93L311.55,497.02L311.80,497.10L312.05,497.19L312.30,497.28L312.55,497.37L312.80,497.45L313.05,497.55L313.30,497.65L313.54,497.63L313.79,497.73L314.04,497.83L314.29,497.93L314.54,498.03L314.79,498.13L315.04,498.23L315.29,498.33L315.54,498.43L315.79,498.85L316.04,498.95L316.29,499.05L316.54,499.15L316.79,499.25L317.04,499.35L317.29,499.45L317.54,499.55L317.79,499.79L318.04,499.86L318.29,499.92L318.54,499.99L318.79,500.05L319.04,500.11L319.29,500.17L319.54,500.24L319.79,500.01L320.04,500.07L320.29,500.13L320.54,500.20L320.79,500.26L321.04,500.32L321.29,500.38L321.54,500.16L321.79,500.23L322.04,500.29L322.29,500.35L322.54,500.41L322.79,500.48L323.04,500.52L323.29,500.73L323.54,500.77L323.79,500.80L324.04,500.84L324.29,500.88L324.54,500.92L324.79,500.95L325.04,500.99L325.29,501.03L325.54,501.07L325.79,501.10L326.04,501.14L326.29,501.53L326.54,501.56L326.79,501.60L327.04,501.64L327.29,501.68L327.54,501.71L327.79,501.75L328.04,501.78L328.29,501.80L328.54,501.44L328.79,501.46L329.04,501.49L329.29,501.51L329.54,501.54L329.78,501.56L330.03,501.59L330.28,501.61L330.53,501.64L330.78,501.66L331.03,501.69L331.28,502.56L331.53,502.58L331.78,502.61L332.03,501.76L332.28,501.78L332.53,501.81L332.78,501.83L333.03,501.86L333.28,501.88L333.53,502.11L333.78,502.14L334.03,502.16L334.28,502.19L334.53,502.21L334.78,502.24L335.03,502.26L335.28,502.29L335.53,502.31L335.78,502.37L336.03,502.40L336.28,502.42L336.53,502.45L336.78,502.47L337.03,502.50L337.28,502.52L337.53,502.55L337.78,502.66L338.03,502.70L338.28,502.74L338.53,502.77L338.78,502.81L339.03,502.85L339.28,502.89L339.53,502.92L339.78,502.96L340.03,503.00L340.28,503.04L340.53,502.88L340.78,502.91L341.03,502.95L341.28,502.99L341.53,503.03L341.78,503.06L342.03,503.10L342.28,503.25L342.53,503.28L342.78,503.32L343.03,503.37L343.28,503.42L343.53,503.47L343.78,503.52L344.03,503.14L344.28,503.19L344.53,503.24L344.78,503.29L345.03,503.34L345.28,503.39L345.53,503.44L345.78,503.49L346.02,503.54L346.27,503.59L346.52,503.69L346.77,503.86L347.02,506.40L347.27,506.40L347.52,506.40L347.77,506.40L348.02,506.40L348.27,506.40L348.52,506.40L348.77,506.40L349.02,506.40L349.27,506.43L349.52,506.40L349.77,506.40L350.02,506.65L350.27,506.65L350.52,506.65L350.77,506.65L351.02,506.65L351.27,506.65L351.52,506.65L351.77,509.10L352.02,506.65L352.27,506.65L352.52,506.65L352.77,506.65L353.02,506.65L353.27,506.86L353.52,506.86L353.77,506.86L354.02,506.86L354.27,506.86L354.52,506.86L354.77,506.86L355.02,506.16L355.27,506.16L355.52,508.27L355.77,508.27L356.02,507.38L356.27,507.38L356.52,507.38L356.77,508.04L357.02,508.04L357.27,508.04L357.52,508.04L357.77,509.39L358.02,509.39L358.27,506.39L358.52,506.39L358.77,506.39L359.02,506.39L359.27,506.91L359.52,506.91L359.77,506.91L360.02,506.91L360.27,506.91L360.52,507.88L360.77,507.88L361.02,506.91L361.27,506.91L361.52,506.91L361.77,506.91L362.02,506.83L362.26,506.83L362.51,506.83L362.76,505.93L363.01,504.79L363.26,503.65L363.51,502.51L363.76,501.37L364.01,501.47L364.26,501.49L364.51,501.51L364.76,503.32L365.01,503.33L365.26,502.47L365.51,502.48L365.76,502.49L366.01,504.60L366.26,504.62L366.51,504.63L366.76,500.94L367.01,500.95L367.26,500.96L367.51,500.97L367.76,500.98L368.01,500.99L368.26,501.00L368.51,502.10L368.76,502.12L369.01,502.14L369.26,502.16L369.51,502.18L369.76,502.20L370.01,502.22L370.26,502.32L370.51,502.42L370.76,502.52L371.01,501.79L371.26,501.89L371.51,502.00L371.76,502.10L372.01,502.20L372.26,502.44L372.51,505.33L372.76,505.38L373.01,502.74L373.26,502.84L373.51,502.95L373.76,503.05L374.01,503.15L374.26,503.25L374.51,503.96L374.76,504.06L375.01,504.16L375.26,504.31L375.51,504.46L375.76,504.61L376.01,504.76L376.26,504.91L376.51,505.06L376.76,505.21L377.01,505.36L377.26,506.86L377.51,507.00L377.76,507.15L378.01,507.29L378.26,504.44L378.50,504.57L378.75,504.71L379.00,504.87L379.25,505.02L379.50,505.18L379.75,506.50L380.00,506.59L380.25,506.49L380.50,506.39L380.75,506.29L381.00,506.19L381.25,506.09L381.50,505.98L381.75,507.32L382.00,507.22L382.25,507.13L382.50,507.03L382.75,506.93L383.00,506.42L383.25,506.32L383.50,506.22L383.75,506.12L384.00,506.02L384.25,505.92L384.50,505.83L384.75,505.73L385.00,504.64L385.25,504.59L385.50,504.54L385.75,504.49L386.00,504.44L386.25,504.39L386.50,504.34L386.75,504.29L387.00,504.24L387.25,504.88L387.50,504.83L387.75,504.78L388.00,504.73L388.25,504.68L388.50,504.63L388.75,504.58L389.00,504.53L389.25,504.48L389.50,504.43L389.75,504.38L390.00,504.43L390.25,504.36L390.50,504.29L390.75,504.21L391.00,504.14L391.25,504.06L391.50,503.99L391.75,503.91L392.00,503.84L392.25,503.83L392.50,503.75L392.75,503.68L393.00,503.61L393.25,503.53L393.50,503.46L393.75,502.25L394.00,502.17L394.25,502.10L394.50,502.02L394.74,501.95L394.99,501.95L395.24,501.98L395.49,502.02L395.74,502.06L395.99,502.10L396.24,502.13L396.49,502.17L396.74,502.28L396.99,502.31L397.24,502.35L397.49,502.39L397.74,502.51L397.99,502.55L398.24,502.58L398.49,502.62L398.74,502.66L398.99,502.70L399.24,502.74L399.49,502.77L399.74,502.81L399.99,505.79L400.24,505.83L400.49,503.20L400.74,503.24L400.99,503.27L401.24,503.31L401.49,503.35L401.74,503.39L401.99,503.42L402.24,503.62L402.49,503.66L402.74,503.70L402.99,503.74L403.24,503.77L403.49,503.81L403.74,503.85L403.99,503.89L404.24,503.92L404.49,503.96L404.74,504.00L404.99,504.64L405.24,504.67L405.49,504.69L405.74,504.72L405.99,504.74L406.24,504.77L406.49,504.79L406.74,503.49L406.99,503.52L407.24,503.54L407.49,503.57L407.74,503.59L407.99,503.62L408.24,503.64L408.49,505.31L408.74,505.33L408.99,505.35L409.24,505.38L409.49,505.40L409.74,505.44L409.99,505.68L410.24,505.93L410.49,504.51L410.74,504.76L410.98,505.02L411.23,505.27L411.48,505.52L411.73,505.78L411.98,506.03L412.23,506.24L412.48,507.11L412.73,507.01L412.98,506.91L413.23,506.81L413.48,506.71L413.73,506.61L413.98,505.98L414.23,505.88L414.48,506.74L414.73,506.62L414.98,506.50L415.23,506.21L415.48,506.11L415.73,506.01L415.98,505.91L416.23,505.81L416.48,505.71L416.73,505.61L416.98,505.51L417.23,505.35L417.48,505.39L417.73,505.42L417.98,505.46L418.23,505.50L418.48,505.53L418.73,505.57L418.98,505.61L419.23,506.20L419.48,506.24L419.73,506.27L419.98,506.31L420.23,506.35L420.48,506.38L420.73,506.42L420.98,506.46L421.23,506.75L421.48,506.78L421.73,506.82L421.98,506.86L422.23,506.88L422.48,506.88L422.73,505.99L422.98,505.99L423.23,505.99L423.48,505.99L423.73,505.99L423.98,505.99L424.23,505.99L424.48,505.99L424.73,505.99L424.98,505.99L425.23,505.92L425.48,505.92L425.73,505.92L425.98,505.92L426.23,505.92L426.48,505.92L426.73,505.92L426.98,505.58L427.22,505.58L427.47,505.58L427.72,505.58L427.97,505.58L428.22,505.58L428.47,505.56L428.72,505.56L428.97,505.56L429.22,505.56L429.47,505.56L429.72,505.56L429.97,505.56L430.22,505.06L430.47,505.06L430.72,505.06L430.97,505.06L431.22,505.06L431.47,505.06L431.72,506.99L431.97,506.99L432.22,506.97L432.47,506.94L432.72,505.88L432.97,505.85L433.22,505.83L433.47,505.80L433.72,505.78L433.97,505.75L434.22,505.73L434.47,506.83L434.72,506.80L434.97,506.78L435.22,505.25L435.47,505.22L435.72,505.20L435.97,505.17L436.22,509.13L436.47,509.11L436.72,509.08L436.97,506.86L437.22,506.86L437.47,506.88L437.72,506.89L437.97,506.91L438.22,506.93L438.47,506.94L438.72,506.96L438.97,506.98L439.22,504.81L439.47,504.83L439.72,504.81L439.97,504.82L440.22,504.84L440.47,504.86L440.72,504.87L440.97,505.86L441.22,505.88L441.47,505.90L441.72,505.91L441.97,505.93L442.22,505.95L442.47,505.93L442.72,505.94L442.97,505.96L443.22,505.98L443.46,505.99L443.71,506.01L443.96,506.03L444.21,506.04L444.46,506.21L444.71,506.29L444.96,506.37L445.21,506.45L445.46,506.53L445.71,506.62L445.96,506.70L446.21,506.78L446.46,506.00L446.71,506.08L446.96,506.16L447.21,506.25L447.46,506.33L447.71,506.42L447.96,506.50L448.21,506.61L448.46,507.11L448.71,507.61L448.96,508.12L449.21,512.82L449.46,513.25L449.71,510.41L449.96,508.97L450.21,509.04L450.46,509.10L450.71,509.16L450.96,509.23L451.21,509.29L451.46,509.35L451.71,509.41L451.96,510.77L452.21,510.83L452.46,510.89L452.71,510.95L452.96,511.01L453.21,512.28L453.46,512.34L453.71,512.40L453.96,511.68L454.21,511.74L454.46,511.80L454.71,512.78L454.96,512.87L455.21,512.06L455.46,512.15L455.71,511.05L455.96,511.14L456.21,511.22L456.46,511.31L456.71,511.40L456.96,511.49L457.21,515.21L457.46,515.29L457.71,515.37L457.96,511.65L458.21,511.75L458.46,511.85L458.71,511.94L458.96,512.04L459.21,512.14L459.46,511.53L459.70,511.66L459.95,511.79L460.20,511.92L460.45,512.04L460.70,512.17L460.95,514.79L461.20,514.90L461.45,515.02L461.70,515.14L461.95,514.65L462.20,514.78L462.45,514.90L462.70,515.02L462.95,515.14L463.20,515.27L463.45,515.39L463.70,515.51L463.95,514.74L464.20,514.86L464.45,515.12L464.70,515.52L464.95,515.92L465.20,516.32L465.45,517.29L465.70,517.68L465.95,518.08L466.20,518.47L466.45,518.87L466.70,519.26L466.95,519.44L467.20,519.44L467.45,519.44L467.70,518.38L467.70,565.30Z" fill="#E4E689"/>
<text x="21.00" y="8.90" font-size="10.70" text-anchor="start" font-weight="bold" fill="#111" >A - By EU country</text>
<text x="104.45" y="24.90" font-size="7.90" text-anchor="middle" font-weight="bold" fill="#222" >In vessel number</text>
<text x="244.45" y="24.90" font-size="7.90" text-anchor="middle" font-weight="bold" fill="#222" >Overall</text>
<text x="386.50" y="24.90" font-size="7.90" text-anchor="middle" font-weight="bold" fill="#222" >In tonnage</text>
<text x="526.50" y="24.90" font-size="7.90" text-anchor="middle" font-weight="bold" fill="#222" >Overall</text>
<text x="21.00" y="211.00" font-size="10.70" text-anchor="start" font-weight="bold" fill="#111" >B - By vessel type</text>
<text x="104.45" y="227.00" font-size="7.90" text-anchor="middle" font-weight="bold" fill="#222" >In vessel number</text>
<text x="244.45" y="227.00" font-size="7.90" text-anchor="middle" font-weight="bold" fill="#222" >Overall</text>
<text x="386.50" y="227.00" font-size="7.90" text-anchor="middle" font-weight="bold" fill="#222" >In tonnage</text>
<text x="526.50" y="227.00" font-size="7.90" text-anchor="middle" font-weight="bold" fill="#222" >Overall</text>
<text x="21.00" y="413.40" font-size="10.70" text-anchor="start" font-weight="bold" fill="#111" >C - By target species</text>
<text x="104.45" y="429.40" font-size="7.90" text-anchor="middle" font-weight="bold" fill="#222" >In vessel number</text>
<text x="244.45" y="429.40" font-size="7.90" text-anchor="middle" font-weight="bold" fill="#222" >Overall</text>
<text x="386.50" y="429.40" font-size="7.90" text-anchor="middle" font-weight="bold" fill="#222" >In tonnage</text>
<text x="526.50" y="429.40" font-size="7.90" text-anchor="middle" font-weight="bold" fill="#222" >Overall</text>
<path d="M20.60,29.30V160.80H188.30" fill="none" stroke="#151515" stroke-width="0.75"/>
<path d="M17.20,160.80H20.60" stroke="#151515" stroke-width="0.75"/>
<text x="14.50" y="164.20" font-size="8.30" text-anchor="end" font-weight="normal" fill="#2b2b2b" >0</text>
<path d="M17.20,125.85H20.60" stroke="#151515" stroke-width="0.75"/>
<text x="14.50" y="129.25" font-size="8.30" text-anchor="end" font-weight="normal" fill="#2b2b2b" >100</text>
<path d="M17.20,90.90H20.60" stroke="#151515" stroke-width="0.75"/>
<text x="14.50" y="94.30" font-size="8.30" text-anchor="end" font-weight="normal" fill="#2b2b2b" >200</text>
<path d="M17.20,55.95H20.60" stroke="#151515" stroke-width="0.75"/>
<text x="14.50" y="59.35" font-size="8.30" text-anchor="end" font-weight="normal" fill="#2b2b2b" >300</text>
<path d="M40.33,160.80V164.60" stroke="#151515" stroke-width="0.75"/>
<text x="40.33" y="173.80" font-size="8.30" text-anchor="middle" font-weight="normal" fill="#2b2b2b" >2010</text>
<path d="M89.65,160.80V164.60" stroke="#151515" stroke-width="0.75"/>
<text x="89.65" y="173.80" font-size="8.30" text-anchor="middle" font-weight="normal" fill="#2b2b2b" >2015</text>
<path d="M138.98,160.80V164.60" stroke="#151515" stroke-width="0.75"/>
<text x="138.98" y="173.80" font-size="8.30" text-anchor="middle" font-weight="normal" fill="#2b2b2b" >2020</text>
<path d="M305.30,29.30V160.80H467.70" fill="none" stroke="#151515" stroke-width="0.75"/>
<path d="M301.90,160.80H305.30" stroke="#151515" stroke-width="0.75"/>
<text x="299.20" y="164.20" font-size="8.30" text-anchor="end" font-weight="normal" fill="#2b2b2b" >0</text>
<path d="M301.90,128.36H305.30" stroke="#151515" stroke-width="0.75"/>
<text x="299.20" y="131.76" font-size="8.30" text-anchor="end" font-weight="normal" fill="#2b2b2b" >50K</text>
<path d="M301.90,95.92H305.30" stroke="#151515" stroke-width="0.75"/>
<text x="299.20" y="99.32" font-size="8.30" text-anchor="end" font-weight="normal" fill="#2b2b2b" >100K</text>
<path d="M301.90,63.48H305.30" stroke="#151515" stroke-width="0.75"/>
<text x="299.20" y="66.88" font-size="8.30" text-anchor="end" font-weight="normal" fill="#2b2b2b" >150K</text>
<path d="M301.90,31.04H305.30" stroke="#151515" stroke-width="0.75"/>
<text x="299.20" y="34.44" font-size="8.30" text-anchor="end" font-weight="normal" fill="#2b2b2b" >200K</text>
<path d="M324.41,160.80V164.60" stroke="#151515" stroke-width="0.75"/>
<text x="324.41" y="173.80" font-size="8.30" text-anchor="middle" font-weight="normal" fill="#2b2b2b" >2010</text>
<path d="M372.17,160.80V164.60" stroke="#151515" stroke-width="0.75"/>
<text x="372.17" y="173.80" font-size="8.30" text-anchor="middle" font-weight="normal" fill="#2b2b2b" >2015</text>
<path d="M419.94,160.80V164.60" stroke="#151515" stroke-width="0.75"/>
<text x="419.94" y="173.80" font-size="8.30" text-anchor="middle" font-weight="normal" fill="#2b2b2b" >2020</text>
<path d="M20.60,231.40V362.90H188.30" fill="none" stroke="#151515" stroke-width="0.75"/>
<path d="M17.20,362.90H20.60" stroke="#151515" stroke-width="0.75"/>
<text x="14.50" y="366.30" font-size="8.30" text-anchor="end" font-weight="normal" fill="#2b2b2b" >0</text>
<path d="M17.20,327.95H20.60" stroke="#151515" stroke-width="0.75"/>
<text x="14.50" y="331.35" font-size="8.30" text-anchor="end" font-weight="normal" fill="#2b2b2b" >100</text>
<path d="M17.20,293.00H20.60" stroke="#151515" stroke-width="0.75"/>
<text x="14.50" y="296.40" font-size="8.30" text-anchor="end" font-weight="normal" fill="#2b2b2b" >200</text>
<path d="M17.20,258.05H20.60" stroke="#151515" stroke-width="0.75"/>
<text x="14.50" y="261.45" font-size="8.30" text-anchor="end" font-weight="normal" fill="#2b2b2b" >300</text>
<path d="M40.33,362.90V366.70" stroke="#151515" stroke-width="0.75"/>
<text x="40.33" y="375.90" font-size="8.30" text-anchor="middle" font-weight="normal" fill="#2b2b2b" >2010</text>
<path d="M89.65,362.90V366.70" stroke="#151515" stroke-width="0.75"/>
<text x="89.65" y="375.90" font-size="8.30" text-anchor="middle" font-weight="normal" fill="#2b2b2b" >2015</text>
<path d="M138.98,362.90V366.70" stroke="#151515" stroke-width="0.75"/>
<text x="138.98" y="375.90" font-size="8.30" text-anchor="middle" font-weight="normal" fill="#2b2b2b" >2020</text>
<path d="M305.30,231.40V362.90H467.70" fill="none" stroke="#151515" stroke-width="0.75"/>
<path d="M301.90,362.90H305.30" stroke="#151515" stroke-width="0.75"/>
<text x="299.20" y="366.30" font-size="8.30" text-anchor="end" font-weight="normal" fill="#2b2b2b" >0</text>
<path d="M301.90,330.46H305.30" stroke="#151515" stroke-width="0.75"/>
<text x="299.20" y="333.86" font-size="8.30" text-anchor="end" font-weight="normal" fill="#2b2b2b" >50K</text>
<path d="M301.90,298.02H305.30" stroke="#151515" stroke-width="0.75"/>
<text x="299.20" y="301.42" font-size="8.30" text-anchor="end" font-weight="normal" fill="#2b2b2b" >100K</text>
<path d="M301.90,265.58H305.30" stroke="#151515" stroke-width="0.75"/>
<text x="299.20" y="268.98" font-size="8.30" text-anchor="end" font-weight="normal" fill="#2b2b2b" >150K</text>
<path d="M301.90,233.14H305.30" stroke="#151515" stroke-width="0.75"/>
<text x="299.20" y="236.54" font-size="8.30" text-anchor="end" font-weight="normal" fill="#2b2b2b" >200K</text>
<path d="M324.41,362.90V366.70" stroke="#151515" stroke-width="0.75"/>
<text x="324.41" y="375.90" font-size="8.30" text-anchor="middle" font-weight="normal" fill="#2b2b2b" >2010</text>
<path d="M372.17,362.90V366.70" stroke="#151515" stroke-width="0.75"/>
<text x="372.17" y="375.90" font-size="8.30" text-anchor="middle" font-weight="normal" fill="#2b2b2b" >2015</text>
<path d="M419.94,362.90V366.70" stroke="#151515" stroke-width="0.75"/>
<text x="419.94" y="375.90" font-size="8.30" text-anchor="middle" font-weight="normal" fill="#2b2b2b" >2020</text>
<path d="M20.60,433.80V565.30H188.30" fill="none" stroke="#151515" stroke-width="0.75"/>
<path d="M17.20,565.30H20.60" stroke="#151515" stroke-width="0.75"/>
<text x="14.50" y="568.70" font-size="8.30" text-anchor="end" font-weight="normal" fill="#2b2b2b" >0</text>
<path d="M17.20,530.35H20.60" stroke="#151515" stroke-width="0.75"/>
<text x="14.50" y="533.75" font-size="8.30" text-anchor="end" font-weight="normal" fill="#2b2b2b" >100</text>
<path d="M17.20,495.40H20.60" stroke="#151515" stroke-width="0.75"/>
<text x="14.50" y="498.80" font-size="8.30" text-anchor="end" font-weight="normal" fill="#2b2b2b" >200</text>
<path d="M17.20,460.45H20.60" stroke="#151515" stroke-width="0.75"/>
<text x="14.50" y="463.85" font-size="8.30" text-anchor="end" font-weight="normal" fill="#2b2b2b" >300</text>
<path d="M40.33,565.30V569.10" stroke="#151515" stroke-width="0.75"/>
<text x="40.33" y="578.30" font-size="8.30" text-anchor="middle" font-weight="normal" fill="#2b2b2b" >2010</text>
<path d="M89.65,565.30V569.10" stroke="#151515" stroke-width="0.75"/>
<text x="89.65" y="578.30" font-size="8.30" text-anchor="middle" font-weight="normal" fill="#2b2b2b" >2015</text>
<path d="M138.98,565.30V569.10" stroke="#151515" stroke-width="0.75"/>
<text x="138.98" y="578.30" font-size="8.30" text-anchor="middle" font-weight="normal" fill="#2b2b2b" >2020</text>
<path d="M305.30,433.80V565.30H467.70" fill="none" stroke="#151515" stroke-width="0.75"/>
<path d="M301.90,565.30H305.30" stroke="#151515" stroke-width="0.75"/>
<text x="299.20" y="568.70" font-size="8.30" text-anchor="end" font-weight="normal" fill="#2b2b2b" >0</text>
<path d="M301.90,532.86H305.30" stroke="#151515" stroke-width="0.75"/>
<text x="299.20" y="536.26" font-size="8.30" text-anchor="end" font-weight="normal" fill="#2b2b2b" >50K</text>
<path d="M301.90,500.42H305.30" stroke="#151515" stroke-width="0.75"/>
<text x="299.20" y="503.82" font-size="8.30" text-anchor="end" font-weight="normal" fill="#2b2b2b" >100K</text>
<path d="M301.90,467.98H305.30" stroke="#151515" stroke-width="0.75"/>
<text x="299.20" y="471.38" font-size="8.30" text-anchor="end" font-weight="normal" fill="#2b2b2b" >150K</text>
<path d="M301.90,435.54H305.30" stroke="#151515" stroke-width="0.75"/>
<text x="299.20" y="438.94" font-size="8.30" text-anchor="end" font-weight="normal" fill="#2b2b2b" >200K</text>
<path d="M324.41,565.30V569.10" stroke="#151515" stroke-width="0.75"/>
<text x="324.41" y="578.30" font-size="8.30" text-anchor="middle" font-weight="normal" fill="#2b2b2b" >2010</text>
<path d="M372.17,565.30V569.10" stroke="#151515" stroke-width="0.75"/>
<text x="372.17" y="578.30" font-size="8.30" text-anchor="middle" font-weight="normal" fill="#2b2b2b" >2015</text>
<path d="M419.94,565.30V569.10" stroke="#151515" stroke-width="0.75"/>
<text x="419.94" y="578.30" font-size="8.30" text-anchor="middle" font-weight="normal" fill="#2b2b2b" >2020</text>
<rect x="216.40" y="72.96" width="56.10" height="87.84" fill="#E526FF"/>
<rect x="216.40" y="44.03" width="56.10" height="28.93" fill="#1200FF"/>
<rect x="216.40" y="38.24" width="56.10" height="5.79" fill="#436E92"/>
<rect x="216.40" y="29.30" width="56.10" height="8.94" fill="#D1D1D1"/>
<path d="M216.40,29.30V160.80H272.50" fill="none" stroke="#151515" stroke-width="0.75"/>
<text x="244.45" y="120.08" font-size="7.50" text-anchor="middle" font-weight="normal" fill="#1a1a1a" stroke="#fff" stroke-width="1.6" paint-order="stroke" stroke-linejoin="round">66.8%</text>
<text x="244.45" y="61.69" font-size="7.50" text-anchor="middle" font-weight="normal" fill="#1a1a1a" stroke="#fff" stroke-width="1.6" paint-order="stroke" stroke-linejoin="round">22.0%</text>
<text x="244.45" y="36.97" font-size="7.50" text-anchor="middle" font-weight="normal" fill="#1a1a1a" stroke="#fff" stroke-width="1.6" paint-order="stroke" stroke-linejoin="round">6.8%</text>
<rect x="501.20" y="96.63" width="50.60" height="64.17" fill="#E526FF"/>
<rect x="501.20" y="67.17" width="50.60" height="29.46" fill="#1200FF"/>
<rect x="501.20" y="65.86" width="50.60" height="1.31" fill="#436E92"/>
<rect x="501.20" y="29.30" width="50.60" height="36.56" fill="#D1D1D1"/>
<path d="M501.20,29.30V160.80H551.80" fill="none" stroke="#151515" stroke-width="0.75"/>
<text x="526.50" y="131.91" font-size="7.50" text-anchor="middle" font-weight="normal" fill="#1a1a1a" stroke="#fff" stroke-width="1.6" paint-order="stroke" stroke-linejoin="round">48.8%</text>
<text x="526.50" y="85.10" font-size="7.50" text-anchor="middle" font-weight="normal" fill="#1a1a1a" stroke="#fff" stroke-width="1.6" paint-order="stroke" stroke-linejoin="round">22.4%</text>
<text x="526.50" y="50.78" font-size="7.50" text-anchor="middle" font-weight="normal" fill="#1a1a1a" stroke="#fff" stroke-width="1.6" paint-order="stroke" stroke-linejoin="round">27.8%</text>
<rect x="216.40" y="313.24" width="56.10" height="49.66" fill="#F0619A"/>
<rect x="216.40" y="290.65" width="56.10" height="22.60" fill="#B2E68C"/>
<rect x="216.40" y="255.70" width="56.10" height="34.94" fill="#ADD4E3"/>
<rect x="216.40" y="243.09" width="56.10" height="12.61" fill="#C7AFD8"/>
<rect x="216.40" y="231.40" width="56.10" height="11.69" fill="#EBB86A"/>
<path d="M216.40,231.40V362.90H272.50" fill="none" stroke="#151515" stroke-width="0.75"/>
<text x="244.45" y="341.27" font-size="7.50" text-anchor="middle" font-weight="normal" fill="#1a1a1a" stroke="#fff" stroke-width="1.6" paint-order="stroke" stroke-linejoin="round">37.8%</text>
<text x="244.45" y="305.14" font-size="7.50" text-anchor="middle" font-weight="normal" fill="#1a1a1a" stroke="#fff" stroke-width="1.6" paint-order="stroke" stroke-linejoin="round">17.2%</text>
<text x="244.45" y="276.38" font-size="7.50" text-anchor="middle" font-weight="normal" fill="#1a1a1a" stroke="#fff" stroke-width="1.6" paint-order="stroke" stroke-linejoin="round">26.6%</text>
<text x="244.45" y="252.60" font-size="7.50" text-anchor="middle" font-weight="normal" fill="#1a1a1a" stroke="#fff" stroke-width="1.6" paint-order="stroke" stroke-linejoin="round">9.6%</text>
<text x="244.45" y="240.45" font-size="7.50" text-anchor="middle" font-weight="normal" fill="#1a1a1a" stroke="#fff" stroke-width="1.6" paint-order="stroke" stroke-linejoin="round">8.9%</text>
<rect x="501.20" y="353.83" width="50.60" height="9.07" fill="#F0619A"/>
<rect x="501.20" y="347.65" width="50.60" height="6.18" fill="#B2E68C"/>
<rect x="501.20" y="266.25" width="50.60" height="81.40" fill="#ADD4E3"/>
<rect x="501.20" y="265.72" width="50.60" height="0.53" fill="#C7AFD8"/>
<rect x="501.20" y="231.40" width="50.60" height="34.32" fill="#EBB86A"/>
<path d="M501.20,231.40V362.90H551.80" fill="none" stroke="#151515" stroke-width="0.75"/>
<text x="526.50" y="361.56" font-size="7.50" text-anchor="middle" font-weight="normal" fill="#1a1a1a" stroke="#fff" stroke-width="1.6" paint-order="stroke" stroke-linejoin="round">6.9%</text>
<text x="526.50" y="310.15" font-size="7.50" text-anchor="middle" font-weight="normal" fill="#1a1a1a" stroke="#fff" stroke-width="1.6" paint-order="stroke" stroke-linejoin="round">61.9%</text>
<text x="526.50" y="251.76" font-size="7.50" text-anchor="middle" font-weight="normal" fill="#1a1a1a" stroke="#fff" stroke-width="1.6" paint-order="stroke" stroke-linejoin="round">26.1%</text>
<rect x="216.40" y="480.61" width="56.10" height="84.69" fill="#E4E689"/>
<rect x="216.40" y="445.50" width="56.10" height="35.11" fill="#C53A9C"/>
<rect x="216.40" y="433.80" width="56.10" height="11.70" fill="#FF82FF"/>
<path d="M216.40,433.80V565.30H272.50" fill="none" stroke="#151515" stroke-width="0.75"/>
<text x="244.45" y="526.16" font-size="7.50" text-anchor="middle" font-weight="normal" fill="#1a1a1a" stroke="#fff" stroke-width="1.6" paint-order="stroke" stroke-linejoin="round">64.4%</text>
<text x="244.45" y="466.26" font-size="7.50" text-anchor="middle" font-weight="normal" fill="#1a1a1a" stroke="#fff" stroke-width="1.6" paint-order="stroke" stroke-linejoin="round">26.7%</text>
<text x="244.45" y="442.85" font-size="7.50" text-anchor="middle" font-weight="normal" fill="#1a1a1a" stroke="#fff" stroke-width="1.6" paint-order="stroke" stroke-linejoin="round">8.9%</text>
<rect x="501.20" y="474.83" width="50.60" height="90.47" fill="#E4E689"/>
<rect x="501.20" y="468.12" width="50.60" height="6.71" fill="#C53A9C"/>
<rect x="501.20" y="433.80" width="50.60" height="34.32" fill="#FF82FF"/>
<path d="M501.20,433.80V565.30H551.80" fill="none" stroke="#151515" stroke-width="0.75"/>
<text x="526.50" y="523.26" font-size="7.50" text-anchor="middle" font-weight="normal" fill="#1a1a1a" stroke="#fff" stroke-width="1.6" paint-order="stroke" stroke-linejoin="round">68.8%</text>
<text x="526.50" y="454.16" font-size="7.50" text-anchor="middle" font-weight="normal" fill="#1a1a1a" stroke="#fff" stroke-width="1.6" paint-order="stroke" stroke-linejoin="round">26.1%</text>
<text x="563.50" y="82.00" font-size="8.00" text-anchor="start" font-weight="bold" fill="#222" >EU country</text>
<circle cx="567.1" cy="94.50" r="2.75" fill="#E526FF" stroke="#222" stroke-width="0.6"/>
<text x="578.80" y="96.80" font-size="6.70" text-anchor="start" font-weight="normal" fill="#333" >Spain</text>
<circle cx="567.1" cy="102.10" r="2.75" fill="#1200FF" stroke="#222" stroke-width="0.6"/>
<text x="578.80" y="104.40" font-size="6.70" text-anchor="start" font-weight="normal" fill="#333" >France</text>
<circle cx="567.1" cy="109.70" r="2.75" fill="#436E92" stroke="#222" stroke-width="0.6"/>
<text x="578.80" y="112.00" font-size="6.70" text-anchor="start" font-weight="normal" fill="#333" >Portugal</text>
<circle cx="567.1" cy="117.30" r="2.75" fill="#D1D1D1" stroke="#222" stroke-width="0.6"/>
<text x="578.80" y="119.60" font-size="6.70" text-anchor="start" font-weight="normal" fill="#333" >Others</text>
<text x="563.50" y="276.40" font-size="8.00" text-anchor="start" font-weight="bold" fill="#222" >Vessel type</text>
<circle cx="567.1" cy="288.90" r="2.75" fill="#ADD4E3" stroke="#222" stroke-width="0.6"/>
<text x="578.80" y="291.20" font-size="6.70" text-anchor="start" font-weight="normal" fill="#333" >Tuna purse seiners</text>
<circle cx="567.1" cy="296.50" r="2.75" fill="#F0619A" stroke="#222" stroke-width="0.6"/>
<text x="578.80" y="298.80" font-size="6.70" text-anchor="start" font-weight="normal" fill="#333" >Pole-and-liners &amp; surface longliners</text>
<circle cx="567.1" cy="304.10" r="2.75" fill="#B2E68C" stroke="#222" stroke-width="0.6"/>
<text x="578.80" y="306.40" font-size="6.70" text-anchor="start" font-weight="normal" fill="#333" >Bottom trawlers &amp; dredgers</text>
<circle cx="567.1" cy="311.70" r="2.75" fill="#C7AFD8" stroke="#222" stroke-width="0.6"/>
<text x="578.80" y="314.00" font-size="6.70" text-anchor="start" font-weight="normal" fill="#333" >Other vessels</text>
<circle cx="567.1" cy="319.30" r="2.75" fill="#EBB86A" stroke="#222" stroke-width="0.6"/>
<text x="578.80" y="321.60" font-size="6.70" text-anchor="start" font-weight="normal" fill="#333" >Pelagic trawlers &amp; seiners</text>
<circle cx="567.1" cy="326.90" r="2.75" fill="#7a7a7a" stroke="#222" stroke-width="0.6"/>
<text x="578.80" y="329.20" font-size="6.70" text-anchor="start" font-weight="normal" fill="#333" >Undet. vessels</text>
<text x="563.50" y="490.40" font-size="8.00" text-anchor="start" font-weight="bold" fill="#222" >Target species</text>
<circle cx="567.1" cy="502.90" r="2.75" fill="#E4E689" stroke="#222" stroke-width="0.6"/>
<text x="578.80" y="505.20" font-size="6.70" text-anchor="start" font-weight="normal" fill="#333" >Large pelagics</text>
<circle cx="567.1" cy="510.50" r="2.75" fill="#C53A9C" stroke="#222" stroke-width="0.6"/>
<text x="578.80" y="512.80" font-size="6.70" text-anchor="start" font-weight="normal" fill="#333" >Demersal species</text>
<circle cx="567.1" cy="518.10" r="2.75" fill="#FF82FF" stroke="#222" stroke-width="0.6"/>
<text x="578.80" y="520.40" font-size="6.70" text-anchor="start" font-weight="normal" fill="#333" >Small pelagics</text>
</svg></body></html>
